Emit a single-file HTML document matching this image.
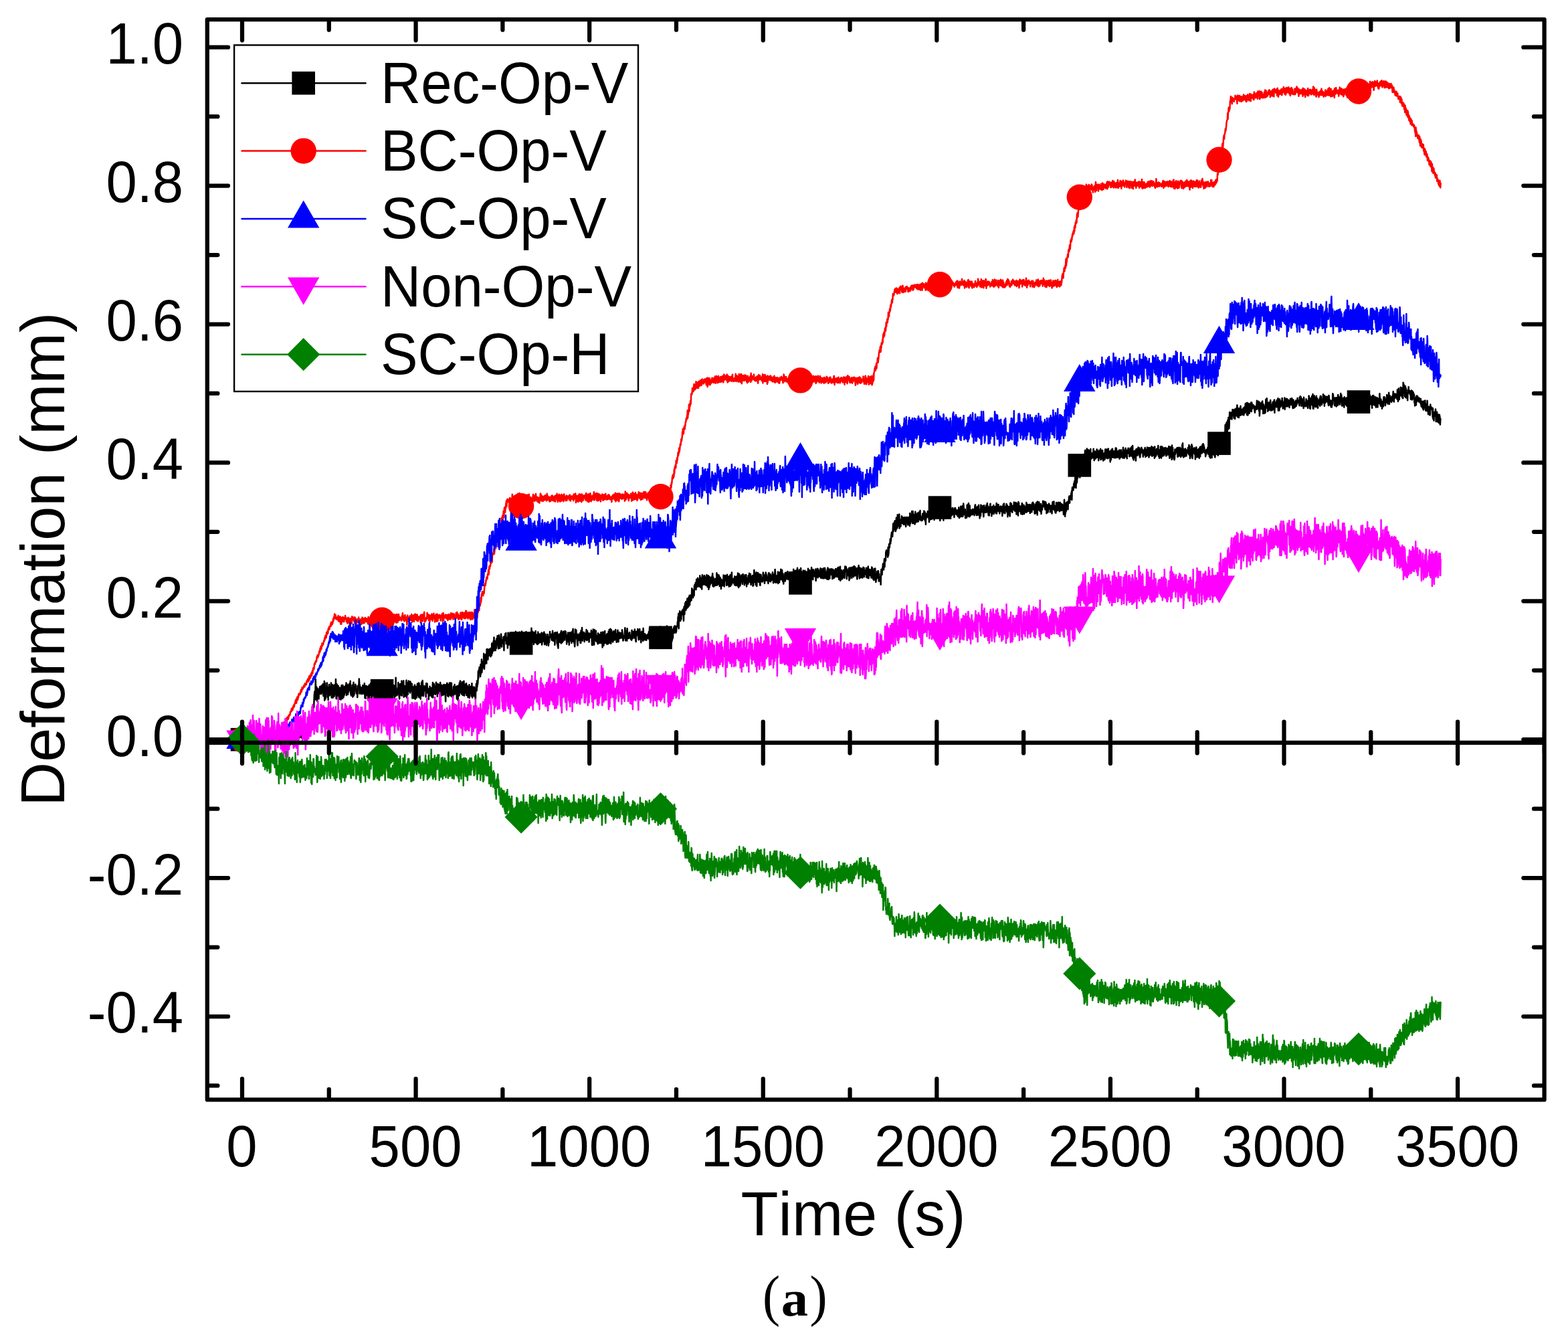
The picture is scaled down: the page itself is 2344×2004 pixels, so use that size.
<!DOCTYPE html>
<html lang="en"><head><meta charset="utf-8"><title>Deformation vs Time (a)</title>
<style>html,body{margin:0;padding:0;background:#fff}body{width:2344px;height:2004px;overflow:hidden}svg{display:block}text{font-family:"Liberation Sans",Arial,Helvetica,sans-serif;fill:#000;font-kerning:none}.tk{font-size:86.7px}.ax{font-size:93px}.cap{font-family:"Liberation Serif","Times New Roman",serif}.ln{fill:none;stroke-width:2.5;stroke-linejoin:round;stroke-linecap:round}.a{stroke:#000;stroke-width:6.25;stroke-linecap:round;fill:none}</style></head><body>
<svg xmlns="http://www.w3.org/2000/svg" width="2344" height="2004" viewBox="0 0 2344 2004">
<rect width="2344" height="2004" fill="#fff"/>
<g>
<path class="ln" stroke="#000000" d="M362.00,1101.6l.36 2.4l.37 6.5l.36-5.3l.36-4.2l.37 6.6l.36-6.4l.36 1.2l.37 5.3l.36-1.3l.36-6.4l.37 6.1l.36 .8l.36-3.9l.37 .3l.36 4.5l.36-.9l.37-2.3l.36 2.8l.36-5l.37 4.3l.36-2.4l.37 .7l.36-.9l.36 0l.37-.1l.36-1.6l.36 7.3l.37-3.3l.36-5.1l.36-.8l.37 3l.36 1.2l.36 2.1l.37-3.1l.36-1.8l.36 6.4l.37-4.8l.36 3.4l.36-6.8l.37 2.4l.36-.4l.36-1.3l.37 2.2l.36 3.8l.36 1l.37-6.5l.36-1.5l.36 1.3l.37 4.4l.36-2l.36 4.5l.37-6.7l.36 5.2l.36 1.8l.37-3.8l.36-4.2l.36 .6l.37 .2l.36 1.8l.37-.1l.36 5.6l.36-3.4l.37-4.3l.36 7.6l.36-7.2l.37 .5l.36 5.6l.36-2.3l.37-5.1l.36 7.3l.36-8l.37 1.5l.36 4.5l.36-2.8l.37 4.6l.36-.3l.36-.4l.37-6.4l.36-.2l.36-.2l.37 2.5l.36 3.2l.36-6.6l.37 2.7l.36-1.8l.36 7.6l.37-6l.36 2l.36-2.8l.37-2.1l.36 8.9l.36 1l.37-2.7l.36 .8l.36-.3l.37-.7l.36-3.4l.36-3.9l.37 7.3l.36-4.2l.37 2.7l.36 1.5l.36-.8l.37 2.5l.36-4.4l.36-2.1l.37 3.5l.36-.9l.36-3.4l.37 0l.36 2.1l.36-.2l.37 3.1l.36-1.9l.36-4.5l.37 3.6l.36-.7l.36 5.9l.37-7.1l.36 4l.36-3.4l.37 1.7l.36 1.5l.36-5.7l.37 7.3l.36-7.2l.36 2.2l.37 2l.36-2.2l.36 4.1l.37-1.4l.36-1.4l.36 6.2l.37-3.7l.36-1.5l.36 4.3l.37-7.9l.36 6.5l.37 1.4l.36-4.5l.36-2l.37-.2l.36 7.9l.36-1.6l.37-2.5l.36 3.1l.36-9.1l.37 10.9l.36-8.8l.36-1.8l.37 3.5l.36 2.6l.36-3.6l.37 4.2l.36 1.8l.36-8.2l.37 5.1l.36-7l.36 9.6l.37-10.4l.36 8.7l.36-4.1l.37 1.8l.36 .4l.36-2.8l.37-2.9l.36 5.5l.36-4.1l.37-.2l.36 4.4l.36-1.9l.37-5l.36 11.5l.36-1.7l.37 .8l.36-3.9l.37 1.2l.36-7.7l.36 9.2l.37-6.7l.36 5.6l.36-5.2l.37-.8l.36 5.8l.36 .7l.37 .9l.36-3.3l.36 5.4l.37-6.6l.36 4.2l.36-5l.37 3.7l.36 .1l.36-1.1l.37 4.1l.36-4.5l.36 .8l.37-6.8l.36 6.2l.36-4.9l.37 1.5l.36 5.3l.36-5.1l.37-.8l.36 5.2l.36-4.7l.37 7.2l.36-5.8l.36 1.8l.37 .6l.36-5.4l.36 6.1l.37 .7l.36-7.4l.36 2.3l.37-.4l.36-1l.37 4.6l.36-1.4l.36-1.9l.37 4l.36-4.8l.36 3.4l.37-6.7l.36 8.2l.36-.3l.37-3.1l.36-3.5l.36 6.7l.37-.6l.36-6.5l.36 2l.37 6.9l.36-3.2l.36-2.5l.37 .4l.36-.5l.36 1.7l.37 .8l.36-.2l.36-6.9l.37 4.5l.36 3.9l.36-2.2l.37-1.6l.36-2.1l.36 1.4l.37 4.9l.36-2.4l.36-5.6l.37 5.2l.36-1.1l.36-3.4l.37 3.4l.36-5l.37-.2l.36 2.4l.36-.8l.37 3.5l.36-2.5l.36 .4l.37-5.9l.36 1.2l.36 5.2l.37-.3l.36-1.7l.36 .8l.37 1.2l.36-8.9l.36-.4l.37 .6l.36 8.6l.36-15.4l.37 14l.36-7.5l.36 3.3l.37 1.4l.36-9.9l.36 8.8l.37-4.3l.36 1.4l.36-3.6l.37-8.5l.36-4l.36 3.8l.37-8.1l.36-4l.36-2.4l.37-6.1l.36 10l.36-.8l.37-2l.36-9.6l.36 1.2l.37 2.3l.36-11.9l.37-7.5l.36-3.6l.36-1.2l.37 1l.36 11.5l.36-30.4l.37 17.1l.36-.9l.36 11.6l.37-16.4l.36 4.5l.36 16.5l.37-19l.36 3.2l.36-1.8l.37 5.5l.36 7.4l.36-12.7l.37 14.3l.36-9l.36-3.7l.37 5.5l.36-9.6l.36-1.6l.37 1.7l.36-.6l.36 1.1l.37 7.1l.36 1.9l.36-12.5l.37 4l.36 6.2l.36 .3l.37-7.8l.36-4.4l.36-.6l.37 9.9l.36 7.7l.37-1.5l.36-1.4l.36-.5l.37-18.7l.36 28.9l.36-22l.37-4l.36 13.6l.36 10l.37-13.3l.36 5.2l.36-3.6l.37-4.8l.36 5.2l.36-12.6l.37 6.9l.36 14.5l.36-9l.37-.2l.36 13.4l.36-18.8l.37 12.5l.36-3.8l.36-13l.37 13.7l.36 2.8l.36-6.5l.37-5.9l.36 10l.36-7.7l.37 3.2l.36-12.2l.36 12.3l.37 9.9l.36-18.4l.36 4.1l.37-5l.36 6.5l.36 13l.37-16.9l.36 7.7l.37-5.6l.36-3.9l.36 16.9l.37-15.8l.36 10.7l.36-9.4l.37-3.4l.36 15.2l.36-3.9l.37-19.4l.36 10.7l.36 18.2l.37 .3l.36-1.8l.36-19.8l.37 1.2l.36 15.3l.36 .6l.37-7.9l.36 4.9l.36-11.8l.37 3.9l.36 10.1l.36 6l.37-6.3l.36 1l.36-8.2l.37-3.6l.36 1.1l.36 3.3l.37 13.5l.36-5.6l.36-.7l.37-15.4l.36 2.7l.36 6.1l.37-6.7l.36 18l.37-20.1l.36 7.4l.36-5.1l.37 15.7l.36-3.5l.36-11.1l.37 11.3l.36-2.2l.36-10.4l.37 8.9l.36-1.7l.36-4.9l.37-4.1l.36 4.4l.36-8.3l.37 18.6l.36-10.9l.36-.8l.37-4.5l.36 10.2l.36-6.6l.37 11.4l.36-8.8l.36 5.8l.37-11.2l.36 2.4l.36 2.4l.37-6.7l.36 10.3l.36-4l.37 3.3l.36-13.6l.36 15.8l.37 4.3l.36 .9l.36 .9l.37-4.7l.36-7.4l.37 11.9l.36-15.6l.36 9.6l.37 8.2l.36-5.9l.36-3.2l.37-12.7l.36 19.9l.36-2.3l.37 .2l.36-11.1l.36 3.2l.37-3.1l.36-1.2l.36-2.7l.37 8.3l.36-6.7l.36 9.5l.37 2.6l.36-6.5l.36 5.9l.37-4.5l.36 10.8l.36-6.5l.37-10.5l.36 .1l.36 .4l.37-2.1l.36-.2l.36-8.9l.37 5.6l.36 16.5l.36-13l.37 2.9l.36 10.1l.36-3.6l.37 .6l.36-6.2l.36 5.7l.37 1.8l.36 2.4l.37-3.5l.36-1.4l.36 4l.37-12l.36 6.5l.36 2.1l.37 3.9l.36-7l.36 .7l.37-.2l.36-9.1l.36 11.7l.37 10.2l.36-4.1l.36 1.8l.37 2.9l.36-18.6l.36 8.7l.37-8.5l.36 0l.36 10.2l.37 1.2l.36 2.6l.36-3.9l.37-2.3l.36 12.9l.36-20.2l.37 10.4l.36-3.3l.36-9.2l.37 19.7l.36-15.1l.36 10l.37-11.5l.36 12.3l.36-17.5l.37 17.1l.36-4.9l.37 4.2l.36 5.2l.36-9.9l.37-1.8l.36-4.1l.36 6.9l.37-8.3l.36 14.1l.36-10.2l.37-3.7l.36 7.1l.36-9.1l.37 3.4l.36 4l.36-6.5l.37 15.9l.36-18.2l.36 8.8l.37-3l.36 9l.36-12.2l.37 3.8l.36 13.5l.36-22.7l.37 20.4l.36-10.3l.36 4.7l.37-12.8l.36 4.7l.36 14.7l.37-15l.36 2.8l.36 7.9l.37-7.2l.36 9.1l.36-5.2l.37-7.6l.36 18.9l.36-19.6l.37-3.7l.36 8.9l.37 5.6l.36-4.9l.36-8.7l.37 14.3l.36 1.7l.36-6.8l.37 1.9l.36-.2l.36-5.4l.37 10.6l.36-4.1l.36-9.9l.37 3.9l.36 12.1l.36-21.4l.37 27.6l.36-11l.36-12.3l.37 8.2l.36-5.2l.36 .1l.37-4.4l.36 4.9l.36-1.5l.37 17.2l.36-22.6l.36 6l.37 9.3l.36-2.9l.36-6.2l.37 5.1l.36-13.9l.36 3.4l.37 4l.36 .4l.36-6.5l.37 .2l.36 8.8l.37 6.9l.36-8.8l.36-6.6l.37 3.9l.36-3.5l.36 9l.37-.8l.36 6.7l.36 1.6l.37-3.5l.36 3.4l.36-9.2l.37 4.5l.36-7.7l.36 15.2l.37-14.8l.36 1.1l.36 17.3l.37-9.8l.36 .4l.36 7l.37-7l.36-20.7l.36 23.4l.37-.4l.36 3.9l.36-3.2l.37 0l.36 2.1l.36-2.1l.37-8.1l.36 6.4l.36-14.8l.37 7.3l.36-2.1l.36 12.5l.37 3.3l.36 3.5l.36-7.1l.37-12.9l.36-2.5l.37 1.8l.36 9.9l.36 3l.37 2.2l.36-.1l.36-21.1l.37 22l.36-7.2l.36 3.1l.37-5.1l.36-1l.36 .5l.37-10.4l.36-2.3l.36 24.5l.37-4.3l.36-6.8l.36-5.7l.37 8.5l.36 6.9l.36-10.3l.37-1.1l.36 9l.36 2.7l.37-23.2l.36-.8l.36 26.2l.37-15.7l.36 6.2l.36-10.3l.37 15l.36-1.1l.36-16.8l.37 13l.36-15.6l.36 8.1l.37 4.9l.36-1.4l.37 .1l.36-9l.36 15.2l.37-17l.36 14.9l.36-12.3l.37 5.1l.36-2.4l.36 2.2l.37-4.2l.36 5.9l.36 15.9l.37-7.5l.36 2.6l.36-12.1l.37 8.2l.36-5.9l.36 14.6l.37-5.3l.36-2.4l.36-11.7l.37-.5l.36 11.2l.36 10l.37-4l.36-14.4l.36 1.2l.37 10.2l.36-11.2l.36 16.2l.37-10.1l.36-6.7l.36-4.2l.37 5.5l.36 12.3l.36-3.4l.37-1.8l.36-13.7l.37 21.4l.36-20.7l.36 14.5l.37 6.7l.36-.9l.36-15.8l.37 8.3l.36 10.5l.36-16.2l.37-3.7l.36 14.9l.36-20.1l.37 8.1l.36-6.8l.36 18.7l.37-22.6l.36 6l.36 14.7l.37-3.3l.36 5.8l.36-4.6l.37-9.9l.36-.3l.36 4.6l.37 2l.36-5.3l.36-1.1l.37 .8l.36 1l.36 14.2l.37-20.2l.36 13.1l.36-10.1l.37 2.6l.36-5.5l.36 12.2l.37-5.4l.36 7.8l.36-1.9l.37-4.7l.36 15.8l.37-6.1l.36-4.1l.36-5.8l.37 10.3l.36-13.7l.36 13.7l.37-.7l.36-.6l.36 .6l.37-6.2l.36-4.7l.36 5l.37 8.7l.36-12.4l.36 6.2l.37-6.9l.36-8.6l.36 22.6l.37-16.1l.36 1.4l.36-1.9l.37-3.9l.36 14.9l.36-3l.37-7.6l.36-.6l.36 2.2l.37 9.8l.36-7.7l.36-6.8l.37-3.5l.36 8.3l.36 1.6l.37 6.1l.36-13.3l.36 18.4l.37-18.8l.36 13.1l.37-10.2l.36-2.3l.36 8.3l.37 2.4l.36 .9l.36 2.7l.37-13.3l.36 .5l.36 .1l.37-4.3l.36 17l.36-14l.37 .4l.36 3.7l.36 12.6l.37-15.4l.36 6.9l.36 7.6l.37-3.1l.36-11.3l.36 4.2l.37 10l.36-13.5l.36 13l.37-15l.36 6.6l.36-5.9l.37 0l.36 8.8l.36-1.7l.37 8.9l.36 8.6l.36-25.1l.37 8.1l.36 1.4l.36-.7l.37-6.1l.36-5.2l.36 5.7l.37 13.6l.36-2.8l.37-12.2l.36-1.9l.36 17.9l.37-15.6l.36 3.9l.36 9.6l.37-18.3l.36 4.9l.36-1.4l.37 10.4l.36-14l.36 7.5l.37 12.2l.36-10.3l.36-9.2l.37 11.9l.36 2.3l.36 4.9l.37 2.1l.36-5.7l.36 7.2l.37-3.2l.36-8.6l.36-5.6l.37 10.6l.36 1l.36-8.5l.37-6l.36 14.4l.36-10.5l.37 6.8l.36 2.1l.36-9.3l.37 2.7l.36 7.2l.36-.4l.37 8.3l.36-19.1l.37 8.7l.36-8.7l.36 6.8l.37 14.7l.36-17.8l.36 9.2l.37-5.6l.36-9l.36 15.9l.37-19l.36 .9l.36 .3l.37-4.3l.36 17.4l.36-9.2l.37 7.5l.36-4.8l.36 8.7l.37-15.7l.36 10.9l.36-13.1l.37 19.3l.36-5.1l.36 5.3l.37 .3l.36-5l.36 1l.37-17.2l.36 10.2l.36 11.7l.37-8.4l.36 4.9l.36-7.5l.37-5.8l.36 .4l.36-.6l.37 13.1l.36-14.5l.36 17.9l.37-10.4l.36 1.2l.37-5.1l.36 9.2l.36-6.7l.37 14.8l.36-4.4l.36 .5l.37-7.1l.36 3.6l.36-11.4l.37 19.7l.36-14l.36 6.9l.37-9l.36 3.4l.36 .2l.37-4.6l.36 5.1l.36 9.2l.37-1.9l.36-17l.36 10.1l.37 11.1l.36-7.1l.36-8.1l.37 12.4l.36 .4l.36-13.3l.37 4.2l.36 0l.36-3.9l.37 10.8l.36-2.9l.36 7l.37-1.4l.36 5l.36-16.1l.37 1.3l.36-9l.37 9.6l.36 .9l.36-14.9l.37 9l.36-8.6l.36 4.7l.37-4.9l.36-14.3l.36 10.5l.37-12.3l.36 2.3l.36-2.8l.37-4l.36 7.4l.36-3.8l.37-2.5l.36 13l.36-18.2l.37 14.2l.36-13.5l.36 7.8l.37-16l.36 19.6l.36-3.9l.37-4.7l.36-7.1l.36 6.5l.37-7l.36 8.8l.36-5.4l.37-15.4l.36 6.1l.36 16.9l.37-7.1l.36 .1l.36-14l.37 9.6l.36-9.7l.37-.8l.36 10.4l.36-3.7l.37 6.9l.36-21.2l.36 12.6l.37-2.8l.36-9.1l.36-.9l.37 15.5l.36-9.1l.36-3.1l.37 6.8l.36-7l.36-1.3l.37-1.6l.36 4.4l.36 4.8l.37-9.1l.36-1.4l.36 12.3l.37-4.4l.36-5.9l.36-1.8l.37 10.3l.36-18.1l.36 11.6l.37 3.1l.36-14.7l.36-.2l.37 2.7l.36-.2l.36-5.8l.37 14.6l.36-19.9l.36 11.1l.37-5l.36 9.5l.36-8.1l.37-1.9l.36 13.9l.37-11.5l.36 4.3l.36 4.2l.37-14.3l.36 3.8l.36 4.9l.37-2.8l.36-10.5l.36 9.3l.37-5.1l.36 12.5l.36 2.5l.37-12.7l.36-7.4l.36 9.5l.37 2.8l.36-.2l.36 7.3l.37-14.9l.36 8.4l.36 .4l.37-12.7l.36-2.5l.36 4.9l.37 13.6l.36 .7l.36-5.1l.37-2.4l.36 2.4l.36-5.4l.37-.1l.36-1.7l.36-2.5l.37 .3l.36 20l.36-17.9l.37-3.1l.36 5.8l.37-.3l.36-9.5l.36 6.3l.37 2.2l.36-9.7l.36 16.2l.37-1.6l.36 .1l.36-.2l.37 1.2l.36-8.8l.36 15.6l.37-7.9l.36-15l.36 4.2l.37 1.5l.36 12.6l.36-17.3l.37 1.1l.36 13.4l.36 1.5l.37-1.7l.36-2.5l.36-4.2l.37 4.1l.36-4.2l.36 7.7l.37-6.6l.36-5.7l.36 16.6l.37-17.2l.36-1l.36 14.2l.37-14.2l.36 8l.36 3.4l.37 1.2l.36-2.5l.36 5l.37-8.7l.36 1.1l.37-7.9l.36 4l.36 2.3l.37-10l.36 22.2l.36-3.2l.37-14.1l.36 1.1l.36-1.9l.37 16.4l.36-2l.36-16.4l.37 6.3l.36 6.9l.36-1.5l.37-2.4l.36 6l.36-1.5l.37 0l.36-15l.36 .6l.37 5.9l.36 6.3l.36-5.7l.37 7.5l.36 2.9l.36 4.9l.37-4.6l.36-19l.36 5.9l.37-2.5l.36 12.9l.36-4.7l.37 15.8l.36-7.4l.36-8.1l.37-4.4l.36 9.9l.37 .3l.36 .3l.36 1.7l.37-1.5l.36-8l.36-5.7l.37 6.3l.36-6.7l.36-3.5l.37 4.6l.36 10.3l.36-4.6l.37-1.2l.36-1.3l.36 10.3l.37-7.4l.36 3l.36-1.8l.37 6.6l.36-2.2l.36 3.7l.37-15.3l.36 5.8l.36 5.2l.37-4.1l.36 1l.36-3.7l.37 5.8l.36-13.9l.36 15.2l.37-21.3l.36 15.2l.36-10.9l.37 6l.36 10.7l.36-4.2l.37-6.2l.36-3l.36-1.7l.37 18.4l.36-9.8l.37-7.7l.36 9l.36-8.9l.37 3.2l.36 11.5l.36-8.3l.37-8.9l.36 11.9l.36-6.5l.37 4.5l.36 8.3l.36-12.9l.37 10.3l.36 4.4l.36-13l.37 11.3l.36-16.8l.36 17.4l.37-10.4l.36 5.4l.36-.8l.37 .8l.36-9.5l.36 12.7l.37-9.5l.36 7.1l.36-9.9l.37 0l.36 12.2l.36-13.5l.37 12.7l.36-13.8l.36 18.1l.37-2.9l.36-2.4l.36-4.9l.37-7l.36 3.7l.37 7.6l.36-11l.36 11.7l.37-13.8l.36 6.5l.36 12l.37-8.8l.36-6.8l.36 11.1l.37 3.5l.36-4.6l.36-.2l.37-6.1l.36 13l.36-5.9l.37-10.3l.36 .1l.36 8.4l.37-8l.36 6.8l.36 2.1l.37 7.6l.36-4.9l.36-2.8l.37 2.8l.36-7.9l.36-2l.37-6.3l.36 7.7l.36 .8l.37-3.8l.36 3l.36-2.5l.37 1.4l.36 6.1l.36-9.2l.37 4.1l.36 3.9l.37-12.7l.36 8.1l.36 6.9l.37-6.8l.36 3.8l.36-1.8l.37-4.4l.36 9.7l.36-12.5l.37 18l.36-10.1l.36-6.9l.37-1.5l.36 8.7l.36-6.5l.37-.9l.36 4.8l.36-3.8l.37 14l.36-16.8l.36 5.5l.37 15.2l.36-10.1l.36 13.3l.37-14.2l.36-.9l.36-5.5l.37 11.6l.36-10.8l.36-.2l.37 10.7l.36-12.4l.36 12.8l.37-4.6l.36-10.4l.36 16.8l.37-18.7l.36 4l.36 1.8l.37-2.8l.36 14.1l.37-13.2l.36 7.1l.36 4.5l.37-14.5l.36 8.2l.36 .6l.37-2.2l.36 3.6l.36 1.5l.37 1l.36-13.5l.36 7.3l.37-4.2l.36-2.4l.36 8.4l.37-1.2l.36-1.8l.36 13.3l.37-11.5l.36 3.7l.36 .7l.37-2.5l.36-7.2l.36 13.2l.37-8.9l.36 6.8l.36-2.3l.37 9.3l.36-8.5l.36-9.9l.37 12.1l.36-11.7l.36 2l.37 6.8l.36 3.3l.36-2.6l.37-10.4l.36 16.2l.37-9.8l.36-4.5l.36-.5l.37-3.6l.36 8.8l.36-11.7l.37 19l.36-11.5l.36 2l.37 3.2l.36 9l.36-4l.37 8.9l.36-4.2l.36-21.6l.37 13.2l.36-2.6l.36 3l.37-12.7l.36 8.4l.36 1.8l.37-1.9l.36 6.1l.36 5.7l.37 3.1l.36-14.5l.36-2.4l.37 .8l.36 8.5l.36-1.4l.37-4.7l.36-2.7l.36 7.3l.37-1l.36-8.6l.36 14.8l.37-15.4l.36 15.6l.36-18.6l.37 2.1l.36 12.2l.37-6.6l.36-12l.36 16.1l.37 3.5l.36-5.5l.36-6.8l.37-.5l.36 3.3l.36 1.9l.37 3.3l.36-8l.36 13.6l.37-12l.36 9.7l.36-5.6l.37-2.9l.36 5.4l.36-4.5l.37 1.4l.36-9.3l.36 15.1l.37 .9l.36-.5l.36-13.7l.37 12.7l.36-9.6l.36 .9l.37 5.5l.36-5.9l.36 5.2l.37 7.7l.36-7.3l.36-5.5l.37 .3l.36 5.8l.36 .2l.37-4.9l.36 1l.37 1.5l.36-8.4l.36 2.2l.37 8l.36 11.7l.36-7.9l.37 1.4l.36 6.5l.36-9.2l.37-14.3l.36 13.9l.36-11.2l.37 2.5l.36 17.8l.36-22.6l.37 10.9l.36 5.3l.36-7.3l.37-5.9l.36-.6l.36-.7l.37 15.7l.36-5.6l.36 5.1l.37-7.8l.36 5.5l.36 4.7l.37-8.5l.36 10.5l.36-15.9l.37 3l.36 9l.36-10.8l.37 4.9l.36 8.6l.36-.2l.37-1.7l.36-9.5l.36 4.5l.37-6.2l.36 13.1l.37-15.9l.36 6.7l.36-2.7l.37 .8l.36 8.8l.36-3.7l.37 12.5l.36-22.9l.36 1.2l.37 9.3l.36 .8l.36 8.9l.37-9.1l.36 1.6l.36-13.4l.37 1.9l.36-2.9l.36 18l.37-10.9l.36 10.7l.36-5l.37 .2l.36 1.6l.36-8.8l.37 13.7l.36-15.1l.36 3.5l.37-3.3l.36 5.8l.36 9.2l.37-8.7l.36-10l.36 15.9l.37-4.2l.36-14.5l.36 7.8l.37 12.2l.36-4.2l.37 .1l.36-17.2l.36 10.3l.37 11.7l.36-13.8l.36-6.5l.37 13.6l.36 3l.36-12.8l.37 .2l.36 12.2l.36 1.8l.37-3.6l.36-12.2l.36 11.2l.37-11.5l.36 13.1l.36-2.6l.37 2.7l.36-2l.36-2.1l.37-3.7l.36-7.6l.36 14.5l.37-8.5l.36 5.9l.36 6.7l.37-11.9l.36 7.2l.36 3.6l.37-5.5l.36-11.3l.36 9.3l.37 5.6l.36 2.6l.36-6.3l.37-7.4l.36 4.9l.37-5.4l.36 8.8l.36-6.8l.37-1.1l.36 3l.36-2.8l.37 7.3l.36-2.3l.36-.4l.37 2.5l.36-1.6l.36-10.4l.37 4.9l.36 .2l.36 5.9l.37 5.3l.36-2.2l.36-4.7l.37 .4l.36 2.3l.36-2.4l.37-.2l.36-7.6l.36-4.9l.37 7.4l.36 11.5l.36-14.4l.37 5l.36 9.1l.36-9.3l.37-3.5l.36 13.5l.36-18.3l.37 7l.36 6.8l.36-5.2l.37 4l.36 2.1l.36 0l.37-7.6l.36 6.7l.37-7.2l.36-.9l.36 7.7l.37-3.6l.36 3.2l.36 2l.37 1.1l.36-5.7l.36 4.4l.37 2.6l.36-14.9l.36 9.1l.37-7.3l.36 4.8l.36-3l.37 8.5l.36-8.2l.36-1.5l.37-.5l.36 .6l.36 7.6l.37-2.6l.36-8.8l.36 13.5l.37-4.1l.36-6.3l.36 13.9l.37 1.5l.36-14.3l.36 3.6l.37 1.3l.36-5.9l.36 2.7l.37-.8l.36-5.5l.36 .8l.37 5.4l.36 7.3l.37 2.7l.36-9.7l.36-4.7l.37 4.2l.36-6.1l.36 3.5l.37 3.7l.36 8.3l.36-10.5l.37 9.8l.36 5.4l.36-12.8l.37 7.4l.36-11l.36 1.3l.37 7.7l.36-3.2l.36-5.4l.37 13.6l.36-18.9l.36 9.6l.37-.5l.36 5.4l.36-5.4l.37 7.8l.36 .4l.36-9l.37 6.9l.36 2.2l.36-7.6l.37 7.3l.36 .4l.36 .2l.37-1.2l.36-5.1l.36 2.8l.37-4.6l.36 5.2l.36-2.3l.37 1l.36-5.4l.37-.1l.36-3l.36 11.5l.37-9.8l.36-7.6l.36 13.9l.37-.7l.36-5.6l.36-2.8l.37 6.5l.36 13.2l.36-21.3l.37 8l.36-7.8l.36 3.9l.37 5.2l.36-3.6l.36-9.6l.37 22.3l.36-20.3l.36 7.1l.37-4.4l.36 13l.36-16.7l.37 6.7l.36 8.8l.36 2.5l.37-4.8l.36 6.4l.36-10.8l.37 8.1l.36-5.9l.36 6.7l.37-3.7l.36 5.2l.36-3.6l.37-3.3l.36-5.3l.37 12.2l.36-10l.36 .3l.37 6.4l.36-7.9l.36 13.2l.37-5.8l.36-12.7l.36 13.3l.37-14.3l.36-3.6l.36 15.8l.37 2.9l.36-2.7l.36-10.9l.37 6.9l.36 4.2l.36 .4l.37 .5l.36-7.8l.36 12.6l.37-2.4l.36 .2l.36-4.5l.37-4.2l.36 2.5l.36-8.5l.37-.2l.36-2.7l.36 .5l.37 11.2l.36-3.4l.36 3l.37-7.6l.36 10.8l.36-10.2l.37 5.3l.36-12.6l.36 17.8l.37-8.9l.36-.3l.37 9.3l.36-2.7l.36-4.6l.37-4.6l.36 11l.36-13.5l.37 10l.36 6.6l.36-1l.37 3.1l.36-14.4l.36 8.8l.37-12.1l.36 5.6l.36-6.4l.37 10.1l.36-2l.36 10.8l.37-11.8l.36 8.8l.36-10.6l.37 8.7l.36-13.2l.36 .4l.37 1.6l.36-5.2l.36-.1l.37 9l.36-3.6l.36-6.9l.37 3.2l.36 2.6l.36 3.7l.37 .9l.36-3.8l.36 2.2l.37-8.2l.36 .2l.37 .5l.36-.3l.36-7l.37 3.6l.36-10.7l.36 3.4l.37-8.5l.36 22.3l.36-18.3l.37-.7l.36 2.7l.36-9.8l.37 11.2l.36-6.9l.36 10.5l.37-4.3l.36-4.3l.36 6l.37-11.1l.36 3.2l.36 1.1l.37-6.4l.36 6.2l.36-5.5l.37 5.6l.36-7.9l.36 2.5l.37 14.6l.36-16.3l.36-4.7l.37-.5l.36 11.7l.36-8.3l.37-8.3l.36 4l.36 5.2l.37-11.4l.36 12.4l.37-10.4l.36 6l.36-2.3l.37 1.5l.36-11.9l.36 14l.37-5.5l.36 1.8l.36-2l.37 3.9l.36-14.3l.36 8.9l.37 2.4l.36-13.9l.36 14.5l.37-11.2l.36 1.9l.36 3.8l.37-3.1l.36-5.9l.36-1l.37 8.4l.36-6.2l.36-11.6l.37 6.8l.36 4.9l.36-9.7l.37 5.7l.36 6.2l.36-6.1l.37-1.8l.36-2.5l.36 7.2l.37-13.9l.36-1.7l.36-.7l.37 3.8l.36-1.8l.36-4.8l.37 5.1l.36 5.2l.37-7.1l.36-8.4l.36 11.8l.37-2.6l.36-8.2l.36 5.1l.37-8l.36 11l.36-.9l.37 2.7l.36-10.8l.36 1.6l.37 6.9l.36 1.9l.36-1.9l.37-14l.36 5l.36 12.2l.37-14l.36 3.9l.36-3.5l.37 14.5l.36-11.4l.36 13.4l.37-15.7l.36-5.5l.36 8.4l.37 4.9l.36-8.9l.36 10l.37-11.6l.36 9.1l.36 2.3l.37-13.4l.36 4.8l.36-3.7l.37 2.1l.36 9.7l.37 1.2l.36 .4l.36-4.8l.37 5l.36-1l.36-14.6l.37 6.8l.36 2.1l.36 8.9l.37-14l.36 13l.36-13.5l.37-2.2l.36 20.6l.36-7l.37 0l.36 4.1l.36-15.9l.37 6.5l.36 5.5l.36-1.9l.37-2.3l.36-6.6l.36 6.5l.37-1.2l.36 2.9l.36-7.9l.37-2.4l.36 4l.36-8l.37 18.8l.36-10.5l.36-2.9l.37 3.9l.36 10.3l.36-.7l.37-1.5l.36-8.4l.36 1.9l.37-2.8l.36 5.2l.37 4.7l.36-10.4l.36 1.2l.37-1.5l.36 10.2l.36-18.3l.37 17.5l.36 .6l.36-10l.37-5.7l.36 14.8l.36-5l.37-8.9l.36 1.8l.36-1.9l.37 7l.36-4.8l.36 14.4l.37-11.1l.36 3.7l.36-5.3l.37 .9l.36 1.1l.36 14.5l.37-8.8l.36 2.4l.36-3.3l.37-3.4l.36 8.6l.36-4.3l.37 3.4l.36-4.5l.36 4.7l.37-15.1l.36 11.7l.36-1.9l.37 7l.36-12.7l.37 2.6l.36 .1l.36-6.4l.37 5.3l.36 2.5l.36-7.1l.37-.5l.36 14.5l.36-11.9l.37 .5l.36-4.5l.36 11.3l.37 .9l.36 3.3l.36-10.2l.37-2.3l.36 10.1l.36-.5l.37 5.3l.36-15.5l.36 5.4l.37-6l.36 12.2l.36-13.8l.37 16.8l.36-15.6l.36 7.4l.37 1.4l.36 4.7l.36-18.3l.37 11.4l.36-.4l.36-1.9l.37 6.6l.36-.4l.36-.3l.37-.7l.36-4.8l.36 .7l.37 4.9l.36 3.3l.37-12.5l.36 4.5l.36-1.4l.37 10.6l.36-12.5l.36 12.1l.37-10.6l.36-2.1l.36 12.7l.37-12.1l.36-1.8l.36 6.6l.37 8.3l.36-19.1l.36 12.4l.37-8.2l.36 17.4l.36-15.4l.37-5.3l.36 9l.36-7.3l.37 16.9l.36-9.7l.36 8.4l.37-7.2l.36-6.2l.36 8l.37-.3l.36-9.5l.36 4.2l.37 .8l.36 6.3l.36 2.1l.37-7.3l.36-7.5l.36 6.3l.37-2.2l.36 6l.37-5.6l.36-.5l.36 12.2l.37-12.2l.36-2.9l.36 12.4l.37-9.1l.36 4l.36-2.1l.37-5.4l.36 7.1l.36 10.4l.37-11l.36 .3l.36 2.8l.37-4.7l.36 3.8l.36 5l.37-12.1l.36 1.9l.36-1.3l.37 8.8l.36-13.2l.36 10.8l.37-7.2l.36 5l.36 2.1l.37-9.8l.36 12.5l.36 3.7l.37-10.2l.36-2.3l.36 1l.37 7.8l.36-1.4l.36-6.8l.37-2.1l.36 15.8l.37-7.8l.36 6.8l.36-14.9l.37 4.6l.36-12.4l.36 6.7l.37-2.4l.36 12.6l.36 1.4l.37-3l.36-8.6l.36 15.5l.37-11.6l.36-7.3l.36 7l.37 13.6l.36-12.2l.36 5.1l.37-5.5l.36 1l.36-8.4l.37 4.4l.36-.6l.36 10.3l.37-8l.36 2.5l.36-4.7l.37-1.7l.36 16.2l.36 .4l.37-13.1l.36-1.9l.36-.9l.37 4.5l.36 4.5l.36-4.5l.37 5.6l.36 .6l.36-.3l.37-2.4l.36-.8l.37-10.4l.36 1.4l.36 3.1l.37 1.4l.36 1.2l.36 6.2l.37 2.9l.36-4.9l.36-7.7l.37 6.3l.36 2.2l.36-12.3l.37 2.7l.36 1.7l.36-.4l.37 5.7l.36-2.9l.36 5.6l.37-.4l.36-2.8l.36 2.8l.37 4.6l.36-14.6l.36-.4l.37-1l.36 6.1l.36 3.6l.37-4.4l.36 7.3l.36-6.6l.37-3.7l.36 11l.36-2l.37-6.7l.36 2.4l.36-1.3l.37 5.1l.36-3.1l.37-5l.36-3.5l.36 5.9l.37-3.2l.36 13.3l.36-9.5l.37 .8l.36 7.6l.36-1.2l.37-2l.36-7.7l.36-8.3l.37 5.2l.36 6.7l.36 7.9l.37-8.4l.36 1.6l.36 6.7l.37-3.9l.36-6.5l.36 4.7l.37-3.9l.36 8.1l.36-14.5l.37 17.4l.36-6.8l.36-9.7l.37 12.6l.36-3.9l.36 6.1l.37-14.5l.36 10.8l.36-11.5l.37 5.6l.36-5.4l.36-4.5l.37 14.8l.36-8.7l.36 .5l.37 8.8l.36-14.2l.37 8.1l.36 2.4l.36 6.1l.37-11.2l.36 10.1l.36 5.1l.37-9.4l.36-1l.36-.9l.37 1.4l.36 .4l.36-6.5l.37 11.8l.36-8.5l.36 1.5l.37-5.8l.36 1.5l.36-.9l.37 9.1l.36-8.2l.36 5.4l.37 1.1l.36-9.5l.36 4.7l.37 7.2l.36-2.6l.36 .9l.37 .6l.36-3.7l.36-4.5l.37 6.7l.36 .9l.36-7.5l.37 11.3l.36-2l.36 .9l.37-8l.36 1l.37-4.5l.36 16.8l.36-9.3l.37 7.4l.36-4.3l.36 .7l.37 .3l.36 .8l.36-17.1l.37 7.7l.36 1.4l.36-2.4l.37 7.5l.36-6.2l.36 6.5l.37-12.5l.36 2.8l.36 2.3l.37 6.6l.36-4.7l.36 .9l.37-8.5l.36 16.8l.36-13.4l.37-6.8l.36 17.3l.36-3.5l.37 .6l.36-1.2l.36-8.2l.37 11.3l.36-8.4l.36-5.3l.37 1.3l.36 4.4l.36 3.8l.37-.8l.36-2.8l.36-8.3l.37 13.5l.36-8.8l.37 7.4l.36 1.3l.36 6.8l.37 2l.36-8.5l.36 5.7l.37-5.9l.36-9.9l.36 5.8l.37-2.5l.36 5.1l.36 1.9l.37 1.4l.36-5.4l.36-6.2l.37 1.4l.36 4.4l.36 8.7l.37 1.9l.36-.2l.36-14.3l.37 11.8l.36-4.9l.36 2.2l.37-4.6l.36 2.1l.36 .2l.37-11.6l.36 4.4l.36 12l.37-8.7l.36 7.4l.36-4.7l.37-8.3l.36 8.5l.36 2.4l.37-9.8l.36 3.8l.37 5.9l.36 2.8l.36-5l.37-12.4l.36 7l.36-4.2l.37 13.7l.36-6.7l.36-.8l.37 9.1l.36-7.4l.36-7.6l.37 2.3l.36 7.1l.36-5.9l.37-1.1l.36 2.9l.36 5.1l.37-1.6l.36-.7l.36-8.9l.37 17.5l.36-6.8l.36-2.9l.37-5.3l.36 4.3l.36 .4l.37-7.9l.36 4.6l.36 9l.37-3.3l.36-9.2l.36 7l.37 3.1l.36-2.8l.36 3.3l.37 0l.36-8.1l.37 8.4l.36-7.4l.36-5.1l.37 10.4l.36 4.4l.36-9l.37 8.7l.36-13.4l.36 5.7l.37 2.1l.36 2.2l.36-.2l.37 4.3l.36-2.5l.36-12.6l.37 13.7l.36-5.9l.36 7.2l.37-3.7l.36 1.7l.36-13.5l.37 2.7l.36 10.4l.36 .1l.37 2.2l.36-6.8l.36 1.9l.37-4.8l.36 6.3l.36 4.8l.37-14.3l.36 8.7l.36-11.5l.37 13.4l.36 4.1l.36-1.7l.37-13.6l.36 1.7l.36 9.3l.37-4.9l.36 7.8l.37-14.1l.36 0l.36 3.7l.37 4l.36-7l.36 3.5l.37-4.4l.36 8.9l.36-1.8l.37-4.8l.36 12.5l.36-4.7l.37-9.7l.36 7.3l.36-6.1l.37 1.6l.36 10.4l.36-11.6l.37 10.7l.36-2.3l.36-6.6l.37 6l.36 1.7l.36-11.9l.37 10.9l.36 .2l.36 .6l.37-11.2l.36 3.2l.36 7.5l.37-.3l.36-4.6l.36-7.6l.37 13.9l.36-2.7l.36 0l.37-12.1l.36 18.3l.37-14l.36 6.1l.36-9.9l.37 5.1l.36-6.5l.36 21l.37-7l.36 5.4l.36-13.5l.37 10.2l.36-10.8l.36 2.4l.37-.4l.36 11l.36-10.5l.37 6.9l.36-1.4l.36 3l.37-11l.36 2.6l.36 6.8l.37-8.3l.36 10.5l.36-10.2l.37-7.1l.36 4l.36 1.7l.37-5.3l.36 .1l.36 5l.37 2.9l.36 10.3l.36-14.5l.37 9l.36-.2l.36-2.7l.37-.4l.36 3.9l.36-6.7l.37-.5l.36-3.8l.37 18.1l.36-18.9l.36 6.7l.37 9.9l.36-5.4l.36-4.5l.37 2l.36-5.4l.36-3.7l.37 3.6l.36 4.7l.36 7.5l.37-15.5l.36 5.1l.36 6.4l.37-3.8l.36-8.8l.36 2.8l.37 11.9l.36-7.8l.36-8.2l.37 10.7l.36 1.2l.36-5.9l.37-4.9l.36 13.4l.36-4.1l.37-5.1l.36 5.6l.36 1.7l.37-9.3l.36 7.7l.36 5.3l.37 3.3l.36-3.9l.36-12.2l.37 2.8l.36-4.4l.37 10l.36-12.8l.36 6.6l.37-3.9l.36 13.9l.36 2.9l.37-9.2l.36-6.3l.36 2.1l.37 1.1l.36 10.9l.36-11.4l.37-2.2l.36 .8l.36 5.4l.37-1.8l.36 6.9l.36 2.8l.37-12.1l.36 0l.36-3.7l.37 8.5l.36-5.6l.36-2.1l.37 13.3l.36-8.7l.36 5.7l.37-1.1l.36-5.3l.36 2.2l.37 .7l.36 .1l.36-6.7l.37 13.9l.36-7.1l.36-4.6l.37 11.7l.36 .7l.36-14.5l.37 4.6l.36-6.9l.37 6.3l.36 11.4l.36-11.9l.37 4.8l.36-6.3l.36 1.2l.37 6.4l.36-6.9l.36 8.5l.37-5.9l.36-2.2l.36 2.2l.37 9.2l.36-7.1l.36-8.8l.37 8l.36-6.7l.36 13l.37-4.4l.36 7.9l.36-3.4l.37-9.3l.36 5.6l.36 8.9l.37-17.2l.36 6.4l.36 4.4l.37-.4l.36-10.8l.36 12.6l.37 2.2l.36 5.6l.36-5.7l.37 1.4l.36-7.6l.36 2.9l.37-6.8l.36 8.9l.37-5l.36-4.4l.36 10.3l.37-10.7l.36 5.1l.36 10.3l.37-10.8l.36 10.4l.36-5.9l.37 4l.36-1.6l.36-.1l.37-1.6l.36 10.6l.36-16.3l.37-6.3l.36 8.4l.36-6.2l.37 5.8l.36-6.8l.36-3.8l.37-.2l.36-5.7l.36 9.1l.37-8.8l.36 8.7l.36-5.6l.37-7.3l.36-3.7l.36 12.2l.37-12l.36 3.7l.36-3.2l.37 2.7l.36-13.5l.36-.4l.37-2.1l.36 .2l.37 5.6l.36-.5l.36-4l.37 7.6l.36 1.4l.36-14.6l.37 12.3l.36-2.2l.36-5.4l.37-9.6l.36 4.1l.36 1.2l.37-6.1l.36-1l.36-6l.37 7.1l.36-7l.36 3.4l.37-7.8l.36-2.8l.36-2.8l.37 .1l.36 3.9l.36 2.5l.37-6l.36-5.9l.36-7.4l.37 11.4l.36-1.1l.36-3.1l.37 1.5l.36-11.1l.36 5.4l.37-7.3l.36 5.2l.36 3.4l.37 7l.36-12.9l.36 10.7l.37-18l.36 9.3l.37-8.3l.36 3.7l.36 10.9l.37-20l.36 10.8l.36-.5l.37-2.8l.36 9.2l.36-11.1l.37 2.8l.36-9.1l.36 21l.37-4l.36-9l.36 2.6l.37 1.3l.36 6.3l.36-9.7l.37 5.1l.36-5.5l.36-5.4l.37 6.7l.36-5l.36 3.2l.37 6.1l.36-9.1l.36 7.6l.37-.6l.36 3.8l.36-7.4l.37 .4l.36-3.8l.36 10l.37-10.1l.36 .5l.36 9.8l.37 1l.36 2.6l.37-2.7l.36-5.3l.36-6.1l.37 .8l.36 7.1l.36-7.7l.37 1.3l.36 5l.36 5.1l.37-5.4l.36 3.1l.36-1.8l.37-7.7l.36 .8l.36-1.2l.37 13.6l.36-19l.36 8.2l.37 7.4l.36-7.4l.36 4.9l.37-7.7l.36 5.5l.36-5.5l.37-8.3l.36 4.2l.36 2.4l.37 11.5l.36-18.2l.36 18.1l.37-3.6l.36-2.3l.36-7l.37 2l.36 7.1l.36-5.5l.37 10.8l.36-11.1l.36-7.7l.37 4.9l.36-1l.37 12l.36-12.2l.36 .4l.37 7.4l.36-7.3l.36 1.8l.37-3.9l.36 12.8l.36 0l.37-11.8l.36 11.4l.36-5.1l.37-8.6l.36 10.5l.36-7.9l.37 4.4l.36 1.8l.36-11.4l.37 14.2l.36-6.2l.36 2.8l.37 3.7l.36 .7l.36-2.5l.37-3.2l.36 2.2l.36 3.1l.37-9.9l.36 2.8l.36 5.1l.37-8.6l.36 5.2l.36 .1l.37-9l.36 6l.36 5.5l.37 2l.36-11.6l.37 13.8l.36-9.6l.36 14.3l.37-12.7l.36 3.7l.36-6.8l.37 4l.36 .9l.36-2.4l.37-4l.36-2.4l.36 6.7l.37 2.3l.36-1.4l.36-1.5l.37 3.8l.36 6.2l.36-6.7l.37-.6l.36-11.8l.36-5.3l.37 4.9l.36 15.6l.36-4.1l.37-10.1l.36 7.1l.36 6.1l.37 .3l.36-8l.36 6.2l.37-3.4l.36 .5l.36-6.2l.37 2.6l.36 5.5l.36-6.3l.37-1.4l.36 11.8l.36-9.4l.37-1.1l.36-.5l.37-2.9l.36-.2l.36-2.3l.37 5.5l.36 4.3l.36 1.7l.37-5.4l.36-4.3l.36 11.8l.37-4.9l.36-2.1l.36 1.4l.37 5.6l.36-7.1l.36 3.4l.37-2.8l.36-4.5l.36-1.4l.37 9.3l.36-7.7l.36 14.7l.37-9.5l.36 5.8l.36-14.2l.37 7.9l.36 1.6l.36 1.4l.37-7.7l.36-1.5l.36 1.8l.37 1.9l.36 3.3l.36-10.3l.37 12.7l.36 6.4l.36-13.2l.37-7.4l.36 4.9l.37 5.8l.36 1.5l.36-4.8l.37 7l.36 2.5l.36-1.8l.37-.1l.36-3.2l.36 2.6l.37-12.7l.36 10.1l.36-12.5l.37-1.1l.36 5.8l.36 10.3l.37-.6l.36-11l.36 8.7l.37-4.5l.36-2l.36 7.7l.37-1.5l.36-8.6l.36 10.2l.37-4.6l.36-.3l.36-5.8l.37 6.1l.36 4.8l.36 .5l.37-9.9l.36 9.3l.36-2.4l.37 1l.36-9.3l.36 4.4l.37 5l.36-6.4l.37-.8l.36 5.3l.36 6.4l.37-2.5l.36-8.2l.36-3.4l.37 .1l.36 8.8l.36-7.1l.37 1.7l.36-.1l.36 6.4l.37-3.4l.36-2.6l.36 3l.37 4.3l.36 1l.36-7.5l.37-1.8l.36 10.4l.36-2.1l.37-11.7l.36 8.3l.36 7.5l.37-4.7l.36-3.6l.36-4.7l.37 2.8l.36 1.9l.36-9l.37 15.4l.36-2.9l.36-8.9l.37 7.8l.36-7.7l.36-1.6l.37-2.9l.36 16l.36-1.7l.37-8.3l.36-9.4l.37 4.3l.36 5.7l.36 6.5l.37-2.5l.36-3.1l.36-2.2l.37-.1l.36 13l.36-7.9l.37 .2l.36-1.4l.36-.4l.37 9l.36-2.3l.36-16.6l.37-.3l.36 10.2l.36 .9l.37-2.8l.36 8.7l.36-19.5l.37 4l.36 6.4l.36-6.3l.37 16.2l.36-16.8l.36 11.7l.37 3.6l.36-1l.36-3.5l.37-3.9l.36 4.7l.36-2.9l.37-2.1l.36 3l.36 4.2l.37-4.9l.36-3.5l.37 0l.36 6.8l.36 .5l.37-6.8l.36 2.2l.36-.2l.37 6.8l.36-3l.36-9.5l.37-2.8l.36-.6l.36 12.7l.37-9l.36 .9l.36 5l.37 6.2l.36-4.8l.36-3.4l.37-4.3l.36-.6l.36 6.4l.37 6.2l.36-10.7l.36 .9l.37-5.1l.36 7.7l.36 4.7l.37-5.3l.36 12.6l.36-10.3l.37 4.5l.36-4.9l.36 7.3l.37-16.5l.36 10.9l.36-6.7l.37 .1l.36-1.8l.36 8.1l.37-1.4l.36-7.6l.37 .6l.36 .8l.36 10.1l.37 4.7l.36-9.6l.36-7.5l.37 2.5l.36 .3l.36 2l.37 5.6l.36-.9l.36-6.3l.37 7.5l.36-2.3l.36-8.5l.37 7.9l.36 2.2l.36-1.8l.37-11.5l.36 5.3l.36 6.2l.37-6.7l.36 7.3l.36 5.8l.37-5.2l.36 3.1l.36 2.8l.37-9.1l.36-4.1l.36 8.4l.37-12l.36-1l.36 10.4l.37-3.1l.36 1l.36-.9l.37 11.1l.36-5.2l.37-8.6l.36 10.5l.36-10.8l.37 7.7l.36 .9l.36-1.4l.37-9.4l.36 13l.36-7.6l.37 1.6l.36 2l.36-2.5l.37-3l.36-1.3l.36 8.3l.37 .2l.36 1.7l.36-8l.37-7.2l.36 15.4l.36-12.9l.37 9.1l.36-9.6l.36 .6l.37 7l.36-.9l.36-6.7l.37 10.2l.36-1.5l.36-5.4l.37 2.9l.36 7.1l.36-6.7l.37-2.8l.36 5.8l.36-7.3l.37 3.4l.36-.2l.36 4.1l.37 .8l.36-1.5l.37-5.9l.36 13.8l.36-12.5l.37 5.6l.36-5.2l.36-5l.37 12.6l.36-4.5l.36-9.5l.37 12.1l.36-8.1l.36 8.6l.37 2.2l.36-5.5l.36-1.7l.37 .1l.36 .3l.36-2.6l.37-4.9l.36 5l.36 6.5l.37 1.3l.36-10.2l.36 16.8l.37-13l.36 10.3l.36-2.2l.37-1.5l.36-8.7l.36 1.6l.37 6.2l.36-1.9l.36 8.3l.37-11.3l.36-8.6l.36 2.8l.37 5.8l.36 1.4l.37-8.8l.36 11.5l.36-5.8l.37 2.3l.36 5.1l.36-8.7l.37 3.3l.36-4.7l.36 5.7l.37-4.1l.36-.4l.36-6.3l.37 1.6l.36 10.4l.36-8.6l.37 9.8l.36-12.1l.36 5l.37-5.6l.36 7.4l.36-1.6l.37 11.6l.36-16.5l.36 1.2l.37-.7l.36 15.5l.36-12.4l.37-3.1l.36 18.1l.36-20.5l.37 14.4l.36-12.9l.36 9.3l.37-3.6l.36 4.1l.36-1.3l.37-3.5l.36 8.1l.37-.3l.36-7.1l.36 10.8l.37-2.1l.36-9.8l.36-.2l.37-3.9l.36 1.1l.36 15.6l.37-12.9l.36-.9l.36 9.4l.37-9.7l.36 6.2l.36-6l.37 13.2l.36-6.1l.36 3.8l.37-8.7l.36 2.4l.36-2.3l.37 6.8l.36 1.6l.36-4.1l.37-10.4l.36 14.5l.36-2.7l.37-8.6l.36 0l.36-.6l.37 10.4l.36-5.8l.36-3.6l.37 5.6l.36-5.8l.36 7.5l.37 2.1l.36-10l.36 7.7l.37 5.1l.36-1.7l.37-9.8l.36-.9l.36 3.6l.37-.2l.36 6.8l.36 .6l.37-5.8l.36-7.9l.36 10.2l.37-.1l.36-10.9l.36 4.9l.37-1.6l.36-1.5l.36 3.2l.37 3.2l.36 3.2l.36 5l.37 .5l.36-10.2l.36 8.1l.37-12.1l.36 13.2l.36-6l.37-9.6l.36 1.9l.36 9.9l.37-1.1l.36 7.7l.36-20l.37 4.2l.36 8.5l.36-9.9l.37 9.8l.36-11l.36-.8l.37 3.8l.36 2.5l.37-.6l.36 7.9l.36-5l.37 4l.36-9.9l.36 5.9l.37 9l.36-4.2l.36-7.7l.37 .2l.36 5.8l.36-6.3l.37-.3l.36-6.6l.36 8.2l.37-5.8l.36 5.9l.36 0l.37-2.1l.36-5.6l.36 8.6l.37 .2l.36 3.2l.36-7.2l.37-3.9l.36 1.4l.36 1.3l.37 5.2l.36 9l.36-6.5l.37 1l.36-7.2l.36 .5l.37 5.2l.36 5.2l.36-6.4l.37-5l.36-.4l.36-1l.37 7.6l.36-3.7l.37-.1l.36-1.1l.36 9.9l.37-6.5l.36 4.2l.36-6.2l.37-.9l.36 .1l.36 0l.37 11.5l.36-11.9l.36-2.7l.37-2.7l.36 2l.36-.2l.37 8.9l.36-8l.36-3.3l.37 12.6l.36-2.9l.36-3.4l.37 7.3l.36-4.3l.36 7.1l.37-1.8l.36 2.6l.36-6.8l.37-8.8l.36 12.7l.36-1.8l.37-1.4l.36 2.3l.36-2.1l.37-.8l.36-8.9l.36 3.3l.37-2.1l.36-1.5l.37 11.9l.36-7.4l.36 8.9l.37-9.6l.36 4.5l.36-8.2l.37 9.3l.36 1.5l.36 1.4l.37-2l.36-8.1l.36 9.7l.37-5.6l.36 1.1l.36-4.3l.37 3.7l.36 4.9l.36-5.5l.37 4.9l.36 7.1l.36-9.6l.37-5.4l.36-7.3l.36 9l.37-3.6l.36 19.7l.36-6.5l.37 1.7l.36-6.6l.36 .8l.37 2.5l.36-12.9l.36 9.6l.37-6.8l.36-1.9l.36 6.7l.37-8.6l.36 11.4l.36-11.9l.37 .3l.36-.5l.37-4.6l.36-3.1l.36 8.7l.37 1.6l.36-7.8l.36 2.4l.37-5.4l.36 3.2l.36 2l.37-8.7l.36 5.5l.36-9l.37 13l.36-14.9l.36-3.7l.37 3.8l.36-1.2l.36 1.9l.37-.7l.36-2.2l.36-7.1l.37 5.2l.36-4.7l.36-4.4l.37 9.3l.36-4.4l.36-12.3l.37 1.2l.36-.1l.36 16.5l.37-14l.36-3.7l.36 5.6l.37 4.5l.36-8.7l.36-2.4l.37 3.9l.36-3.5l.37-2.5l.36 1.2l.36-11.4l.37 11l.36-11.9l.36 12.6l.37-4.6l.36 8.3l.36-16.7l.37 4.7l.36-7l.36 4.3l.37-4.9l.36-2.3l.36 3.4l.37-12.6l.36 8.3l.36-5.1l.37-2.8l.36 10.6l.36-2.4l.37-7.9l.36 6.2l.36-8.4l.37 9.8l.36-5.2l.36-2.3l.37-1l.36-7.9l.36-1.4l.37 13l.36-1.7l.36 .9l.37 3.1l.36-1.8l.36-6.5l.37-9.5l.36 7.5l.37-4.4l.36 .2l.36 16.3l.37-14.9l.36-2.8l.36 11.6l.37-1.9l.36-4.2l.36 5.5l.37-3.2l.36-6.9l.36 5.6l.37 9.2l.36-17l.36 11l.37-2.3l.36-1.2l.36 6.8l.37-1.5l.36-1.7l.36-4.8l.37 4.1l.36 2.6l.36-1.8l.37-5.9l.36-5.6l.36 7.8l.37 2.5l.36 7.1l.36-1.6l.37-3.2l.36 .9l.36-9.7l.37 4.8l.36 6.1l.36-10l.37-.2l.36 5.4l.36-1.6l.37-7.4l.36 11.9l.37-5.6l.36 2.4l.36-5.6l.37 7.3l.36 2.3l.36 3.9l.37-14.9l.36 1.4l.36 9.5l.37-1.6l.36-1.5l.36-.3l.37-2.8l.36-7.2l.36 16.2l.37-1.5l.36-12.6l.36 11.4l.37 1.3l.36-3.5l.36 .4l.37-9.5l.36 12.4l.36-7.3l.37 10.4l.36-4.9l.36-3.5l.37 5.4l.36-3.6l.36-5l.37 10.1l.36-4.2l.36-9.4l.37-2.2l.36 11l.36-8.3l.37 8l.36 1.1l.37 1.6l.36-13l.36 9.4l.37 4l.36-3.3l.36 1.7l.37 1.6l.36-14.5l.36 5.3l.37 7.8l.36-2.7l.36-4.9l.37-1l.36 .5l.36 6.7l.37 8.1l.36-15.5l.36-1.3l.37 13.7l.36-14.4l.36 1.5l.37-.9l.36 6.5l.36-9.2l.37 .1l.36 12.8l.36-9.2l.37 .6l.36 .6l.36-1.6l.37 4l.36 4.8l.36 1.5l.37-9.6l.36 6.4l.36 .5l.37-1.1l.36-11.1l.36 14.7l.37-1.6l.36-12.6l.37 3.8l.36 9.7l.36-3.5l.37-4.8l.36-.4l.36 8.7l.37-9.2l.36 6l.36-3.9l.37 4.7l.36-4.4l.36-4.1l.37 13.3l.36-12.8l.36-.1l.37 11.1l.36-8.4l.36 4.7l.37-2.3l.36-5.4l.36 10.5l.37-.4l.36-1.6l.36 1.8l.37-4.1l.36-2.2l.36 7.9l.37-15.7l.36 6.9l.36 1.1l.37-3.7l.36 3l.36 8.5l.37-2.1l.36-10l.36 9.2l.37-8.2l.36-3.8l.37 6.9l.36 5.2l.36 .9l.37-8.9l.36 6.9l.36 4.6l.37-11.9l.36 1l.36-2.8l.37 4.7l.36-6.5l.36 2.2l.37 5.5l.36-2.4l.36 1l.37 6.1l.36-3.7l.36 2.7l.37-11.4l.36 4.1l.36 2.2l.37 .7l.36-4.6l.36 9.4l.37-13.9l.36 6l.36 6.5l.37-6.5l.36-7.8l.36 18.8l.37-10.1l.36 9.8l.36 3l.37-5.9l.36-6.1l.36-1.3l.37 7.5l.36-1.5l.36 3.7l.37-10.5l.36 8.4l.37 6.7l.36-12.1l.36-5.3l.37-.2l.36 8l.36-6.9l.37 3.5l.36 5.3l.36-9l.37 2.9l.36-6.1l.36 9.3l.37-.4l.36-3.8l.36-4.4l.37 10.9l.36-.1l.36 3.5l.37-1.1l.36-11l.36 1.5l.37 4.6l.36-5.7l.36-3.1l.37 .5l.36 5.1l.36-3.2l.37 4l.36 1l.36 1.6l.37 5l.36-9.5l.36 .1l.37-.8l.36 7.2l.36-.8l.37-1.8l.36-5.8l.37-2.2l.36 5.8l.36 8l.37-2.5l.36-7.6l.36-.4l.37-.5l.36 9.5l.36-3.6l.37-9.2l.36 10.1l.36-1.1l.37-8.3l.36 11.5l.36-7.3l.37-4.3l.36 14.3l.36-14.3l.37 9.1l.36-9.4l.36 2.4l.37 7.9l.36 1.1l.36-6.1l.37 4.4l.36 .3l.36-10.4l.37-1.4l.36 6l.36 8.6l.37-.2l.36-10.3l.36 5.3l.37-8l.36 10.7l.36-1.4l.37 2.6l.36-9.3l.37 2.5l.36 11.1l.36-17.2l.37 14.2l.36-9.2l.36 10.1l.37-1.1l.36-6.7l.36 5.8l.37-3.7l.36-6.2l.36 2.2l.37 1.6l.36 4.1l.36-7.5l.37 6.9l.36-11.9l.36 13.6l.37 2.4l.36-9.6l.36 1.6l.37 10.7l.36-7.5l.36-5.1l.37 11.1l.36-5.1l.36-10.8l.37 10.3l.36-10.5l.36 17.4l.37-15.4l.36-1.9l.36 6.5l.37-6l.36 11.5l.36 2.2l.37-3.2l.36-4.1l.36-4.6l.37 3.9l.36 7.3l.37-4.6l.36 2.5l.36-9.3l.37 3.1l.36-3.5l.36 9l.37-.6l.36 0l.36 4.1l.37-10.4l.36-1.4l.36 10.5l.37-.9l.36-.1l.36-6.3l.37 1.6l.36-4.4l.36 .2l.37-.7l.36-2.5l.36 13.9l.37-2.1l.36 5.9l.36-1.8l.37-8.2l.36-7.1l.36 4.9l.37 6.9l.36-7.9l.36 11.3l.37-5.2l.36 9l.36-21.2l.37 15.5l.36-.6l.36-11.4l.37 12.2l.36 1.3l.37 .1l.36 3.3l.36-7.4l.37-2.1l.36 10.8l.36-2.7l.37-12.9l.36 .1l.36 7.3l.37-4.1l.36-3.3l.36 4.2l.37-3.9l.36 1.2l.36-3.7l.37 5.2l.36-2.6l.36 10.8l.37-9.2l.36-4.9l.36 1.4l.37 8l.36-5.5l.36 8.8l.37-12l.36 6.3l.36 .8l.37-7.7l.36 4.7l.36-2.9l.37 12.3l.36-11.4l.36 8.2l.37-5.1l.36 6.7l.36-.7l.37-16.1l.36 10.4l.36-12.6l.37 13.7l.36 2.8l.37 4.6l.36-12.5l.36 2.8l.37 .7l.36 3.3l.36 4.6l.37-4.7l.36 3.4l.36-10.4l.37 9.2l.36 .1l.36-6.8l.37 8.5l.36-9l.36 2.9l.37 .5l.36-2.1l.36 .1l.37 2.8l.36-7.9l.36 1.6l.37 7.6l.36 .8l.36-13.9l.37 14.7l.36-5.9l.36-7.1l.37 18.3l.36-12.3l.36-1l.37 9.2l.36-5.1l.36 4.8l.37-5.1l.36-11.3l.36 19.4l.37-17.1l.36 18.5l.37-6.2l.36-6.3l.36 4.4l.37-3.3l.36-3.3l.36 1.9l.37 3.1l.36-6l.36 9.1l.37 0l.36-2.1l.36 9.9l.37-8.6l.36 2.2l.36-9.5l.37-2.1l.36 14.9l.36-10.9l.37-.5l.36 4l.36 7.4l.37-6.7l.36-4.1l.36 9.7l.37-5.4l.36-5.9l.36 5l.37 9.1l.36-14.1l.36 2.6l.37-5.3l.36 14.3l.36-10.6l.37-4.2l.36 1.2l.36 8.5l.37-9.6l.36 5.1l.36 4.7l.37-3.9l.36-9.1l.37 2.4l.36 5.5l.36-9.1l.37 12.4l.36-11l.36 6.2l.37-3.3l.36 2.3l.36 6.6l.37-.5l.36-1.4l.36-1.6l.37 9.3l.36-8.2l.36 5.7l.37-2l.36-5.9l.36 4.2l.37-3.9l.36 .1l.36 4.3l.37-7.7l.36 8.1l.36 0l.37-6.8l.36 1.4l.36 3.5l.37-6.9l.36 14.4l.36-13.1l.37 1l.36-2.4l.36 16.5l.37-19.7l.36 7l.36 6.7l.37-5.9l.36 5.1l.37 6.3l.36-14.9l.36 1.4l.37 4l.36 2.6l.36-7.2l.37 .8l.36-2.4l.36 5l.37 7.2l.36-11.3l.36 5.9l.37-4.6l.36 13l.36-4.4l.37-1.3l.36-4.6l.36-1l.37 .4l.36 2.4l.36-5.7l.37 8.2l.36-3.1l.36 2.6l.37-12l.36 15.8l.36-1l.37-1.7l.36-8.4l.36 8.7l.37-7.6l.36-2.5l.36-3.1l.37 6.8l.36-10.7l.36 1.4l.37-5.2l.36 2.5l.37-4.9l.36 6.4l.36-.4l.37-6.9l.36-6l.36 8.9l.37 5.9l.36-10.3l.36 4.7l.37 .6l.36 .4l.36-6.9l.37 2.2l.36-1.5l.36-2l.37-3.5l.36 5.7l.36-17.4l.37 6.9l.36-6.7l.36 12.4l.37-14.6l.36 12.5l.36-14.5l.37 10.4l.36 4.7l.36-3.9l.37-14.1l.36 13.9l.36-4.3l.37-13.7l.36 3.9l.36 3.3l.37 9l.36-11.1l.36-13.1l.37 4.6l.36 .8l.36 3.9l.37 .3l.36-1.2l.37-7.9l.36 5.4l.36 .6l.37 4.1l.36-9.2l.36 2l.37-7.3l.36 .4l.36 7.3l.37-.7l.36 2.6l.36-2.6l.37 5.7l.36-10.7l.36-2.3l.37 8.8l.36 5.4l.36-5.9l.37-3.2l.36-4.3l.36-2.1l.37 7.4l.36 3.3l.36-2l.37-4.4l.36-9.4l.36 8.9l.37 9l.36-13.8l.36 12.5l.37-6.8l.36 3.7l.36 5.2l.37-11.3l.36-2l.36 5.4l.37 .5l.36-7.5l.37 11.6l.36-14l.36 9.6l.37-1.1l.36-.2l.36-3.4l.37 8.1l.36-3.8l.36-.7l.37 1.8l.36 2.4l.36-5l.37-4.7l.36 1.9l.36 8.7l.37-1.6l.36-5.6l.36-4.3l.37-.8l.36 9l.36-5.5l.37-8.4l.36 6.9l.36-.5l.37 5.9l.36-.2l.36-13.2l.37 17.8l.36-13.2l.36-4.8l.37 9.1l.36 9.5l.36-13.5l.37 4.4l.36-.3l.36-7.1l.37-.9l.36 14.7l.36-3.8l.37-.7l.36 1.5l.37-6.1l.36-5l.36 2.6l.37-4.9l.36 2.8l.36 10.8l.37-13.5l.36 9.8l.36-3.2l.37-1.5l.36 .7l.36-2.6l.37 3.1l.36 .8l.36-1.7l.37 3.8l.36-4.1l.36 6l.37 1.4l.36 2.7l.36-7l.37-1.8l.36 4.5l.36-5.1l.37 3.7l.36-4.8l.36 3.2l.37-10.6l.36 12.6l.36-7.6l.37 1.6l.36-3.3l.36 7.6l.37-9.9l.36 10.4l.36-9.2l.37 13.2l.36-13.4l.37 20.6l.36-6.9l.36-4.4l.37-7.6l.36 6.9l.36 .3l.37-6.9l.36 2.1l.36 6.1l.37-.5l.36-9.6l.36 5.2l.37-6.6l.36 12.5l.36-.7l.37 6.7l.36-2.3l.36-11.1l.37 3.8l.36-1.4l.36 3.8l.37-.2l.36 7l.36-5.5l.37 4.3l.36-8.4l.36-10.9l.37 .2l.36 10.4l.36 1.9l.37-14.3l.36 8.8l.36 2.6l.37 .1l.36 7.9l.36-3.8l.37-9.5l.36 7.3l.36 4.4l.37-8.3l.36 7.9l.37-11.1l.36 .4l.36 7.2l.37-6.1l.36-5.1l.36 8.4l.37 7.2l.36-3.9l.36 3.5l.37-4.2l.36-1.5l.36-2.8l.37 8.3l.36-10.5l.36-1.8l.37 7.2l.36 3.6l.36-.1l.37-11.9l.36 7l.36-8.9l.37 19.1l.36-12.1l.36-3.7l.37 .6l.36 .7l.36 1.4l.37-1.9l.36 4.7l.36 2.1l.37-10.4l.36 .6l.36 5.4l.37-6l.36 1.9l.36-4.7l.37 18.2l.36-15.7l.37 3.1l.36-1.1l.36 13.7l.37-3.3l.36-13.8l.36 12.3l.37-.6l.36-5l.36 4.9l.37-8.6l.36 2.1l.36 4.7l.37-1l.36-2l.36-8.3l.37 5l.36 3.7l.36 6.9l.37-1.7l.36-.2l.36-.6l.37-2l.36-5.8l.36 9l.37-14.6l.36 17.2l.36-8.3l.37 4.4l.36-8.1l.36 .8l.37-1l.36-3.8l.36 2.1l.37 7.4l.36 2.2l.36-11.3l.37 11.1l.36-10.2l.37 8.2l.36-.6l.36 2.1l.37-8.6l.36 2.1l.36 7.1l.37 1.7l.36-8.8l.36 4.3l.37-3.1l.36-5.8l.36 .3l.37 1.5l.36 7.5l.36-4.8l.37 3.8l.36-8.8l.36 2.8l.37 1.8l.36 7.8l.36 2.6l.37-5.4l.36-7.4l.36 3.6l.37 7.2l.36 1.4l.36-8.8l.37-.2l.36 .8l.36 7l.37-3.7l.36-1.7l.36-4.5l.37 5l.36 3.4l.36-5.7l.37 3.3l.36-.3l.36-4.9l.37-4.4l.36 6l.37 .2l.36-1.1l.36 1.4l.37-.1l.36-2.9l.36 4.6l.37 3.2l.36-12.8l.36 8.2l.37-3.1l.36-6.2l.36 6l.37-5.3l.36 6.5l.36 7.3l.37-11.1l.36 10.8l.36-5.6l.37 3.1l.36-7.2l.36 7.3l.37-7.7l.36 10.6l.36 3.1l.37-16.3l.36 3.2l.36 7.1l.37-.5l.36-.3l.36 2l.37 2.1l.36-3.4l.36-2.7l.37 5.5l.36-10.6l.36 2.1l.37 7.8l.36-3.4l.37 .2l.36 5.3l.36-8.6l.37 10.3l.36-11.3l.36 5.9l.37 .7l.36-13.8l.36 2.7l.37 1.5l.36 5.1l.36 9.2l.37-8.4l.36 9.4l.36-15.6l.37 9.3l.36-6.3l.36 0l.37 5.3l.36-11.3l.36 8.3l.37 5.1l.36-5.5l.36-11.2l.37 21.6l.36 0l.36 .2l.37-13.5l.36 7.6l.36-13.6l.37 5.8l.36 9.5l.36-12.6l.37 11.4l.36 2.9l.36-4.5l.37-10.3l.36 11.4l.36-13.2l.37 11.7l.36-6.5l.37 11l.36-12.3l.36 14.1l.37-.1l.36-11.8l.36 3.5l.37 2.7l.36 .1l.36-6.5l.37-.1l.36 .2l.36-2.8l.37 11.7l.36-14.4l.36 7.5l.37-7.9l.36 .6l.36 6.5l.37 1.6l.36 4.4l.36-4.1l.37-1.9l.36 1.2l.36 .6l.37-5.8l.36-5.7l.36 12.7l.37-8.8l.36 3.9l.36-1l.37 10.8l.36-15.5l.36 7.8l.37-1.7l.36 4.6l.36-5.6l.37 .8l.36 3.2l.37-7.3l.36 .8l.36 2.9l.37-4l.36 7.1l.36-4.2l.37 5.8l.36-7l.36 9.8l.37 1.8l.36-15.1l.36 1.4l.37 9.8l.36-5.1l.36 .6l.37 7.1l.36-3.6l.36 1.2l.37 3.1l.36 2.7l.36-9.5l.37 4.1l.36 5.8l.36-3.6l.37 .1l.36-1.4l.36-15.4l.37 7.7l.36-6.5l.36 9.2l.37-2.4l.36-1.1l.36 2.7l.37 4.7l.36 3.6l.36-11.7l.37 3.9l.36 7.5l.36-7.7l.37-2.5l.36-1.3l.37 13l.36-10.3l.36-.3l.37-1.7l.36-1.4l.36 3.8l.37 8.3l.36-15.7l.36 13.1l.37-5.6l.36-4.7l.36 9.7l.37-7.9l.36 2.5l.36 7.4l.37-5.6l.36 0l.36-4.8l.37-6.2l.36 12.1l.36 .9l.37-10.7l.36 14.4l.36 1.4l.37 .6l.36-1.2l.36-8.1l.37-2.5l.36 2.6l.36 6.6l.37-5.9l.36 .8l.36 9.6l.37-15.3l.36 10.5l.36-6.5l.37 2.8l.36 .9l.37 .4l.36 3.1l.36-9.8l.37 6l.36 5.5l.36-1.3l.37 2l.36-12.8l.36 5.6l.37 1.8l.36-3.1l.36 5.4l.37 2.7l.36-9.9l.36 5.7l.37-1.1l.36-11.1l.36 3.7l.37 2.2l.36 8.3l.36 3.2l.37-8.2l.36-2l.36 14.3l.37-.4l.36-10.8l.36 6l.37 .7l.36-2.5l.36-8.6l.37 12.5l.36-13.6l.36 11.8l.37-2l.36 2.7l.36-1l.37-5.5l.36-3.7l.37 .8l.36-1.2l.36 6.1l.37-.9l.36-6.8l.36 12.3l.37-16.4l.36 16.9l.36-13.2l.37 9l.36 8.1l.36-7.7l.37-3l.36 6.9l.36-11l.37 9.9l.36-10l.36 1.5l.37-4.4l.36 9.9l.36-11.1l.37 12.3l.36-10l.36 6.2l.37 .1l.36-8.5l.36 14.8l.37-3.9l.36-5.5l.36 7.4l.37-4.1l.36 4.8l.36-6l.37-3.1l.36 8.6l.36-9.9l.37 10.2l.36-6.4l.36 1.3l.37-7.1l.36-4.1l.37 8.7l.36 6.4l.36-7.9l.37-5l.36 8.9l.36-2.6l.37 7.5l.36-2.2l.36-9.9l.37 2.6l.36 6.6l.36 3.5l.37-7.8l.36 2.6l.36 1.2l.37 1.3l.36-4.1l.36-2.7l.37 7.1l.36-.7l.36-9l.37-4l.36 11.9l.36-6.9l.37 8.8l.36-11.4l.36 11l.37-7.5l.36 3.2l.36 1.7l.37 8.4l.36-17.2l.36-1.3l.37 8.5l.36 4.7l.36-1.7l.37-11.7l.36 5.6l.37 4.5l.36-7.9l.36 12.3l.37-11.1l.36 10.8l.36 .8l.37-12.7l.36 10.9l.36 4.5l.37-3.4l.36 1.3l.36-1.8l.37-9.1l.36-1.3l.36 1.3l.37 12.8l.36-10.5l.36-.4l.37 5.5l.36-6.5l.36 3l.37-4.6l.36 3.1l.36-9.9l.37 7.8l.36 8.5l.36-.4l.37 2.6l.36-10.1l.36 .5l.37 5.2l.36-1.6l.36 4.6l.37 5.4l.36-10.8l.36 .6l.37 1.5l.36 .2l.36 5.2l.37-9.3l.36-4.8l.37 5.8l.36 1.1l.36-1.8l.37-4.9l.36 2.5l.36 10.1l.37-1.5l.36-8.1l.36 5.2l.37-2.9l.36 2.8l.36-3.9l.37-7.6l.36 1.3l.36 3.8l.37-1.7l.36 10.1l.36-.1l.37-1.2l.36-5.3l.36-10.3l.37 12.7l.36 4.6l.36-12.9l.37 .8l.36-.4l.36 8l.37-5.5l.36 2.6l.36 3.1l.37-1.1l.36 2.4l.36-6.2l.37-2.4l.36 6.5l.36-3l.37-.7l.36-5.2l.37-4.9l.36 8.1l.36-1.5l.37 8.7l.36-10.4l.36 1.5l.37-2.9l.36 6.4l.36-2.1l.37-1.2l.36-2.7l.36 3.6l.37-2.8l.36 3.6l.36 1.2l.37-5.9l.36 7.9l.36-14l.37 5.6l.36 0l.36 11.8l.37-6.5l.36-13.1l.36 13.8l.37-3.5l.36 6.4l.36-7.8l.37-3.3l.36 5.1l.36-1.4l.37-10.9l.36 4l.36 .7l.37 7.9l.36-11.8l.36 1.5l.37-.5l.36 13.7l.36-8.1l.37-1.9l.36 10.9l.37-23.4l.36 .9l.36 8.8l.37-6.6l.36 8.8l.36-1.7l.37 4.5l.36 5.9l.36-13l.37-2.3l.36 16.8l.36-14l.37 8.4l.36 6.2l.36-6.6l.37 2.8l.36 .6l.36-2.1l.37 9l.36-15.6l.36 .2l.37 4.8l.36-9.4l.36 5.3l.37 3.8l.36-1.7l.36-.5l.37-1.2l.36 5.4l.36-1l.37-2.4l.36 10.8l.36-11.6l.37 9.6l.36-11.3l.36 4.5l.37 5.2l.36 4.5l.37-13.2l.36 3.7l.36 1.4l.37 6.2l.36-9l.36 6.3l.37 1.6l.36-5l.36 12.1l.37-7.5l.36 12.3l.36-4.4l.37-5l.36-1l.36 8.9l.37 .4l.36-13.4l.36 8.9l.37-6.9l.36-2.6l.36 2.9l.37-1.9l.36 6.4l.36-5l.37 .7l.36 3.5l.36 2.6l.37-3.3l.36-1.1l.36-1.3l.37 4.2l.36-3.1l.36 5.2l.37 1.6l.36-6.7l.36 7.9l.37 1.9l.36 1.8l.37-.3l.36-2.4l.36-.8l.37-4.4l.36 10.3l.36-6.8l.37-.1l.36 9.3l.36-.4l.37-12.7l.36 1.9l.36-1.9l.37 2.1l.36 4.1l.36-7.2l.37 10.3l.36 3.1l.36 2.1l.37-10l.36 2l.36 2.3l.37 .3l.36 5.5l.36-15.3l.37 7.8l.36 .4l.36 6.4l.37 5.8l.36-11.4l.36 10.9l.37 .5l.36-7.7l.36-3.5l.37 12.3l.36 .2l.36-1.9l.37-14l.36 7.3l.36-3.4l.37 .9l.36 1l.37-1.6l.36 .7l.36 2.9l.37 1.9l.36 9l.36-12.9l.37 15.6l.36-2.9l.36-4.5l.37 10l.36-11.1l.36-1.4l.37 1.7l.36 3.8l.36-4.3l.37 .8l.36-6.6l.36 6.2l.37 12.3l.36-6.6l.36-3.7l.37 7.6l.36-11.5l.36 14.5l.37-3.2l.36 .8l.36-5.4l.37-2.9l.36 11.3l.36-7.6l.37 8.9l.36-10.3l.36-2l.37 2.2l.36 2l.36 10.6l.37-8.1l.36-.1"/>
<rect x="344.7" y="1087.9" width="34.6" height="34.6" fill="#000000"/>
<rect x="553.8" y="1015.0" width="34.6" height="34.6" fill="#000000"/>
<rect x="761.8" y="944.0" width="34.6" height="34.6" fill="#000000"/>
<rect x="970.2" y="935.5" width="34.6" height="34.6" fill="#000000"/>
<rect x="1179.2" y="854.0" width="34.6" height="34.6" fill="#000000"/>
<rect x="1387.7" y="741.3" width="34.6" height="34.6" fill="#000000"/>
<rect x="1596.5" y="678.1" width="34.6" height="34.6" fill="#000000"/>
<rect x="1805.2" y="645.3" width="34.6" height="34.6" fill="#000000"/>
<rect x="2013.7" y="583.3" width="34.6" height="34.6" fill="#000000"/>
</g>
<g>
<path class="ln" stroke="#ff0000" d="M362.00,1104.8l.36 .2l.37 .1l.36 1.5l.36-.5l.37 .1l.36 .3l.36 1.2l.37-4.2l.36 2.1l.36-.3l.37-.8l.36 1l.36-2.6l.37-.1l.36 3.9l.36-2.4l.37-1.5l.36 1.3l.36 3.6l.37-3.7l.36 .2l.37 0l.36 .8l.36 .3l.37-1l.36 2.2l.36-1.1l.37 1.5l.36-1.5l.36-.6l.37-1.8l.36 1.2l.36 4.6l.37-1.3l.36-.8l.36-2.4l.37-.8l.36-1l.36 2.2l.37 2.3l.36-3.3l.36 4.1l.37-.4l.36-.8l.36-.8l.37 1.1l.36-3.3l.36 1.1l.37 .5l.36 2.5l.36-1.9l.37 1.1l.36-2.4l.36 2.4l.37-.3l.36-1.9l.36 3.9l.37-1.8l.36-1.2l.37-2.4l.36 .7l.36-.3l.37 .2l.36 2.2l.36 0l.37 1.7l.36-4.5l.36 2l.37-1.5l.36-.3l.36 1.3l.37-1.2l.36 3.2l.36 .6l.37 .5l.36-1.4l.36 0l.37-1.9l.36 1.5l.36-1.3l.37-3.6l.36 6.1l.36 .7l.37-.2l.36-3.5l.36 1.7l.37 0l.36-2.1l.36 .6l.37-1.3l.36 .3l.36 0l.37 .4l.36 .6l.36-.3l.37 3.8l.36-3.1l.36-1.5l.37 3.5l.36-.5l.37-3.5l.36 1.9l.36-.4l.37-.3l.36 1.5l.36 .2l.37 1.3l.36-3l.36-.8l.37 1.1l.36 3l.36-.1l.37-1.6l.36-2.4l.36 .8l.37-.3l.36 4l.36-3.3l.37 2.8l.36-1.6l.36-1.3l.37 3l.36-3.4l.36 .1l.37-2l.36 5.9l.36-1.9l.37-2.2l.36-.6l.36 5.8l.37-2.9l.36-1.9l.36 3.8l.37-5.7l.36 2.3l.36-1.8l.37-.4l.36 2l.37-2.6l.36 2.5l.36-4.4l.37 .2l.36-1.9l.36 5.6l.37-5l.36-2l.36 3.8l.37-4.9l.36 1.7l.36-1.6l.37 .6l.36-2.7l.36 2.5l.37-1.6l.36-3.3l.36-1.2l.37 3.2l.36-3.1l.36 1.5l.37-1l.36-2.5l.36 2l.37-.7l.36-3.5l.36 2.5l.37 .1l.36-4.6l.36-1.2l.37 4.1l.36-3.5l.36-1.3l.37 .1l.36-1l.36-1l.37 4.4l.36-4.7l.37-.6l.36-.5l.36-2.9l.37 1l.36-.7l.36-.6l.37-2.5l.36 5.2l.36-2.2l.37-4.7l.36 2.1l.36 1.5l.37-2.1l.36 1.4l.36-2.1l.37-3.4l.36 1.2l.36-.3l.37-2l.36 1.3l.36-1.1l.37-4l.36-.5l.36-.5l.37-.2l.36 .8l.36-4.5l.37 3.7l.36-3.4l.36 .9l.37-2.4l.36 3l.36-2.1l.37-3.1l.36 .9l.36-2.6l.37 3l.36-3.9l.36 1.8l.37-3.5l.36 .1l.37-1.1l.36-3l.36 1l.37 1l.36-4.5l.36 6.2l.37-4.6l.36 .9l.36-4.8l.37-.9l.36-.4l.36 4.2l.37-5.2l.36 2.4l.36-4.3l.37-1.6l.36 2.2l.36-1.2l.37 .7l.36-2.4l.36-.3l.37 1.8l.36-3.9l.36-1l.37-1.9l.36 3.7l.36-3.6l.37 2.3l.36-4.6l.36-1.5l.37 3l.36-1.8l.36 1.2l.37-1.5l.36-1.1l.36-.7l.37-1.9l.36 1.5l.37 .8l.36-.2l.36-4.7l.37 1.4l.36-.2l.36-1.3l.37 .1l.36 1.9l.36-.7l.37-4.8l.36 2.3l.36-1.6l.37-1.9l.36 .6l.36-2.8l.37 3.1l.36-1.1l.36 1.8l.37-.5l.36-7.2l.36 4.6l.37 .4l.36-4.6l.36-.2l.37-1.9l.36 4.1l.36-3.4l.37 0l.36-3.5l.36 .2l.37 3.6l.36-5.7l.36 2.2l.37-4l.36 3.8l.36-4.7l.37-3.2l.36 2.8l.36-.2l.37-1.2l.36-1.4l.37-6.7l.36 1l.36 .1l.37-.2l.36-3.6l.36 1l.37-1l.36-1.9l.36 1.7l.37-2l.36-5l.36 .9l.37-.2l.36-3.6l.36 4l.37-2.2l.36 .7l.36-3.1l.37 .7l.36-2.5l.36-3.2l.37-.1l.36-1.5l.36 3l.37-6.2l.36 3.4l.36-.2l.37-6.1l.36 1.2l.36 3l.37-2.8l.36-1.3l.36-4.5l.37 3.7l.36-1.1l.36-.5l.37 0l.36-1.7l.37-1.1l.36-3l.36 .2l.37 .1l.36-4.6l.36 3.1l.37-2.5l.36-3.8l.36 3.8l.37-.9l.36-3.6l.36 3.7l.37-8l.36 4.1l.36-3.3l.37-1.5l.36 2.9l.36-4.5l.37 3.8l.36-5.7l.36-1.9l.37-.5l.36 .8l.36-2.6l.37 4l.36-4l.36 .4l.37-.1l.36-2.4l.36-2.3l.37 3.7l.36-6.2l.36 1.5l.37-.7l.36 1.6l.36 1.5l.37-4.3l.36-.4l.36 2.3l.37-6.3l.36 3l.37-.7l.36-4.5l.36-.9l.37 .6l.36-5l.36 1.3l.37 3.2l.36 2.5l.36-5.3l.37 4l.36-.7l.36 2.9l.37-2.3l.36-.5l.36 .8l.37 2.6l.36 0l.36-2l.37-.9l.36-3l.36 8.3l.37-6.2l.36 2.7l.36 .7l.37 3.4l.36-5.3l.36 1l.37-3.4l.36 3.2l.36 8l.37-9.3l.36 7.1l.36 2.5l.37-5.4l.36-4.3l.36 1.1l.37 4.9l.36-3.2l.37-3.7l.36 6.6l.36-5l.37-.2l.36 2.9l.36 2.9l.37-6.1l.36 2.6l.36-.5l.37-.6l.36-4.6l.36 5.1l.37-2.7l.36 2.4l.36-.6l.37 4.8l.36-5l.36 2.5l.37-.1l.36 5.1l.36-.9l.37-.3l.36-7.6l.36 3.4l.37-2.5l.36 3.9l.36-3l.37 .5l.36 11l.36-11l.37 4.5l.36-1.2l.36-4.3l.37 .8l.36 .4l.36 2.5l.37 4.3l.36-2.5l.37-8.4l.36 5.2l.36-1.6l.37-2.3l.36 .3l.36 3.4l.37-2l.36 1.8l.36 2.7l.37-4.4l.36 5.5l.36-7.6l.37 10.2l.36-3.6l.36-5.3l.37 6.8l.36-4.6l.36 6.2l.37-5.6l.36 1.4l.36 .7l.37-2.2l.36-.9l.36 5l.37-2.6l.36-2.7l.36 3.2l.37-5.8l.36 7.4l.36-2l.37-2.9l.36 .9l.36 .7l.37 1.4l.36-1.2l.36 3.8l.37-5.1l.36 7.5l.36-3.3l.37-1l.36 3.8l.37-3.4l.36-6.4l.36 .3l.37 5.2l.36-1.3l.36 2.8l.37 1.9l.36-7.3l.36 .6l.37 6.2l.36-.1l.36-2.8l.37 1.7l.36-6.8l.36 2.1l.37-.8l.36-.4l.36 2l.37 .9l.36 2.2l.36-3.8l.37 4.3l.36-4.7l.36-.1l.37 7.6l.36-7.5l.36-2.7l.37 3.7l.36-2.7l.36 10.2l.37-10.1l.36 6.7l.36-1.8l.37-5.2l.36 4.6l.36-5l.37 4.1l.36 .3l.37 2.1l.36-2.6l.36 2.8l.37-.8l.36 4.3l.36-10.9l.37 6.5l.36-4.8l.36 6.5l.37-.1l.36-2.3l.36-1.1l.37-5.2l.36 1.9l.36-2.8l.37 11.9l.36-9.8l.36-1.8l.37 7.2l.36-4.3l.36 3.3l.37-3.6l.36-.5l.36 2.2l.37 .9l.36 2.9l.36-6.4l.37 10.2l.36-10l.36 1.1l.37 .2l.36-.3l.36-1.8l.37 8.1l.36-9.3l.36 2.7l.37 6.9l.36-2.1l.36 1.6l.37-6.4l.36 4.6l.37-5.9l.36 3.3l.36 .3l.37 2.4l.36-4.5l.36-1.3l.37-.1l.36 8.6l.36-3.1l.37-6.4l.36 8.5l.36-8.8l.37 8.4l.36-.6l.36-1.8l.37-7.9l.36 5.2l.36 5.9l.37-7l.36-3.6l.36 4.6l.37-1.9l.36 6.9l.36-2.9l.37 1.8l.36 2.1l.36-1.2l.37-2l.36-2.7l.36-.7l.37 2.5l.36-2.7l.36-1l.37-2.9l.36 4.3l.36 2.1l.37-4.4l.36 4.3l.37-2.1l.36 2.2l.36 .5l.37-.6l.36-1.5l.36 4.1l.37-7.5l.36 4.9l.36 4l.37-3.2l.36-2.2l.36-.3l.37 3.5l.36 .1l.36-.7l.37-8.7l.36 10.7l.36 .6l.37-6.2l.36 .6l.36-4l.37 2.6l.36-4l.36 2.3l.37 10l.36-9.3l.36-3.6l.37 4.1l.36 2.2l.36 5.8l.37-.3l.36-4.8l.36-6.5l.37 8.3l.36-8.6l.36 3.3l.37 5.7l.36-4.5l.36 2.1l.37-2.1l.36 3.4l.37-2.5l.36 1.7l.36-.9l.37 .4l.36 2.9l.36 0l.37-7.2l.36 1.3l.36-.3l.37-5.1l.36 4.5l.36 1.9l.37 2.9l.36 .8l.36-5.7l.37-.2l.36 8l.36-1.3l.37-5l.36-3.2l.36 6.6l.37-2.7l.36 2l.36 1.7l.37 1.1l.36-2.1l.36-3.5l.37 11.6l.36-6.9l.36-7.3l.37 8.2l.36-2.2l.36 .9l.37-2.4l.36 1.6l.36 3.2l.37-4.2l.36-3.5l.37 3.9l.36 .9l.36-5.1l.37-.6l.36 6.7l.36-5.2l.37-.9l.36 1.2l.36-4l.37 6.9l.36 4.8l.36-3l.37-6.4l.36 7.4l.36-1.8l.37 1.9l.36-8.2l.36 3.3l.37 6.1l.36-10l.36-.6l.37 3.1l.36 2.5l.36-5.8l.37-.7l.36 8.6l.36-5.5l.37-.9l.36 6l.36-.3l.37 2l.36-9l.36 3l.37 5.6l.36-1.2l.36 2.5l.37-2.4l.36-4.4l.37 1.8l.36-1.2l.36 2.9l.37-2.8l.36 .5l.36 2.1l.37-5l.36 10.7l.36-4.9l.37-7.2l.36 10l.36-8.3l.37 5.2l.36-3.2l.36 2.3l.37 4l.36-10.1l.36 1.2l.37-.1l.36 .7l.36 4.2l.37-4.9l.36-4.6l.36 11.9l.37 2.9l.36-4.4l.36 2.2l.37-1.3l.36 2l.36-1.8l.37-3.3l.36 .2l.36 1.6l.37 .2l.36-9.2l.36 2.1l.37 3.3l.36 1.6l.36-4.5l.37 .6l.36 4.2l.37 4.4l.36-8.5l.36 .3l.37 3l.36 7l.36-9.5l.37 5.9l.36-.2l.36-1.9l.37-3.9l.36 4l.36 1.9l.37-8.2l.36 3.1l.36 2.2l.37 5.3l.36-7.8l.36-.6l.37 .4l.36-1.9l.36-1.3l.37 7.7l.36-3.1l.36-1.5l.37 4.2l.36 5.4l.36-6.4l.37 3.8l.36 1.2l.36-9.8l.37 3.8l.36-3.1l.36 3l.37 6.7l.36-11.3l.36 4.5l.37 2.4l.36 3.5l.37-8l.36-.3l.36 2.1l.37 .2l.36 1.4l.36-4.4l.37 3.8l.36 1l.36-4.2l.37 2.6l.36 5.5l.36-7.3l.37 2.6l.36-3.1l.36-.1l.37 2.2l.36-3.6l.36-1.1l.37 11.3l.36-4.4l.36-3.2l.37-4.9l.36 2.1l.36 9.7l.37-5.2l.36-.6l.36 .2l.37-2.4l.36 0l.36 1.4l.37-1.4l.36 3.7l.36-5l.37 .5l.36 5.4l.36-2l.37-3l.36 2.8l.36 3.4l.37-5.2l.36 6.8l.37-4.7l.36-4.5l.36 4.1l.37-2.9l.36 3.9l.36-2.5l.37 5l.36-7.1l.36 5.6l.37-4.9l.36 .4l.36 6.1l.37-9.3l.36 6.1l.36-2.1l.37-3.6l.36 1.4l.36 1.2l.37 4l.36-1.9l.36-4.3l.37 8.4l.36-6.3l.36 4l.37-1.7l.36-3.8l.36 5.5l.37 1.5l.36-1.9l.36-1.7l.37 3.9l.36-1.4l.36 .3l.37-8.1l.36 1l.36 5.3l.37 1.3l.36-8.4l.37 4.2l.36-.7l.36 4.2l.37-5.3l.36 5.5l.36 2.9l.37-2.6l.36-2.7l.36-.4l.37 .8l.36 2l.36 1.9l.37-5.9l.36-3.1l.36-.1l.37 7.8l.36-6l.36 5.1l.37 3.5l.36-4.4l.36-6.7l.37 2.7l.36 .7l.36 4.7l.37-1.6l.36 .6l.36-6.4l.37 2.2l.36 3.9l.36 2.5l.37-8.6l.36 4.5l.36 1.1l.37 .8l.36 2l.36-11.4l.37 2.5l.36-2.2l.36 9.4l.37-.2l.36-7.2l.37 5.4l.36-1.6l.36 4.9l.37 .7l.36-8.1l.36 .8l.37 .7l.36-2.7l.36 .7l.37 7l.36-2.5l.36-4l.37 9.2l.36-10.4l.36 8.8l.37 2l.36-8.2l.36-.3l.37 6.4l.36-8.7l.36 8.4l.37-8.3l.36 10.3l.36-1.2l.37-2.3l.36-1l.36-.2l.37-3.9l.36 6.2l.36-6.9l.37-5.3l.36 8.2l.36 3.6l.37-3.8l.36 4.3l.36-.4l.37-.7l.36-6l.37 5.2l.36 0l.36 1.5l.37 0l.36-5.5l.36-3.8l.37 2.3l.36-3.1l.36-3.7l.37 3.4l.36-8.5l.36 8.4l.37-10l.36 .6l.36 .6l.37 1.6l.36-3.3l.36-.3l.37-8.5l.36 6.2l.36-5.3l.37-5.3l.36-1.3l.36 .7l.37-4.1l.36 2.8l.36 .8l.37 2.8l.36-5.9l.36 2.6l.37-.6l.36 .3l.36-4.5l.37-8.6l.36 .5l.36-1.8l.37 2.9l.36-1.2l.37-2.1l.36-4.8l.36 .3l.37-4.2l.36 .3l.36-1.5l.37 3.2l.36-2.3l.36-4.9l.37-.1l.36 .2l.36-6.7l.37 7.3l.36-2.5l.36-8.5l.37-1.7l.36 4.1l.36-3.3l.37-.6l.36-.4l.36-5.5l.37 1l.36-1.9l.36 2l.37-2.6l.36-.9l.36 2.3l.37-9.4l.36-2.4l.36-.8l.37 1.3l.36-1.4l.36-2.3l.37 .1l.36-4.9l.36 7.3l.37-2.1l.36-7.6l.36-7l.37 1.4l.36 4.7l.37 2.6l.36-4.5l.36 .2l.37-4.9l.36-7.3l.36 6.3l.37-1.8l.36-.1l.36 2.1l.37-6.1l.36-8.2l.36 4.6l.37-3.1l.36 .2l.36-1.4l.37-2.4l.36-.9l.36 2.5l.37-10l.36 9.3l.36-9.2l.37 3.1l.36-1.2l.36 .6l.37-13.6l.36 5.3l.36 0l.37-.2l.36-8.6l.36 2l.37 2.1l.36-2l.36-8.6l.37 8.1l.36 1.3l.36-11.8l.37-3.1l.36 5.3l.37 1.3l.36 .5l.36-8.6l.37 3l.36-7.7l.36 .8l.37-4.8l.36 8.7l.36-7.8l.37 2.5l.36-5.8l.36 4.1l.37-.7l.36 0l.36-.3l.37-1.7l.36 2.7l.36-4l.37 2.8l.36 5.1l.36-9.9l.37 1.6l.36-.7l.36 1.5l.37 .2l.36 3.8l.36-1l.37 3.3l.36-1.1l.36-1l.37-11.8l.36 6.1l.36 5.9l.37-8.1l.36 3.6l.36 3.6l.37-7.2l.36 3l.36-1.5l.37-2.8l.36 4.5l.37 .6l.36-1l.36-.8l.37 2.1l.36 4l.36-10.7l.37 4.4l.36-4.2l.36 8.9l.37-4.1l.36 1.2l.36 3.5l.37-11.9l.36 4.3l.36 4.9l.37-6.3l.36 9.2l.36-7.1l.37-.7l.36-5l.36 10.3l.37 3.4l.36-12.2l.36 8.3l.37 2.7l.36-7.7l.36 6l.37-.4l.36-2.6l.36-1.1l.37-2l.36 2.1l.36 4.8l.37-1.6l.36 .2l.36-3.8l.37 4.2l.36-1.7l.37-3.2l.36 3.2l.36-3.8l.37-1.6l.36 6l.36 0l.37-2.1l.36-1.1l.36-3l.37 2.4l.36-.3l.36 .5l.37 2.7l.36-6.1l.36 7.3l.37 1.2l.36-2.2l.36 .7l.37-3l.36 3.9l.36-8.8l.37 8.3l.36 1.4l.36-1.3l.37 .3l.36 .3l.36 2.4l.37-7.2l.36 4.9l.36-1.7l.37 3.8l.36-4.7l.36 4.6l.37-4.1l.36 2.7l.36-5.1l.37-.6l.36-3.8l.36 4.5l.37 3.8l.36 1l.37 .8l.36-6.8l.36-1.6l.37 8l.36-7l.36 1.6l.37 3.2l.36-8.4l.36 4.5l.37 4.7l.36-3.1l.36-1.2l.37 6.1l.36-6.2l.36 6.2l.37-1.4l.36 2.7l.36-3.9l.37-1.1l.36-1.7l.36 6.8l.37 0l.36 1.2l.36-5.8l.37 1.7l.36-5l.36-5l.37 4.2l.36-2.9l.36 4.9l.37 3l.36 2.1l.36-1.9l.37-5.6l.36 .2l.36 4l.37-1.7l.36 5.1l.37-4.4l.36-1.3l.36 4.5l.37-6.3l.36 1.7l.36-.5l.37 2.5l.36 2l.36-7.1l.37 4.1l.36-1.9l.36 1.5l.37 .3l.36 4.4l.36-1.5l.37-9.2l.36 9.8l.36-2.9l.37 1l.36-4.2l.36 5.3l.37-1.4l.36 1.8l.36-3.5l.37 3.4l.36 2.6l.36-6.8l.37 1.6l.36 3l.36 1.6l.37-3.3l.36 2.6l.36-5.7l.37-.6l.36-1.3l.36 5.8l.37-4.7l.36-1.3l.37 7.2l.36-1.6l.36-4l.37 1.2l.36 4.7l.36 .6l.37-2.7l.36 2l.36 0l.37-6.7l.36-.5l.36 9.1l.37-7.9l.36 2.4l.36-2.5l.37-1.7l.36 2.5l.36 1l.37-5.8l.36 9.5l.36-3.3l.37 5.9l.36-1.8l.36-3l.37-5.1l.36 3l.36-2.7l.37-1.6l.36 9.6l.36-.5l.37 1.6l.36-2.5l.36 2.6l.37-9.2l.36 7.4l.36-1.1l.37 2l.36-9.8l.36 8.9l.37-2.1l.36-5.8l.37 2.7l.36-1.4l.36 3.8l.37 2.7l.36 1.6l.36-2.8l.37-7.8l.36 1.8l.36 5.3l.37-3.7l.36 1.6l.36 2.2l.37-1l.36 3.5l.36-5l.37 2.9l.36-5.8l.36 1.3l.37 6.2l.36-4.3l.36 0l.37-2l.36 1.1l.36 2.1l.37 0l.36-.4l.36 0l.37-4l.36 6.8l.36-2.1l.37-5.5l.36 7.8l.36-1.3l.37 2.5l.36-3l.36 .2l.37-4.3l.36 3.1l.37-3.1l.36 3l.36-1.3l.37 2.5l.36-4.3l.36 .9l.37 2.5l.36 3.5l.36-9.8l.37 7.8l.36-2.5l.36-.5l.37-3.2l.36 4.4l.36-1.1l.37-5.8l.36 3.8l.36 9.7l.37-3l.36 1.3l.36-3.3l.37-5l.36 1.3l.36-1.6l.37 5.7l.36 .4l.36 3l.37-8.5l.36 2.8l.36-2.5l.37-3.3l.36 10.1l.36-9.9l.37 6.9l.36-1.8l.36 2.8l.37 2.3l.36-7.9l.36-1.8l.37 3.5l.36 7.6l.37-11.8l.36 .3l.36 1.5l.37 4.8l.36 .5l.36 2.6l.37-5l.36 3.2l.36-5.8l.37 .7l.36 2.9l.36-2.2l.37-1.3l.36 .7l.36-1.6l.37 3l.36 4.9l.36-6.7l.37-3.9l.36 3.8l.36-1l.37 3.8l.36 1.8l.36 4l.37-6.4l.36 1.4l.36-5.8l.37 4.1l.36-2.4l.36 10l.37-3.8l.36-7.9l.36 10.3l.37-1.3l.36-7.7l.36-2.7l.37 4l.36 6.3l.37-6.7l.36 8.4l.36-4.7l.37-.7l.36-1.7l.36 5.1l.37-3l.36-3.7l.36 0l.37 5l.36-4.7l.36-.2l.37-5.4l.36 12.4l.36-4.1l.37 3.4l.36-9l.36 4.7l.37-2.2l.36 3.1l.36-3.9l.37-1.1l.36-1.6l.36 10.4l.37 .8l.36-4.6l.36 3l.37-6.6l.36-2.5l.36 11l.37-.9l.36-2.8l.36 2.7l.37-7.3l.36 7.2l.36-8.9l.37 1.6l.36 4.2l.36 3.3l.37-7l.36 8.9l.37-9l.36 .8l.36-.2l.37 3.3l.36-2.8l.36-2.9l.37 .3l.36 7.9l.36-5.2l.37 6.1l.36-3.5l.36 .1l.37 .3l.36-5.4l.36 6.5l.37 .8l.36-6.7l.36 5.2l.37-3.2l.36-4.1l.36 7.8l.37-4.8l.36 4.7l.36-.7l.37 2.1l.36-.7l.36-4.9l.37 4.1l.36 .8l.36-1l.37-5.9l.36 2l.36 3.3l.37 1l.36-5.8l.36 1.9l.37 .9l.36 2.2l.37 1.7l.36-2.8l.36 3l.37-4.2l.36 .3l.36 1.2l.37 6.3l.36-4.8l.36 .7l.37-5.3l.36 4.9l.36-1.1l.37-3.8l.36-1.7l.36 3.5l.37 2.3l.36-1l.36-4.9l.37 8.1l.36-8.1l.36 .8l.37-3.1l.36 2.2l.36 10.5l.37-2.6l.36-6.3l.36 2.8l.37-5.5l.36 0l.36 7.2l.37-.9l.36 4l.36-4.7l.37-6l.36 10.3l.36-2.9l.37 4.6l.36-7.3l.37-3.5l.36-1.1l.36 7.4l.37-5l.36 4.4l.36-1.2l.37-4.1l.36 4.7l.36-4.1l.37 .4l.36 6l.36-1l.37-1.2l.36-5.4l.36 4.7l.37-.5l.36 2.2l.36-5.5l.37 5.5l.36-5.5l.36 .7l.37-.4l.36 9.1l.36-1.9l.37-12.3l.36 9.5l.36-3.1l.37 5.7l.36-3.6l.36 .6l.37-6.8l.36 .1l.36 1.1l.37 5.1l.36-1.4l.36 1l.37 3.2l.36-6.9l.36 9.2l.37-8.4l.36 1.2l.37 2.7l.36 .6l.36-1.8l.37 1.6l.36-3.8l.36 .1l.37-2.7l.36 5l.36-3l.37 9l.36-5.4l.36-2.8l.37 7.2l.36-11.7l.36-.4l.37 7.3l.36-2.4l.36 6.2l.37-8.6l.36-.3l.36 5.2l.37 3.5l.36-7.7l.36 6.2l.37 .7l.36-9.7l.36 2.6l.37 3.8l.36 3.5l.36-6.8l.37 2.2l.36 .1l.36 6.5l.37-3.3l.36 1.2l.36-4.4l.37-3l.36 1.6l.37-4.8l.36 6.7l.36-3.5l.37 .6l.36 5.6l.36-1.1l.37-6.7l.36-.3l.36 5.8l.37 4.9l.36-4l.36-1.2l.37 4.2l.36-6.1l.36-3.1l.37 2.9l.36 1.3l.36 4.5l.37-5.8l.36 3.4l.36-.1l.37-8.2l.36 3.8l.36-1.4l.37 5.3l.36 1.5l.36-8.6l.37-.8l.36 2.4l.36 .9l.37-2.1l.36 8.5l.36-6.3l.37 5.7l.36 3.5l.36-7.1l.37-1.9l.36 5l.36-5.7l.37 2.2l.36-3.9l.37 3.8l.36 5.1l.36-5l.37 2.9l.36-5.6l.36 5.2l.37-3.6l.36 6.2l.36-.1l.37-5.5l.36 1.6l.36 4.7l.37-.6l.36-1.2l.36 .9l.37-.7l.36 0l.36-5l.37 3.1l.36 2.8l.36-8.5l.37 6.5l.36 .2l.36-5.8l.37 2.4l.36-1.4l.36 5.5l.37-4.2l.36 2.7l.36-.2l.37-3.1l.36 7.2l.36-2.4l.37-7.9l.36 4.1l.36 4.1l.37 .4l.36-5.1l.37 2.3l.36-4.1l.36 7.6l.37-1.2l.36-2.4l.36-4l.37 6.2l.36-1.9l.36 3l.37-.8l.36 3.1l.36-5.3l.37-3.6l.36-.9l.36 4.7l.37 0l.36 0l.36-2.5l.37-1.9l.36 4.9l.36-3.4l.37 4l.36-1.4l.36-5l.37 6.6l.36-6.2l.36 1.8l.37 2.2l.36 3.4l.36 .3l.37-.9l.36-6.9l.36 3.1l.37 2l.36 1.8l.36-4.5l.37 2.5l.36-.6l.36-7.9l.37 11.1l.36-4.8l.37 3.4l.36-8l.36-.6l.37 8l.36-3.1l.36 0l.37-.1l.36-4.3l.36 1.8l.37-1.9l.36-4.1l.36 2.7l.37-8.9l.36 .9l.36 3.1l.37-7.3l.36 1.6l.36-3l.37-5.8l.36-2.3l.36 2.9l.37-5.4l.36 5.5l.36-4.9l.37 3.1l.36-1.4l.36-10l.37 5.9l.36-7.2l.36-3.1l.37 3l.36-5.1l.36 2.6l.37 1.1l.36-10.8l.36 3.9l.37-4l.36 4l.37-8.2l.36 3.9l.36-3.4l.37-2.8l.36-5.4l.36 4.4l.37-1.5l.36-1.9l.36-7.4l.37 6l.36-2l.36-1.5l.37-4.6l.36-3.2l.36-1.8l.37 2.6l.36-4.7l.36-4.3l.37 3.3l.36-1.2l.36-2.9l.37-3l.36-7.3l.36 4.4l.37-8.7l.36 7.5l.36-5.8l.37 5.7l.36-8.7l.36 .2l.37-2.8l.36 1.5l.36 2.8l.37-6.1l.36 .9l.36-5.6l.37 .4l.36-3.2l.37-2.9l.36 2.6l.36-.7l.37-5.7l.36 4.2l.36-12l.37 11.5l.36-5.4l.36 .4l.37-6.8l.36 2.5l.36-10.9l.37 10.6l.36-2.8l.36-8.9l.37 4.1l.36-2.3l.36-6.4l.37 5.1l.36-1.7l.36-13.6l.37 .3l.36 .2l.36 .4l.37-2.8l.36-6.8l.36 4.4l.37-2.2l.36 3.2l.36-1l.37 .4l.36-8.3l.36-2.5l.37 3.7l.36 .9l.36 2.5l.37 1.2l.36-4.8l.36-2.5l.37 5.9l.36-10.6l.37 6.4l.36 1.1l.36-1.5l.37-4.8l.36 5.7l.36 3l.37-7.8l.36 2l.36-2.3l.37 7.8l.36-9.9l.36 2.1l.37 2.4l.36-3.6l.36 5.9l.37-3.4l.36-4.9l.36 .6l.37 3.1l.36-2.5l.36-1.5l.37 8l.36-3.9l.36-1.6l.37-4l.36 6.6l.36-2.2l.37-1l.36 1.5l.36 0l.37 1.9l.36-3.5l.36-2.9l.37 4.1l.36-2.2l.36-2.3l.37 1.8l.36 3.6l.37-.1l.36-2.9l.36-2.7l.37 8.8l.36-1.4l.36-8.6l.37 2.8l.36 4.2l.36 6l.37-4.4l.36-9.1l.36 1l.37 5l.36-3.4l.36 1.8l.37-2.4l.36 8.5l.36-9.8l.37 4.9l.36 5l.36-4.7l.37-2.6l.36 5.2l.36-1.2l.37 .3l.36-1.1l.36-3.1l.37-3.2l.36 3.7l.36-1.1l.37-.2l.36 4.3l.36-2.6l.37 1.7l.36-5.7l.36 7.1l.37-2.9l.36 .8l.36-.5l.37-6.8l.36 7l.37 1.6l.36 1.5l.36-9.8l.37 5.2l.36-6.1l.36 .4l.37 6.9l.36-4.3l.36 2.8l.37 4.5l.36-1.9l.36-1.2l.37-7.2l.36 3.5l.36 3.1l.37 2.7l.36-6l.36 4.2l.37-5.2l.36 5.7l.36-.5l.37-6.4l.36 8l.36-7.5l.37-.4l.36 6.1l.36 .6l.37-6.7l.36 2.8l.36-4.1l.37 .5l.36 3.4l.36 5.6l.37-2.3l.36-.8l.36-8.9l.37 8.6l.36-4l.37-2.8l.36 2.9l.36 .4l.37 2.5l.36-3.1l.36-2.1l.37 5.6l.36-3.8l.36 .6l.37-4.6l.36 9.9l.36-5.8l.37 7.8l.36-10.1l.36 5.9l.37 2.8l.36-3.8l.36-3.6l.37 2.6l.36 4.2l.36-4.7l.37-1.5l.36 2.9l.36-.1l.37-1.9l.36 1.3l.36 3.5l.37-6.2l.36 6.9l.36-3.8l.37 0l.36-1.9l.36-4.3l.37 9.3l.36-.5l.36 1.4l.37-2.6l.36 2l.36-1.4l.37 1.8l.36-4.8l.37 .9l.36 .8l.36 1l.37-.6l.36-8.3l.36 10.9l.37-3.9l.36 4.1l.36-4.4l.37-1.4l.36-2.5l.36 5.8l.37 .6l.36-2.6l.36 4.4l.37 .9l.36-6.4l.36-1.4l.37-3.8l.36 8.5l.36-.8l.37-5.8l.36 9.1l.36 1l.37-.4l.36-11.3l.36 9l.37-9.2l.36 4.7l.36 9.5l.37-3.6l.36-2.5l.36 1.5l.37-7.8l.36 6.4l.36-3.5l.37 4.3l.36-.3l.37-6.5l.36 7.8l.36-5.1l.37-.9l.36-2.7l.36 2.8l.37 4.7l.36-1.4l.36-5.6l.37 2.5l.36-1l.36 7.9l.37-1l.36-.1l.36 3.1l.37-9.4l.36-1.2l.36 7.3l.37 1.8l.36-1.1l.36-4.6l.37 2.2l.36-.6l.36-1.1l.37-1.1l.36-1.9l.36 7.2l.37-7l.36 8.1l.36-13.2l.37 5.4l.36 1.7l.36 4.2l.37-7.1l.36 3.2l.36-.3l.37-2.2l.36 3.8l.37-1.3l.36-2.6l.36 4l.37-7l.36 6.1l.36 2.8l.37-1.5l.36 1l.36-1.6l.37-1.5l.36 4.6l.36-2.6l.37-3.4l.36 1.2l.36 .9l.37-.4l.36 4.2l.36-7.4l.37 1.5l.36 3.2l.36 6.1l.37-9.2l.36 3.1l.36-6.5l.37 2.1l.36 5.3l.36-6.4l.37 .2l.36-.1l.36 3.1l.37 2.4l.36-1.6l.36 .6l.37 .6l.36-2.5l.36 5.2l.37-5l.36 5.1l.36-6.8l.37-3.1l.36 13.2l.37-3.4l.36-5.5l.36 .6l.37-2.5l.36-1.2l.36-.4l.37 10l.36-6.9l.36-3.1l.37 4.4l.36 5.3l.36-5.9l.37 6.2l.36-4.4l.36 4.4l.37-7.5l.36 5.8l.36 5.7l.37-12.5l.36 10.4l.36-7.3l.37-.3l.36 1l.36 2.5l.37-5.2l.36 2.5l.36-.8l.37 3.4l.36 0l.36-5.9l.37 1l.36-1.3l.36 6.9l.37-1.9l.36 1l.36-2.4l.37-1.5l.36 4.2l.37 2.4l.36-1.3l.36 1.4l.37-3.4l.36-3.2l.36 6.6l.37-4.1l.36-2.3l.36-2.2l.37 6.3l.36 3.4l.36-2.6l.37 3l.36-7.4l.36 6.8l.37-6.7l.36 4.6l.36-2.1l.37 2.7l.36-4.5l.36-.9l.37 .3l.36 6.1l.36-6l.37 1.6l.36 5.7l.36-5.9l.37 1.3l.36 .9l.36 4.5l.37-3.3l.36-5.2l.36 4.1l.37-3.1l.36 2.5l.36 .1l.37-.2l.36-4.9l.36 2.1l.37 2.5l.36-3.3l.37 1.2l.36 2l.36 2.9l.37 2l.36-7.3l.36 3.2l.37-8.6l.36 2.2l.36 .9l.37 3.5l.36 2.7l.36 1.4l.37-7.2l.36 2l.36 2.3l.37-.8l.36-3.3l.36 3.6l.37 2l.36 1.9l.36-.7l.37-2l.36-1.7l.36 .5l.37 .4l.36 5.5l.36-6.3l.37 1.1l.36 .3l.36 5.3l.37-4.8l.36-2.2l.36 1.8l.37 .3l.36 .4l.36-3.2l.37-1.9l.36 0l.37 7.8l.36-3.3l.36-1.1l.37-.6l.36-3.6l.36 6.6l.37-3.2l.36 1.3l.36 .2l.37 3.3l.36-2.5l.36-5.2l.37 .7l.36 2.6l.36 7.8l.37-6.6l.36-6.3l.36 9l.37-2.7l.36 1.4l.36-1.4l.37 1l.36 1.8l.36-4.6l.37 .8l.36 4l.36 0l.37-3l.36-4.8l.36 .9l.37 .4l.36 3.9l.36 3l.37-7.9l.36 3.3l.36-2.3l.37-1.7l.36 8.6l.36-8.3l.37 9.4l.36-2.6l.37-4.9l.36-1l.36 7.3l.37-4.7l.36 1.7l.36-4.3l.37 4.2l.36-1.6l.36 5.2l.37-3.7l.36 2.4l.36-3.2l.37 2.1l.36-7l.36 6.9l.37-2.3l.36 3.3l.36-2.7l.37 5.1l.36-5.4l.36 2.8l.37-6.3l.36 6.2l.36-6.7l.37 1.1l.36-.3l.36 6.8l.37-.1l.36-2.3l.36-1.9l.37 2.2l.36 1.5l.36 3.6l.37-9.3l.36 6l.36-7.7l.37 4.9l.36 1.2l.37-2.4l.36-.6l.36 4.9l.37-2l.36-3.2l.36 3.5l.37-2.5l.36-3.4l.36 7.7l.37-2.1l.36-6.9l.36 1l.37 3.9l.36 3.9l.36-5.9l.37 5.4l.36-3.2l.36 .6l.37-5.1l.36 7.7l.36-4.9l.37 7.8l.36-4.2l.36 3.1l.37-9.2l.36 8.1l.36-.6l.37-3.1l.36 2l.36-1.9l.37-5.4l.36 3.7l.36 1.1l.37 3.7l.36-3.5l.36 5l.37-6.4l.36 2.4l.37-5.8l.36 7.6l.36 .2l.37 .8l.36-6.3l.36 8.2l.37-1.6l.36-1.1l.36-.2l.37-4.2l.36 5.8l.36-3.1l.37 1.5l.36-4.4l.36 1.7l.37-.9l.36 6.9l.36-1.8l.37-7.1l.36 8.2l.36-7l.37 3l.36-2.1l.36 4.1l.37 1.4l.36-4.5l.36 2.5l.37-6.7l.36 5.3l.36-2.6l.37-1.5l.36 .3l.36 1.4l.37 6.7l.36-4.6l.36 5l.37-2.4l.36-2.8l.36 2.8l.37-3.5l.36-2.9l.37 1l.36 5.7l.36-7l.37 7.7l.36-2.7l.36 1.7l.37-3.2l.36 5.4l.36-5.5l.37-.6l.36 .3l.36 .2l.37 4.3l.36-.1l.36 .3l.37-6.1l.36-3.1l.36-.5l.37 5.5l.36 7.7l.36-5.7l.37-3.3l.36-.4l.36 5.5l.37-3.2l.36 1.1l.36 1l.37-4.1l.36-.9l.36 3l.37 4.2l.36-6.4l.36-.7l.37 1.1l.36 5.2l.36-7.6l.37 8.3l.36-5.8l.37 4.9l.36 0l.36-2.6l.37 3.4l.36 .2l.36-2.3l.37-5.2l.36 3.4l.36 1.4l.37-5.3l.36 5.1l.36-4.2l.37 4.5l.36-.2l.36-4l.37 6.2l.36-4l.36-.7l.37-3.3l.36 3.4l.36-3.2l.37 2.3l.36 8.7l.36-9.4l.37 3.9l.36-5.6l.36 2l.37 5.1l.36-4.7l.36 3.5l.37 1.6l.36-5.6l.36-2.8l.37 10.5l.36-3.7l.36-8.4l.37 5.4l.36 .5l.36 1l.37-5.3l.36 2.1l.37 1l.36-2.3l.36 7.8l.37-2.7l.36-3l.36 6.3l.37-2.4l.36-.9l.36-.3l.37 2.3l.36-6.5l.36 7.2l.37-2l.36 3.3l.36-2.8l.37-4.3l.36 4.7l.36-6.3l.37 3.2l.36 .1l.36-1l.37-2.6l.36 4.3l.36 1.6l.37-2.7l.36 4.8l.36 4.1l.37-4.3l.36-6.8l.36 4.6l.37-1.7l.36-2l.36 5.9l.37-6.6l.36 1.9l.36 7.3l.37-5.7l.36-.6l.37-3.6l.36 4.1l.36-3.3l.37 4.3l.36 2.4l.36-8.3l.37 8.8l.36-7.2l.36 7.7l.37-7.7l.36 .6l.36 5.6l.37-1.7l.36 2.6l.36-1.7l.37-3.2l.36-.3l.36 1.7l.37-.2l.36-.6l.36-5.4l.37 6.3l.36 2.4l.36-4.1l.37 6.8l.36-3.4l.36-2.8l.37 6l.36-11.2l.36-.8l.37 1.8l.36 2.9l.36 7l.37 1l.36-8.5l.36 4l.37-1.9l.36 3.3l.36-5.4l.37 .1l.36-.8l.37-3l.36 7.6l.36 5.1l.37-11.8l.36 3.6l.36 6.8l.37-.1l.36-9.8l.36 1.2l.37 3.8l.36 4.5l.36-6.1l.37-4.9l.36 10.9l.36-3.3l.37 5.7l.36-3.9l.36 1.9l.37-11.3l.36 4.3l.36 3.6l.37-10.4l.36 8.8l.36-11.3l.37-.8l.36-2.2l.36-3.3l.37 .4l.36-3.2l.36 5.9l.37-1.2l.36-5.8l.36-1l.37-2.8l.36 7.5l.36-7.8l.37-.6l.36-1.5l.37-5.6l.36 6.3l.36 .4l.37-4.2l.36-2l.36-5.3l.37-4.7l.36 .4l.36-2.8l.37 3.6l.36-5l.36-3.8l.37 5.9l.36 1.9l.36-9.7l.37 4l.36-7.4l.36 .7l.37 1l.36-.2l.36-6.5l.37 4.7l.36-9l.36-3.9l.37 4.6l.36 .2l.36-7.8l.37 2.1l.36 3.4l.36-4.9l.37-6l.36 1.6l.36-3.1l.37 5.3l.36-3.8l.36-8.9l.37 6.1l.36-3.9l.37-1.3l.36-3.9l.36-2.6l.37 5.1l.36-5.2l.36 1.1l.37-10.7l.36 1.5l.36 1.6l.37 3.2l.36-6.8l.36 .8l.37-5.5l.36 3.4l.36-1.3l.37-7.6l.36 3.4l.36-1.8l.37-2.6l.36-2.4l.36-3.2l.37-2.1l.36 5.2l.36-4.5l.37-.2l.36-8.8l.36 3.2l.37-1.7l.36-1.4l.36 2.1l.37-3.5l.36-2l.36-3.1l.37 .5l.36 3.6l.36-5.6l.37 2.4l.36 2.6l.36 .2l.37-5.9l.36 5.6l.37 1.5l.36-6.1l.36 7.6l.37-7.5l.36 2.7l.36 .2l.37-.6l.36 2.6l.36 1.1l.37 .3l.36-6.1l.36-2l.37 8.5l.36-4.5l.36-2.9l.37-3.1l.36 3.9l.36 1.4l.37-3.3l.36-1.3l.36 2l.37 5.9l.36-7.4l.36 5l.37-7.3l.36 1.2l.36 9.2l.37-2.9l.36-1.6l.36-.9l.37 2.3l.36-3.1l.36 5.2l.37-2.4l.36-3.8l.36 1.2l.37 4.9l.36-7.3l.37 1.1l.36 1.6l.36-3.2l.37 .5l.36-.5l.36 1.4l.37 2.3l.36 1.7l.36 1.8l.37 .8l.36-6l.36 2.5l.37 .4l.36 2l.36-4l.37 .2l.36 3.8l.36-4.8l.37 4.3l.36-5.8l.36 4l.37-4l.36-2.1l.36 .9l.37 1.2l.36 1.4l.36-3.4l.37 4.9l.36 2l.36-7.3l.37 6.4l.36-.5l.36-5.9l.37 2.8l.36-2.3l.36 .6l.37-1.9l.36 1.7l.36 2.1l.37-2.2l.36 2.4l.37-.2l.36-3l.36-.9l.37 5.8l.36-4.9l.36 3.3l.37-4.8l.36 7.5l.36-3.8l.37 3.4l.36-.7l.36 .9l.37-1.9l.36-4.9l.36 7l.37-4.8l.36-1.2l.36 3.7l.37 3.6l.36-9l.36 .4l.37 3.1l.36-3.9l.36 3.4l.37-2.1l.36 8.2l.36-11l.37 8.3l.36-3.2l.36-.3l.37-2.3l.36-.1l.36-1.1l.37 4.4l.36-2.8l.36 4.2l.37-2.6l.36-2.2l.37 1l.36 7.5l.36-9.9l.37-1.1l.36 5.7l.36 4.5l.37-3.4l.36-1.2l.36-4l.37 3.9l.36-3.7l.36-2l.37 11.7l.36-1.5l.36-7.1l.37 4.6l.36-6.2l.36 4.8l.37 3.6l.36-10l.36 6.8l.37-3.7l.36 2.7l.36-1.7l.37 3l.36 .5l.36-5.5l.37 7.1l.36-1.9l.36-8.2l.37 2.5l.36 1.3l.36-5.6l.37 10.7l.36-6.3l.36-2.1l.37 8.7l.36-.8l.36-5.2l.37-3.7l.36 9.4l.37-4.4l.36 3.2l.36-1.8l.37-3.8l.36 7.5l.36-2.1l.37-6.4l.36 6.8l.36-7.2l.37 1.9l.36 4.2l.36 2.3l.37-6.1l.36-1l.36-2.1l.37 7.5l.36-2.5l.36 3.5l.37-7.8l.36 6.3l.36-4.2l.37 2.3l.36 .9l.36 1.6l.37 1.7l.36-.2l.36-7.9l.37 8.1l.36-8.3l.36 6.1l.37-3.8l.36 3.9l.36 .3l.37-.8l.36-4.1l.36 6.5l.37-7.7l.36 .4l.37 1.7l.36 5.4l.36-8.5l.37 3.9l.36-3.7l.36 5.6l.37 .7l.36 .6l.36-5.3l.37 5.9l.36-.6l.36-.3l.37-7.7l.36 1.8l.36 5.6l.37-3.7l.36-2.6l.36 1.5l.37-.9l.36 1.4l.36 1.2l.37-4.2l.36 8.3l.36-6.2l.37 1.9l.36-.7l.36 4.4l.37 1.8l.36-6.6l.36 4.7l.37-9l.36 7.4l.36-3.6l.37 2.5l.36-4.1l.36 .2l.37 3l.36-1.4l.37 .5l.36 1.8l.36 2.4l.37 .4l.36-1.2l.36-3.4l.37-.6l.36 .1l.36 2.6l.37-3.8l.36-1l.36 4.7l.37 .4l.36-6.1l.36-.7l.37 3.3l.36 7l.36-3.9l.37-5.6l.36 7.2l.36-4.3l.37 4.5l.36-5l.36 7.8l.37-7.7l.36 4.5l.36-6.8l.37 5.2l.36-1.6l.36 1.6l.37-1.6l.36 1.1l.36 .3l.37-2.6l.36-5.9l.36 5.6l.37-.3l.36 0l.36-1.2l.37 4.9l.36-4.5l.37-1.1l.36 6.2l.36-5.9l.37-1.7l.36 11.4l.36-2.5l.37-1.1l.36-.1l.36-5.6l.37 .6l.36 5.9l.36-3.5l.37 5l.36-4.8l.36-1.3l.37 2.4l.36 .7l.36-6.9l.37 2.1l.36-3.4l.36 10.7l.37-5.9l.36 7.5l.36-9.8l.37 2.1l.36 2.2l.36-4.4l.37 2.9l.36-1.7l.36 1.8l.37 4.3l.36-.7l.36-1.3l.37-5.3l.36 7.7l.36 2.3l.37-.4l.36-6.5l.37 3.1l.36 1.7l.36-3.4l.37 .2l.36 1.5l.36 2.7l.37-5l.36 2.2l.36-.6l.37-2.8l.36-3.2l.36 6.8l.37 .6l.36-3.6l.36-.5l.37 2.9l.36 3l.36-4l.37-2.6l.36 2.3l.36 2.1l.37-10.2l.36 5.1l.36 2.7l.37 .2l.36-4l.36 0l.37 2l.36 3.3l.36 2.3l.37-4.9l.36 2.2l.36-4.6l.37 7.6l.36-11.3l.36 12.1l.37-3.9l.36 1.6l.36-7.9l.37 9.7l.36-.8l.37-2.6l.36-3.6l.36 1.5l.37 6.9l.36-11.1l.36 5.9l.37 .2l.36-1.9l.36-2l.37 5.5l.36-.5l.36-2.6l.37-6.9l.36 4.7l.36 9.1l.37-9.4l.36 5.8l.36-5.1l.37 3.8l.36-.5l.36 1.2l.37-5.9l.36 .6l.36 .6l.37 .9l.36 .7l.36-2.4l.37 4.8l.36-.3l.36-.4l.37 3.5l.36-4.5l.36 2.3l.37-3.2l.36 3.3l.36 .4l.37-5.7l.36 .6l.37 1.6l.36 3.4l.36-8.5l.37 4.2l.36 5.2l.36-6.5l.37 1.8l.36 5.9l.36-2.7l.37-7l.36-1.6l.36 5.2l.37 4.7l.36-2.2l.36-3.4l.37-1.1l.36-2.4l.36 7.3l.37-1.7l.36 .9l.36 1.7l.37-1.1l.36-1.1l.36 1.4l.37-6.9l.36 9.6l.36-1.9l.37 3.3l.36-10.1l.36 3.4l.37 3.3l.36-6.7l.36 6.3l.37-2.7l.36 1.4l.36-7l.37 6.1l.36 3.4l.36-5.1l.37 1.4l.36 .8l.37-2.2l.36-3.4l.36 10l.37-10.1l.36 10.9l.36-8.1l.37 .1l.36 6.4l.36-3.1l.37 3.3l.36-2.2l.36 3.5l.37-2.1l.36 1l.36-3.6l.37 3l.36-5.5l.36-.3l.37-1.3l.36 .1l.36-1.7l.37 6.9l.36-5.9l.36-3.2l.37 3.2l.36 1.9l.36-3.8l.37 5.7l.36-3.3l.36-.3l.37 7.3l.36-2.7l.36-.8l.37 4.8l.36-3.6l.36-1.4l.37 2.9l.36-2.2l.37-1.8l.36-2.9l.36 6.3l.37-6.5l.36 1.9l.36-1.1l.37-2.8l.36 4l.36-3l.37 5.3l.36-3.9l.36-.6l.37 3.3l.36 1.8l.36 1.8l.37-5.9l.36 3.7l.36 2l.37-4.8l.36 1.9l.36 3.3l.37-7.7l.36 9.2l.36-4l.37-3.7l.36 6.3l.36-4.6l.37-1.9l.36 6.3l.36-4l.37-1.6l.36-.9l.36 10.1l.37-6.9l.36-1.9l.36-3.8l.37 2.2l.36 4.8l.37-5.7l.36 4.9l.36-1.2l.37-2.8l.36 1.3l.36-.3l.37-1.4l.36 9.2l.36-9.9l.37 5.1l.36-2.7l.36-2.5l.37 1.9l.36-2.5l.36 7.5l.37-5.4l.36 5.6l.36-4.9l.37 1.7l.36 4.5l.36-6.4l.37 .8l.36 1.5l.36-7.1l.37 9l.36-5.3l.36 10.3l.37-9.2l.36 .2l.36 5.9l.37-.5l.36-4.6l.36-2.5l.37 0l.36-.2l.36 3.2l.37 .4l.36 .8l.36 1.1l.37-3.3l.36 7.3l.37-5.3l.36 .3l.36-.1l.37 .6l.36-.9l.36-3.1l.37 4.7l.36-1.9l.36 6l.37-1l.36-7.8l.36 4.7l.37 2.4l.36-1.9l.36 4.1l.37 .1l.36-6.4l.36 5.5l.37-6.2l.36 3.4l.36-1.3l.37 1.4l.36-2.6l.36-.5l.37-3.9l.36 3.5l.36 4.3l.37-3l.36-3.7l.36 5.5l.37 1.9l.36-9.5l.36 7.2l.37 3.5l.36-5.7l.36-2.5l.37 4.9l.36 1l.37 1.1l.36-2.6l.36 .1l.37-3.5l.36-1.9l.36 4.6l.37-4l.36 3.6l.36-2.9l.37-1.4l.36 1.8l.36-1.4l.37 8.1l.36-2.7l.36 .4l.37-9.5l.36 4.4l.36-2.4l.37 1.3l.36-.1l.36 3.9l.37 5l.36-6.6l.36 2.2l.37 4.3l.36 1l.36-6.4l.37-3l.36 9.8l.36-4.1l.37-3.3l.36 1.6l.36-.4l.37-3.3l.36 6.6l.36-1.9l.37-5.4l.36 7.5l.36-2.8l.37-.7l.36 4.9l.37-4.4l.36-4.5l.36-.5l.37 6.3l.36 2.2l.36-8.3l.37 8.3l.36-.4l.36-4.7l.37 8.5l.36-7.6l.36 2.4l.37 .3l.36 2.8l.36-8.7l.37 3.5l.36-1.1l.36 3.5l.37-.2l.36 1.9l.36-7.5l.37 3.9l.36-.5l.36-4.1l.37 3.6l.36-.2l.36 4.5l.37-7.2l.36 2.7l.36 6.7l.37-.8l.36-2.9l.36-.2l.37-7.2l.36 9.4l.36-6.5l.37 6l.36-1.3l.37-4.4l.36 5.5l.36-4.8l.37 6.5l.36-1l.36-7.2l.37 1.8l.36 4.5l.36-4.5l.37 4.3l.36-5.9l.36 2.4l.37-6.2l.36-4.9l.36 2.5l.37-4.9l.36 2.4l.36 .2l.37 3.5l.36-8.7l.36-1.4l.37-4.9l.36 1.7l.36 3.5l.37-6.6l.36 1.4l.36-3.7l.37 4.1l.36-9.4l.36-4.7l.37 10.4l.36-6.5l.36 1l.37-4.6l.36-2.3l.36-1.7l.37-3l.36 4.5l.36-1.5l.37-7.8l.36-2.6l.37 0l.36 3.6l.36-4.3l.37-5.6l.36 2.9l.36 3l.37-7.1l.36-5.9l.36 1.3l.37-2.7l.36 3.5l.36-5.6l.37 2.8l.36-4.7l.36-3.5l.37 2.5l.36-3.6l.36-1.9l.37-1.1l.36-1.2l.36 4.6l.37-3.7l.36-6.4l.36 6l.37-8.6l.36 3.5l.36-.2l.37-7.8l.36 2.3l.36-.5l.37-5.4l.36 4.3l.36-1.7l.37-11l.36 3.7l.36-6l.37 4.6l.36 1.5l.37-5.6l.36-4.4l.36-4.6l.37-.6l.36 1l.36 1.7l.37-3.3l.36 4.5l.36-1.1l.37-6.4l.36-1.1l.36 5l.37-13.5l.36 2.7l.36 .6l.37-7.4l.36 .8l.36 3.8l.37-10.3l.36 7.2l.36-3.1l.37-5.2l.36-.9l.36 4.6l.37-6.9l.36 3.3l.36 .7l.37 .8l.36-2.4l.36-1.6l.37 .6l.36-.1l.36 6.1l.37-13.4l.36 .1l.36 6.7l.37-1.1l.36 1.8l.37 3.9l.36 .6l.36-8.7l.37-1.4l.36 .7l.36 .5l.37-2.9l.36 6.9l.36-3.3l.37 3.1l.36-2.9l.36-1.6l.37 .9l.36-1.5l.36 6.1l.37-4.3l.36 .2l.36-4l.37 6.8l.36-5.7l.36 7.2l.37 .7l.36-.4l.36 3.5l.37-4.7l.36-3l.36 3.6l.37-4.7l.36 2.1l.36-1.8l.37-1.7l.36 1.4l.36 8l.37-3.3l.36-11.4l.36 5.4l.37 5.4l.36 1.8l.36-8l.37 2.2l.36-3.1l.37 .7l.36 3l.36-2.4l.37 2.2l.36 6.3l.36-6.1l.37-4l.36 .8l.36 2.5l.37 3.5l.36-.7l.36-.4l.37-4l.36 5.8l.36-5l.37-3.2l.36 2.4l.36 .5l.37 4.2l.36 2.3l.36-4.3l.37-6.4l.36 6.2l.36 .6l.37-.9l.36 3.6l.36-2.2l.37-5.7l.36 4.5l.36 .9l.37-2.2l.36 1.2l.36-2.9l.37 1.7l.36-1.4l.36 4.7l.37-6.4l.36 1.8l.37-2.7l.36-1.9l.36-.4l.37 10.2l.36-11l.36 5.8l.37 .3l.36 2.4l.36-4.4l.37-.2l.36-3.1l.36-.4l.37 .2l.36 2.3l.36 .1l.37 2.8l.36-3.1l.36 6.2l.37-6.6l.36 6.5l.36-7.6l.37 2.3l.36-.7l.36 4.3l.37-5.5l.36-2.8l.36 9.3l.37-.2l.36-3l.36 4.5l.37-9.5l.36 5.6l.36-1.4l.37 3.4l.36-5.2l.36 4.6l.37-3.2l.36 5.5l.36-1.7l.37-5.1l.36 2l.37-2.6l.36 3.9l.36-.5l.37 3.9l.36-7.1l.36-4.3l.37 10.5l.36 1.6l.36-6.5l.37-1l.36 5.6l.36-.5l.37-1.3l.36 1.4l.36-4.4l.37-4.4l.36 6.7l.36-1.5l.37-3.2l.36-.4l.36 10.3l.37-10.6l.36 2.3l.36-.1l.37 4l.36 .1l.36-4.3l.37-3.7l.36 1.3l.36 6.8l.37-.9l.36 .1l.36 1.1l.37 1.7l.36-1.7l.36-5.1l.37 1.4l.36-.2l.37-4.2l.36 2.7l.36-.8l.37-.1l.36 8.4l.36-9.6l.37 4.8l.36 .2l.36 1.9l.37-3.1l.36-1.3l.36-1.8l.37 9.1l.36-8.9l.36 .3l.37 7.5l.36 2.1l.36-6.6l.37-1.3l.36 2.6l.36-4.8l.37 5.5l.36-1.4l.36-1.5l.37 7l.36-2.1l.36 2.2l.37-8.8l.36 6.9l.36-3.7l.37 7l.36-9.7l.36-.9l.37 3.3l.36 .4l.36-2.1l.37 4.6l.36-6.2l.36-3.1l.37 8.8l.36 .6l.37-5.3l.36 8.4l.36-7.3l.37 4.4l.36-.1l.36-3.8l.37-1.7l.36 4.8l.36-.5l.37-2.4l.36 3.4l.36-.4l.37-5.4l.36-.8l.36 9.6l.37-6.5l.36 3.2l.36-3.5l.37 5.1l.36-7l.36 5.3l.37-1.6l.36 2.8l.36 .3l.37-1.8l.36-9l.36 13l.37-3.1l.36 3.8l.36-1.8l.37-.4l.36-7l.36-.6l.37 7.6l.36 1.4l.36-8.7l.37 5.8l.36 0l.37 .3l.36 2.5l.36-3.9l.37-2.1l.36 5.1l.36-5.5l.37 4l.36-.1l.36-1.8l.37-1.1l.36 3.8l.36-7.3l.37 3.4l.36-.3l.36 3.4l.37-7.2l.36 3.1l.36-.6l.37 4.7l.36-5.4l.36 6.4l.37-2.5l.36-6.7l.36 2.3l.37 2.9l.36 2.1l.36-6.2l.37 5.8l.36-7l.36 5.9l.37-3.7l.36 5.5l.36-4.2l.37-1.5l.36-1l.36 3.5l.37 1.2l.36-3.5l.37 3.8l.36 2.2l.36 .9l.37 .4l.36 1.3l.36-6.3l.37 3.8l.36-2.3l.36-9l.37 9.2l.36 .7l.36-2.2l.37 4.5l.36-5.9l.36 3l.37-3.4l.36 5.4l.36-4.7l.37-1.4l.36 2.7l.36-2.2l.37 5.7l.36-5.1l.36 2.5l.37-2.2l.36 2.1l.36 1.6l.37-1.1l.36 .3l.36 1.5l.37 .6l.36-3.4l.36-1.1l.37-.2l.36-1.5l.36 .3l.37-2.8l.36 8.5l.36 2.3l.37-1.5l.36-.5l.37-7.8l.36 1.7l.36 6.3l.37-2.3l.36 .4l.36-.1l.37-5.2l.36 1.1l.36 .4l.37 4.6l.36-1.2l.36-5.3l.37 5.1l.36-5.4l.36 1.8l.37-.3l.36 2.3l.36 4.1l.37-.6l.36-7l.36 6.6l.37-3.9l.36 1.8l.36-5.9l.37 2.5l.36-.7l.36 5.8l.37 1.4l.36-4.5l.36-3l.37 4.5l.36-1.2l.36 2.8l.37 1.7l.36-2.5l.36-.6l.37-4.7l.36-1.6l.37-1.1l.36-.4l.36 12.9l.37-7.3l.36 7.5l.36-9.2l.37 9.7l.36-3.1l.36-4.9l.37-1.4l.36-1.7l.36-.9l.37 9.9l.36-.8l.36-6.6l.37 4.4l.36 1.3l.36 3.4l.37-4.7l.36-6.2l.36 5.1l.37 2.8l.36-1.5l.36 3.6l.37-7.7l.36 2l.36-1.7l.37-2.6l.36 4.2l.36-3.4l.37 3.5l.36-5.3l.36 8.6l.37 1.4l.36 1.5l.36-10.5l.37 5l.36 .8l.36-2.1l.37-2.1l.36 6.6l.37 2.9l.36-1.3l.36-4.3l.37 .9l.36-4.1l.36 6.8l.37-6.6l.36 1.6l.36-3.9l.37 7.6l.36-3.9l.36-3.3l.37 6.5l.36-8.3l.36-.5l.37 7l.36-4.8l.36 6.8l.37-7.1l.36 .8l.36 5.9l.37-2.5l.36 3.5l.36-2.6l.37 .6l.36-4.9l.36 11.7l.37-12.8l.36 3.3l.36-4.2l.37 9l.36 .8l.36-8.3l.37-1.8l.36 5.9l.36 1.8l.37-4.2l.36-1.7l.37 9.6l.36-1.9l.36-6l.37-2.4l.36 1.3l.36-.8l.37 4.4l.36-.7l.36 4l.37-2l.36-.1l.36-5l.37 2.4l.36-2.4l.36 7.3l.37-4l.36-5.5l.36 7.1l.37-6.4l.36-.8l.36 9l.37 .5l.36-4.7l.36-1.3l.37 7.8l.36-2.8l.36 1.8l.37-9.3l.36 3.4l.36 1.6l.37 2l.36 1.3l.36 .9l.37 .3l.36-.4l.36-7.4l.37-2.5l.36 2.6l.36-.6l.37 2.7l.36-7.3l.37 9l.36-4.9l.36 1.9l.37 5.9l.36-4.5l.36 7.5l.37-2.8l.36-6.4l.36 .1l.37 2.3l.36 5.5l.36 .2l.37-8.6l.36 6.1l.36-6.3l.37-.1l.36 6.9l.36-4.7l.37 4.8l.36-5.4l.36-1.4l.37 1.7l.36-2.6l.36 4.9l.37-3.1l.36 1.2l.36 4.6l.37-4.2l.36 4.1l.36-4.2l.37-.5l.36 4.5l.36-4.4l.37 1.5l.36-6.7l.36 4.1l.37-.7l.36-3.1l.37 7.4l.36 1.7l.36-4.4l.37 5.2l.36-1.7l.36-4.4l.37 1.1l.36 5.1l.36-.3l.37-2.2l.36-5l.36 4l.37 .6l.36-4.7l.36 4.4l.37-2.3l.36-4.9l.36 2.2l.37 2.5l.36-1l.36-4.1l.37-1.1l.36 3.3l.36-10.8l.37 1.6l.36-.5l.36-8.1l.37-1.5l.36 .3l.36-4.6l.37-1.6l.36-3.3l.36 3.8l.37-9.2l.36 6l.36-7.3l.37 4l.36-4.5l.37-2.1l.36-6.5l.36 7l.37-10.4l.36-.5l.36-7.7l.37-.1l.36 6.2l.36-2.3l.37-6.2l.36-6.5l.36-1.8l.37-2l.36 5.7l.36-7.2l.37-.4l.36-.7l.36-4.9l.37-2.4l.36 3.5l.36-3l.37-3.2l.36-5.3l.36-2.3l.37-1.9l.36-.6l.36-.7l.37-9.3l.36 8.6l.36-9.6l.37-2.2l.36-5.3l.36 5.8l.37-.6l.36-5.7l.36 3.4l.37-3.1l.36-9.7l.36 1.9l.37-4.5l.36-4.4l.37 1.9l.36 6.9l.36-.4l.37-5.4l.36 8.4l.36-8l.37-1.4l.36 .4l.36 4.5l.37-1.5l.36 .2l.36 .3l.37 1.9l.36-2.4l.36-1.8l.37 .2l.36-.9l.36-4.1l.37 3.5l.36 1.9l.36-3.9l.37 1.6l.36 3.3l.36-4.7l.37 2.6l.36 7.8l.36-12.2l.37 4.6l.36-1.6l.36 3.7l.37-.5l.36-1.7l.36-4l.37 6.7l.36 1.2l.36-8l.37 7.5l.36 .7l.37-6.6l.36 6.7l.36-7.1l.37 1.2l.36-.8l.36 7.1l.37-.8l.36-6.4l.36 1.1l.37 3.5l.36-4l.36 5.4l.37-4.8l.36-3.6l.36-.7l.37 2.5l.36 5.1l.36-5.9l.37 3.7l.36-3.5l.36 1.8l.37 4.8l.36 0l.36-1l.37 3.2l.36-9.2l.36 8.7l.37-3.1l.36 1.9l.36-7.6l.37 3l.36-4.6l.36 6.5l.37-3.3l.36-.2l.36 1.2l.37 4.9l.36-5.2l.36-1.5l.37-3.5l.36 4.3l.37 0l.36-2.6l.36 9.3l.37-10.4l.36 2.3l.36 1.5l.37-2l.36 2.7l.36 0l.37 1.5l.36-.9l.36-4.4l.37 5.7l.36 2l.36 0l.37-.4l.36-11.3l.36 4.9l.37-1.9l.36 5l.36-3.3l.37 2.2l.36 2l.36-1.3l.37-4.2l.36-1.9l.36 2.3l.37 3.5l.36 .5l.36-3.7l.37 6.3l.36-11.2l.36 .6l.37 5.7l.36-5.2l.36 4l.37 .5l.36-6.1l.37 11.8l.36 .2l.36-5.3l.37 .6l.36 2.7l.36-5.5l.37-3.9l.36 8.1l.36 .8l.37-1l.36-6.8l.36 6.4l.37 1.3l.36-2.7l.36 3.6l.37-5.4l.36 .8l.36 3.8l.37-4.3l.36-1.6l.36-2.1l.37 8.2l.36-1.2l.36-10.2l.37 11.3l.36-6.1l.36-1l.37-3.1l.36 8.3l.36 .9l.37-4.7l.36 2.7l.36-3.9l.37 4.7l.36-4.6l.36 .8l.37-3.4l.36-.8l.36 3.9l.37 1.5l.36-6.7l.37 5.4l.36-4l.36 1.5l.37 8l.36-3.3l.36 .3l.37 .6l.36-1.7l.36-5l.37 1.6l.36 4.8l.36 1l.37-7l.36-2.4l.36 9.2l.37-.4l.36-9.1l.36 7.2l.37 3.5l.36-6.8l.36-5.2l.37 3.9l.36-1.2l.36-1.2l.37 3.7l.36 .5l.36-3.3l.37 4l.36-1.6l.36 2.4l.37-6.9l.36 9.9l.36-3.7l.37-7.1l.36 9.6l.36-4.9l.37 8.3l.36-2.4l.37-7.4l.36 2.9l.36-1.6l.37 4.2l.36-2.4l.36 2.1l.37 .7l.36-2.1l.36-4.3l.37 .1l.36 .1l.36-1.8l.37 3.1l.36 6.2l.36-2.4l.37-5.4l.36-.9l.36 3.6l.37-4.8l.36 5l.36-7.2l.37 2.9l.36 5.3l.36-3.2l.37 4l.36 1.8l.36-8.8l.37 5.8l.36-3.6l.36 7.4l.37-4l.36 .4l.36-7l.37 5.9l.36 .7l.36 .6l.37-3l.36 2l.37-4.3l.36-2.4l.36 7.7l.37-7.7l.36 7.4l.36 .6l.37 2l.36-1.3l.36-6.8l.37 9.7l.36 .7l.36-6.7l.37-4.5l.36 5.3l.36-5.2l.37-.8l.36 8.4l.36 .9l.37-6.4l.36-.3l.36 4l.37 3.3l.36-.4l.36 .5l.37-2.3l.36 .8l.36 1.5l.37-2.3l.36-6.2l.36 1.7l.37 6.9l.36-3.5l.36 1.2l.37-2.1l.36-4.8l.36 5l.37-7.4l.36 1l.36 2.9l.37 3.9l.36 1.1l.37-6.4l.36 7.3l.36-5l.37 9.5l.36-3.7l.36-5.3l.37-1.2l.36 7.2l.36-3.2l.37-3.2l.36 3.8l.36 1.1l.37-4l.36 4.4l.36-2.3l.37-2.6l.36-.9l.36 2.2l.37 4.6l.36 .9l.36 2.2l.37-12.1l.36 7.5l.36 2.4l.37-4.2l.36-2.1l.36 1.7l.37-4.1l.36 2.7l.36 5l.37 4.6l.36-10.4l.36 6.3l.37-5.9l.36 5.5l.36-1.7l.37 2.1l.36-5.9l.37 3.4l.36 4.3l.36-1.7l.37-9.1l.36 2.9l.36 7.9l.37-.1l.36-6.6l.36-.9l.37 .1l.36-1.1l.36 5.3l.37-2.6l.36-3.2l.36 1.6l.37 1.7l.36 4.3l.36-.2l.37-2.3l.36-4.3l.36 3.7l.37 2.1l.36-4.9l.36-1.7l.37 1.2l.36-5.6l.36 6.7l.37 1.9l.36 4l.36-10.9l.37 2.2l.36 .4l.36 .1l.37 2.5l.36 4.3l.36-1.8l.37 5.2l.36-4.8l.36 5.4l.37-10.8l.36 5.1l.37 2.4l.36-2.3l.36 1.4l.37-1.2l.36 2.6l.36-3.8l.37 .7l.36 6.4l.36-4.6l.37-3l.36 1.9l.36-.9l.37 3.6l.36-4.4l.36-2.2l.37 2l.36-2.5l.36 7.1l.37-9.5l.36 7.3l.36 2.1l.37-2.7l.36-3l.36 2.9l.37 3.5l.36-1.2l.36-4.1l.37 7.3l.36-5.5l.36 1.4l.37-.4l.36 .6l.36 1.5l.37-1.1l.36-6.8l.36 9.6l.37-5.5l.36 2.9l.37-5.9l.36 1l.36 5l.37 .8l.36-.9l.36-.4l.37 .9l.36-9.1l.36 9.2l.37-1.2l.36-3.9l.36 5.7l.37-11.3l.36 7.1l.36-1.6l.37 4.1l.36-4.5l.36 5.9l.37 2.1l.36-11.6l.36 5l.37 2.8l.36 1.2l.36 .6l.37 1.7l.36-7.5l.36 3.8l.37 2.2l.36-7.3l.36 1.6l.37 .8l.36-1l.36 5.7l.37 3.6l.36-13.7l.36 7.1l.37-5.4l.36 4.9l.36 1.7l.37-9.3l.36 0l.37 5.7l.36 .5l.36-2.1l.37 .3l.36 3.5l.36-4.1l.37 5.2l.36-4.9l.36 4.5l.37-2.1l.36 6l.36-9.6l.37 4.4l.36-3l.36-5.1l.37 8.2l.36-2.3l.36 4l.37-2.4l.36-1.4l.36 4.2l.37-8.5l.36 9.1l.36 .2l.37-6.8l.36 5.1l.36-6.2l.37 2.6l.36 4.9l.36 3.2l.37-7.9l.36 6.4l.36-9.3l.37 .1l.36 1.9l.36 3.8l.37 .6l.36-7l.37 7.5l.36-1.6l.36-4.6l.37 8.5l.36-10.7l.36 6.9l.37-2.9l.36 9.6l.36-6.7l.37 3.1l.36-1.3l.36-1.7l.37-2.3l.36 4.3l.36-6.3l.37 3.6l.36 1.3l.36-6.7l.37 6l.36-.5l.36-1.8l.37 6.5l.36-8.6l.36 1.9l.37-1.8l.36 2.1l.36 3.6l.37-4.8l.36 5.9l.36-8.4l.37 8.4l.36-5.1l.36 2.6l.37-7.4l.36 8.1l.36-1.8l.37 1.3l.36 0l.37-3.5l.36 8.7l.36-8.8l.37-2.4l.36 3.9l.36-2.2l.37-3.9l.36 6l.36-2.2l.37 4.9l.36-.6l.36 .9l.37-3.1l.36-2.2l.36-4l.37 3.1l.36 1.5l.36 4.9l.37-.6l.36-5.8l.36 5.5l.37-3.9l.36 4.1l.36-6l.37 1.8l.36 3l.36-1.8l.37-5.8l.36 2.7l.36 4.6l.37-.1l.36-8.3l.36 4.1l.37-.7l.36 4.5l.36-7.8l.37 6.5l.36 3.6l.36-4.8l.37-4.1l.36 3.1l.37-1.5l.36 .9l.36-1.3l.37 1.4l.36-6.6l.36 1l.37-.2l.36 7.1l.36-5.8l.37 .5l.36 3.1l.36-1.9l.37-2.5l.36 6.2l.36 1.2l.37 1.1l.36-7.2l.36 3.6l.37-6.2l.36 4.6l.36-6.7l.37-1.2l.36-1.9l.36 6.4l.37 4.4l.36-4.4l.36-1.6l.37 .5l.36 3.3l.36-7.3l.37 3.9l.36 3.2l.36-7.8l.37 7.8l.36-7.1l.36 7.3l.37-5.7l.36 10.2l.37-4.1l.36-6.8l.36 .8l.37-3.7l.36 3.1l.36-1.7l.37 6.3l.36-6.4l.36 .4l.37 3.3l.36-2.1l.36 3.9l.37-.6l.36-6.7l.36 8.1l.37 .2l.36 1.2l.36 2l.37-7.6l.36 4.3l.36 4.1l.37-8.4l.36 4l.36 .8l.37-6.5l.36-.5l.36 2.8l.37 2.4l.36-.4l.36-5.9l.37 4.4l.36 2.7l.36-7.9l.37 5l.36 5.2l.36-4.7l.37-.6l.36 3l.36-4.2l.37-2.3l.36-.6l.37 6.6l.36-5.8l.36 9.2l.37-5.6l.36-3.8l.36 5.2l.37 2.9l.36 1.1l.36-9.4l.37 .4l.36 1.4l.36 3.3l.37 3l.36-3.7l.36 4.6l.37-7.1l.36 7l.36-3l.37 .4l.36-1.5l.36 5.9l.37-2.6l.36-4.5l.36 6.7l.37-5.1l.36 4.8l.36-4.8l.37 2.5l.36 1.9l.36-6.1l.37 5.7l.36-.8l.36 0l.37-2.4l.36 6.2l.36 4.3l.37-.3l.36-1.8l.37-5.6l.36 3.9l.36-3.4l.37 3.6l.36 3.8l.36-3l.37 3.3l.36 .4l.36 3.5l.37-1.8l.36-3.9l.36 .6l.37 5.8l.36-6.3l.36 3.7l.37 1.9l.36 1.1l.36-.8l.37-3.2l.36 3.4l.36 2.8l.37 2.3l.36-3.5l.36 0l.37 3.5l.36-3.2l.36 .7l.37-1.7l.36 9l.36-3.6l.37-3.8l.36-.4l.36 2.8l.37 6.7l.36-7.1l.36 2.1l.37 4.2l.36 4.8l.36-.6l.37-4.6l.36 .6l.37 .8l.36-.8l.36 5.5l.37-4l.36 7.8l.36-1.5l.37-3.3l.36 9.4l.36-10.2l.37 5.1l.36 1.3l.36-2.5l.37 5.6l.36 4.3l.36-6.9l.37 8l.36-.1l.36-1.9l.37-5.2l.36 9.9l.36-8.1l.37 5l.36 2.6l.36 0l.37 5.2l.36-7l.36 4.2l.37 4.3l.36-5.3l.36 2l.37 7.2l.36-6.9l.36-.8l.37 5.5l.36-1.4l.36 5.4l.37-6.5l.36 6l.37-1.1l.36 1.8l.36-2l.37 2.1l.36 1.2l.36 .7l.37-2.8l.36 4l.36-2.4l.37 2.7l.36 5.4l.36 1.6l.37-4.3l.36 10.1l.36-13.1l.37 5.7l.36-1.1l.36 8l.37-5.2l.36 4.3l.36-.4l.37 4.1l.36-4.1l.36 5.3l.37-.9l.36-2.4l.36-1.8l.37 5.9l.36 2.5l.36 2.8l.37-8.7l.36 5.9l.36 7.6l.37-6.6l.36-3.1l.36 9.3l.37-7.2l.36 9.2l.37 .3l.36 .5l.36-5.4l.37 5.9l.36-2.3l.36-.7l.37 .5l.36-2.5l.36 9.5l.37-2.2l.36-1.4l.36 7.9l.37 1.5l.36-8.9l.36 6.4l.37-4.1l.36 6.7l.36-.3l.37-4.6l.36 7.8l.36-1.1l.37-1.6l.36-1.4l.36 2.8l.37 6.9l.36-3.7l.36-.1l.37-.6l.36 5.2l.36-2.9l.37 2l.36 6.4l.36-3.7l.37 1.8l.36-4l.36 6.2l.37 2.5l.36-4.5l.36-2.8l.37 1.6l.36 1.6l.37 5.8l.36 5.6l.36-11.2l.37 6l.36 2.7l.36-1.2l.37 6.3l.36-8l.36 5.8l.37-4.7l.36 6.9l.36 .8l.37-2.3l.36 3.4l.36 2.1l.37-4.4l.36 7.4l.36-1l.37-4.1l.36 1.3l.36 2.6l.37-3l.36 9.2l.36-4.6l.37 4.7l.36-1.3l.36-1.1l.37 4.8l.36 1.9l.36-5.8l.37 7.6l.36-1.7l.36 2.9l.37-7.2l.36-.9l.36 6.1l.37 4.3l.36-6.6"/>
<circle cx="362.0" cy="1105.2" r="19.2" fill="#ff0000"/>
<circle cx="571.1" cy="926.7" r="19.2" fill="#ff0000"/>
<circle cx="779.1" cy="756.2" r="19.2" fill="#ff0000"/>
<circle cx="987.5" cy="742.2" r="19.2" fill="#ff0000"/>
<circle cx="1196.5" cy="568.4" r="19.2" fill="#ff0000"/>
<circle cx="1405.0" cy="425.2" r="19.2" fill="#ff0000"/>
<circle cx="1613.8" cy="294.7" r="19.2" fill="#ff0000"/>
<circle cx="1822.5" cy="238.8" r="19.2" fill="#ff0000"/>
<circle cx="2031.0" cy="136.5" r="19.2" fill="#ff0000"/>
</g>
<g>
<path class="ln" stroke="#0000ff" d="M362.00,1103.0l.36 3l.37 0l.36-4l.36 3l.37-1l.36 4l.36-3l.37-3l.36 4l.36-5l.37 5l.36-2l.36 0l.37 0l.36 4l.36 0l.37-4l.36 2l.36-2l.37-1l.36 2l.37 2l.36-4l.36 4l.37-3l.36-1l.36 0l.37 1l.36 2l.36 2l.37-1l.36-3l.36-2l.37 5l.36 0l.36-1l.37 1l.36 1l.36-4l.37 3l.36-1l.36-2l.37 2l.36 0l.36-1l.37 1l.36 2l.36-5l.37 1l.36-1l.36 1l.37 3l.36-3l.36-1l.37 1l.36-3l.36 7l.37-6l.36 6l.37 1l.36-4l.36 2l.37-2l.36 2l.36-2l.37-1l.36 4l.36-1l.37-2l.36-3l.36 4l.37-2l.36 2l.36 0l.37 0l.36-1l.36 0l.37-1l.36 0l.36 2l.37-3l.36 5l.36-3l.37-4l.36 2l.36 7l.37-7l.36 6l.36-2l.37-2l.36 2l.36-2l.37 1l.36 2l.36-2l.37-1l.36 0l.36 3l.37-4l.36 0l.37 1l.36 0l.36 3l.37-6l.36-1l.36 6l.37-4l.36 1l.36-2l.37 4l.36 1l.36-5l.37 0l.36 2l.36 3l.37-2l.36 0l.36-1l.37 1l.36 2l.36-4l.37 5l.36-1l.36-2l.37-3l.36 2l.36 2l.37 1l.36-1l.36-3l.37 3l.36-3l.36 5l.37 0l.36-5l.36 1l.37 2l.36 0l.37 0l.36 1l.36-3l.37 3l.36-6l.36 6l.37 0l.36-4l.36-2l.37 3l.36-1l.36-4l.37 3l.36-4l.36 3l.37-3l.36 2l.36-2l.37 4l.36-5l.36 0l.37-3l.36 6l.36-5l.37 5l.36-4l.36-2l.37 3l.36 2l.36 0l.37-7l.36 4l.36-2l.37 0l.36 2l.36-6l.37 2l.36-1l.37-3l.36 4l.36-5l.37 4l.36-6l.36 3l.37 0l.36 0l.36-1l.37 1l.36 1l.36-5l.37 3l.36-4l.36 0l.37 3l.36 1l.36-3l.37-3l.36-1l.36 4l.37-5l.36 1l.36 1l.37-2l.36 2l.36 2l.37-2l.36-6l.36 4l.37 2l.36-5l.36-1l.37 1l.36-1l.36-3l.37 5l.36 0l.36 1l.37-2l.36 0l.37-2l.36 2l.36-3l.37-6l.36 8l.36-4l.37 1l.36-2l.36 2l.37-3l.36-2l.36-2l.37 6l.36-4l.36-1l.37-2l.36 0l.36 3l.37-3l.36-1l.36 1l.37 2l.36-4l.36-5l.37 1l.36-4l.36 0l.37 1l.36 1l.36 0l.37-6l.36 6l.36-5l.37 0l.36 0l.36-6l.37 3l.36-3l.37-2l.36 1l.36 0l.37-1l.36-2l.36 1l.37-1l.36-6l.36 2l.37-3l.36 1l.36 4l.37-8l.36 4l.36-6l.37 0l.36 0l.36 0l.37-2l.36 2l.36 2l.37-6l.36-1l.36-3l.37 0l.36 0l.36 1l.37 1l.36-5l.36 5l.37-1l.36-1l.36-1l.37-2l.36 2l.36-6l.37 5l.36-5l.36-2l.37-1l.36 4l.37 0l.36-1l.36 0l.37-5l.36 1l.36 2l.37-2l.36-4l.36 0l.37 0l.36 2l.36-2l.37-2l.36 0l.36 0l.37-4l.36 1l.36 1l.37-3l.36 1l.36-2l.37 1l.36-4l.36-1l.37 2l.36 1l.36-6l.37 5l.36-2l.36-4l.37 4l.36-2l.36-3l.37-1l.36 1l.36-7l.37 6l.36-1l.37-7l.36 0l.36-1l.37-3l.36 6l.36-5l.37-2l.36 4l.36 0l.37-2l.36-1l.36-5l.37-1l.36 3l.36-4l.37 0l.36-2l.36 0l.37 0l.36-4l.36 1l.37-4l.36 0l.36-2l.37 3l.36-5l.36-5l.37 2l.36 5l.36-10l.37-1l.36 6l.36-6l.37 2l.36 3l.36-2l.37-6l.36 9l.36-4l.37-4l.36 10l.37-2l.36-6l.36 8l.37-4l.36 2l.36-4l.37 0l.36 10l.36-7l.37 3l.36-5l.36 2l.37 2l.36 3l.36 2l.37-2l.36-6l.36 1l.37-1l.36 5l.36-4l.37-4l.36 2l.36 12l.37-13l.36 2l.36-2l.37 4l.36 6l.36-6l.37 4l.36-2l.36-1l.37-5l.36 5l.36 0l.37-5l.36 8l.37-4l.36-1l.36-9l.37 0l.36 4l.36 20l.37-3l.36 6l.36-30l.37 7l.36 13l.36-9l.37-13l.36 23l.36-14l.37 10l.36-5l.36-12l.37 6l.36 6l.36 15l.37 2l.36-29l.36 8l.37-12l.36 28l.36-2l.37 4l.36-19l.36 7l.37-9l.36-14l.36 17l.37-1l.36 24l.36-7l.37-15l.36-2l.37-9l.36 20l.36 3l.37 3l.36-23l.36-8l.37 19l.36 20l.36 3l.37-34l.36 26l.36-27l.37 10l.36-14l.36 7l.37-16l.36 20l.36-12l.37 8l.36 34l.36-31l.37 6l.36-18l.36 13l.37 15l.36-23l.36 19l.37-23l.36 33l.36-40l.37 6l.36 26l.36 13l.37-40l.36 14l.36 19l.37-17l.36 3l.36 10l.37-23l.36 29l.37-13l.36-9l.36 12l.37-1l.36-13l.36 9l.37 13l.36 6l.36-35l.37 13l.36 6l.36-10l.37 13l.36 12l.36-17l.37 9l.36-3l.36 4l.37-18l.36 3l.36 20l.37 8l.36-22l.36-2l.37 4l.36-15l.36 20l.37 5l.36-8l.36-5l.37 7l.36-28l.36 4l.37 24l.36 8l.36-26l.37 17l.36 10l.37-26l.36 26l.36-9l.37-8l.36-9l.36 12l.37 13l.36-28l.36-4l.37-3l.36 28l.36 5l.37-6l.36-4l.36-7l.37-9l.36-8l.36 29l.37-11l.36 21l.36-19l.37 19l.36-40l.36 13l.37 22l.36-23l.36 33l.37-31l.36-5l.36 10l.37-21l.36 34l.36-10l.37-11l.36 5l.36 16l.37 2l.36-17l.36 18l.37-21l.36-10l.37 15l.36-19l.36 4l.37 14l.36-5l.36 21l.37-32l.36 3l.36 26l.37-6l.36 5l.36-13l.37-13l.36 29l.36 8l.37-19l.36 4l.36 9l.37-31l.36 18l.36-18l.37 12l.36 2l.36-4l.37 29l.36-17l.36 4l.37 5l.36-13l.36-3l.37-12l.36 17l.36 18l.37-6l.36-1l.36-14l.37 27l.36-36l.37-1l.36 0l.36 24l.37-30l.36 25l.36 0l.37 8l.36-26l.36 18l.37-14l.36-12l.36 32l.37-17l.36 5l.36-12l.37 19l.36-20l.36 22l.37 6l.36-35l.36 3l.37 1l.36 12l.36 2l.37-18l.36 32l.36-20l.37 7l.36-8l.36-9l.37 26l.36-15l.36-3l.37 26l.36-19l.36-14l.37 13l.36 11l.36-24l.37 25l.36-27l.37 7l.36 14l.36-12l.37 30l.36-9l.36-5l.37-22l.36 25l.36-33l.37 18l.36-1l.36-5l.37-10l.36-1l.36 24l.37 12l.36-3l.36-9l.37 0l.36 5l.36-9l.37-5l.36 13l.36-21l.37 31l.36-16l.36-18l.37 5l.36 8l.36 4l.37-6l.36-9l.36 29l.37-9l.36-24l.36 13l.37-24l.36 19l.37 2l.36-5l.36 4l.37 7l.36-4l.36-16l.37 16l.36-6l.36 27l.37-20l.36 7l.36 20l.37-36l.36 3l.36 29l.37-22l.36-13l.36 37l.37-11l.36-3l.36 7l.37-2l.36-22l.36 11l.37-6l.36 31l.36-27l.37-3l.36-3l.36 6l.37 17l.36-22l.36 7l.37 4l.36-1l.36 0l.37-17l.36-4l.37 10l.36 13l.36 2l.37-23l.36 5l.36 7l.37-1l.36-9l.36 14l.37 12l.36-34l.36 40l.37-13l.36-23l.36 31l.37-4l.36-26l.36 5l.37 9l.36-4l.36-6l.37-8l.36 12l.36-6l.37 28l.36 8l.36-30l.37 39l.36-22l.36 9l.37-1l.36-20l.36 6l.37 2l.36 12l.36-20l.37-8l.36 18l.36-4l.37 11l.36-2l.37-21l.36-7l.36-5l.37 31l.36 6l.36-29l.37 29l.36-12l.36 4l.37 8l.36 1l.36-20l.37 24l.36-5l.36-9l.37-5l.36-2l.36 22l.37-11l.36 10l.36-14l.37-17l.36 5l.36 6l.37 25l.36-18l.36-7l.37 5l.36-11l.36 2l.37-1l.36 10l.36-3l.37 9l.36-7l.36-21l.37 33l.36-33l.37 6l.36 24l.36-23l.37-3l.36-9l.36 10l.37 2l.36-6l.36 27l.37-7l.36-3l.36-19l.37 35l.36-29l.36-1l.37 7l.36 11l.36-24l.37 38l.36-15l.36-26l.37 23l.36-6l.36-1l.37-7l.36 0l.36 25l.37-35l.36 14l.36-15l.37 24l.36 19l.36-14l.37-26l.36 26l.36 5l.37-18l.36 28l.36-22l.37 2l.36-3l.37 1l.36 17l.36-14l.37 19l.36-10l.36 4l.37-33l.36 31l.36 16l.37-45l.36 28l.36-21l.37 1l.36 4l.36 10l.37-18l.36 13l.36-14l.37 22l.36-23l.36 27l.37-2l.36-16l.36 24l.37-3l.36-35l.36 5l.37 17l.36-17l.36 29l.37-42l.36 17l.36 21l.37-2l.36-17l.36 27l.37-2l.36-13l.37 2l.36 2l.36-8l.37 2l.36-5l.36-1l.37 11l.36-8l.36-10l.37-12l.36 17l.36 21l.37-19l.36 15l.36-3l.37-4l.36 6l.36-24l.37-1l.36 10l.36 9l.37 6l.36 16l.36-48l.37 38l.36-10l.36 2l.37-1l.36 13l.36-6l.37-11l.36-7l.36-7l.37-1l.36 17l.36 8l.37-13l.36-5l.36 12l.37-19l.36 14l.37-24l.36 9l.36 25l.37-24l.36 0l.36 25l.37-21l.36 9l.36-19l.37 35l.36 7l.36-21l.37 17l.36-24l.36 1l.37 1l.36 12l.36-8l.37-20l.36 34l.36 2l.37-32l.36 4l.36 14l.37 3l.36-24l.36 16l.37-14l.36 11l.36-11l.37 2l.36 2l.36-16l.37-11l.36 33l.36-36l.37 45l.36-32l.37 20l.36-5l.36-47l.37 5l.36 7l.36 10l.37-15l.36-16l.36 28l.37-34l.36 30l.36-27l.37-8l.36 8l.36 4l.37-16l.36 8l.36-4l.37 9l.36-3l.36-28l.37 10l.36-9l.36 9l.37 14l.36-25l.36 26l.37-40l.36 36l.36-10l.37 2l.36-12l.36-26l.37 2l.36 16l.36 1l.37 10l.36-19l.37 5l.36-10l.36 20l.37-3l.36-12l.36-19l.37 7l.36-10l.36 25l.37-26l.36 1l.36 0l.37 9l.36-8l.36-1l.37-11l.36 25l.36-27l.37 39l.36-10l.36-1l.37-3l.36-19l.36 10l.37 22l.36-43l.36 10l.37-4l.36 13l.36-20l.37 0l.36 12l.36-1l.37 10l.36-8l.36 16l.37-22l.36 6l.36-10l.37-14l.36 16l.37-15l.36 33l.36-32l.37-2l.36 26l.36-2l.37-13l.36 1l.36 15l.37-20l.36 27l.36-8l.37-31l.36 15l.36 25l.37 3l.36-46l.36 43l.37-27l.36 7l.36 8l.37-23l.36 17l.36-5l.37-2l.36-7l.36-7l.37 26l.36 10l.36-38l.37 0l.36 27l.36-15l.37 23l.36-17l.36 9l.37-17l.36-8l.37 14l.36 12l.36-7l.37-28l.36 42l.36-33l.37 12l.36 4l.36-13l.37 22l.36-6l.36-19l.37 11l.36 17l.36-18l.37 6l.36 18l.36-32l.37 16l.36 13l.36-27l.37 11l.36-12l.36 2l.37-4l.36-13l.36 38l.37 8l.36-30l.36 26l.37-23l.36-17l.36 24l.37 6l.36 14l.36-29l.37 24l.36-31l.36 22l.37-26l.36 41l.37-38l.36 25l.36 11l.37-20l.36-10l.36 20l.37 1l.36-17l.36 4l.37 28l.36-25l.36 7l.37-5l.36 14l.36-15l.37-10l.36 12l.36 5l.37-26l.36 27l.36-29l.37 39l.36-29l.36-14l.37 14l.36 5l.36 25l.37-28l.36 23l.36-35l.37 18l.36-8l.36 12l.37-15l.36 30l.36-11l.37-19l.36 30l.37-24l.36 14l.36-8l.37 23l.36-13l.36-2l.37-16l.36 14l.36 1l.37 6l.36-7l.36-13l.37 10l.36-5l.36 9l.37-8l.36-4l.36 23l.37-38l.36 23l.36-5l.37 10l.36 6l.36-9l.37 2l.36-24l.36 30l.37-28l.36 36l.36-32l.37 24l.36-4l.36 9l.37-9l.36-5l.36 0l.37 0l.36-14l.36 25l.37-16l.36-9l.37 3l.36 12l.36-18l.37 21l.36 9l.36 1l.37-12l.36-12l.36 16l.37-3l.36 2l.36-2l.37-9l.36 14l.36-15l.37-1l.36-9l.36 23l.37-9l.36 17l.36-42l.37 23l.36 20l.36-40l.37 22l.36 5l.36 10l.37-4l.36 8l.36 2l.37-7l.36-25l.36 15l.37-10l.36-10l.36 28l.37-12l.36 11l.37-9l.36 12l.36-8l.37-10l.36-7l.36 16l.37-17l.36 22l.36-19l.37 21l.36-3l.36-1l.37 14l.36-24l.36-9l.37 16l.36-14l.36 0l.37 26l.36-30l.36 15l.37 13l.36-16l.36 12l.37-7l.36 12l.36-25l.37 3l.36 20l.36 5l.37-30l.36 14l.36 22l.37-6l.36-31l.36 21l.37-4l.36-21l.37 6l.36 9l.36 2l.37 15l.36-28l.36-2l.37 33l.36-3l.36-22l.37-13l.36 24l.36-22l.37 5l.36 21l.36-1l.37 10l.36 0l.36-1l.37-9l.36 2l.36-10l.37 19l.36-9l.36-4l.37-23l.36 14l.36-7l.37 24l.36 2l.36-34l.37 0l.36 5l.36 11l.37 14l.36-26l.36 25l.37-1l.36-26l.36 20l.37 6l.36-21l.37-13l.36 20l.36 18l.37-7l.36-1l.36-21l.37 10l.36-9l.36 21l.37 12l.36-3l.36-8l.37 1l.36-16l.36 16l.37-8l.36 18l.36-10l.37 4l.36 3l.36-35l.37 37l.36-11l.36 14l.37-14l.36 12l.36-24l.37-10l.36 13l.36-4l.37 20l.36 5l.36-1l.37-14l.36-3l.36-6l.37-11l.36 13l.37-13l.36 38l.36 0l.37-28l.36 20l.36-9l.37 2l.36 9l.36-30l.37 30l.36-13l.36-5l.37 19l.36-16l.36-7l.37 6l.36 17l.36-28l.37 30l.36-22l.36 5l.37 4l.36 6l.36-10l.37-1l.36-16l.36 32l.37-1l.36-18l.36-8l.37 34l.36-15l.36-15l.37 20l.36 1l.36-30l.37 6l.36 29l.36-30l.37 31l.36-22l.37-10l.36-9l.36 32l.37 6l.36-24l.36 14l.37-9l.36 22l.36-19l.37-10l.36-10l.36 11l.37 22l.36 1l.36 4l.37-46l.36 21l.36-2l.37-11l.36 21l.36 1l.37 3l.36-22l.36 3l.37-1l.36 11l.36 3l.37 3l.36 15l.36-34l.37 17l.36-1l.36-12l.37 37l.36-38l.36 3l.37 12l.36-8l.37 22l.36-16l.36 3l.37 9l.36-8l.36-29l.37 8l.36 7l.36-8l.37 23l.36-12l.36 5l.37 12l.36-23l.36 2l.37 19l.36 8l.36-17l.37-16l.36 10l.36 28l.37-38l.36 36l.36-24l.37-12l.36 13l.36 23l.37-19l.36-13l.36 47l.37-38l.36 15l.36 4l.37-20l.36-3l.36-6l.37 25l.36 3l.36 1l.37-33l.36 3l.37 26l.36-14l.36-8l.37 4l.36 4l.36 0l.37 5l.36-6l.36 14l.37-31l.36 13l.36 24l.37-33l.36 5l.36 36l.37-42l.36 3l.36 23l.37-13l.36 15l.36-1l.37-1l.36-10l.36 14l.37-15l.36 3l.36 18l.37-23l.36 19l.36-21l.37-10l.36 26l.36-18l.37 4l.36 18l.36-21l.37-24l.36 44l.37-23l.36 33l.36-25l.37 12l.36-8l.36 3l.37-10l.36-10l.36 23l.37 5l.36-4l.36-13l.37 17l.36-16l.36 7l.37-9l.36 13l.36 6l.37-8l.36 0l.36-6l.37-12l.36 8l.36-8l.37 1l.36 1l.36 25l.37-10l.36-12l.36 19l.37-3l.36 2l.36-24l.37 2l.36 15l.36 4l.37-7l.36 14l.37-15l.36-7l.36 17l.37-16l.36 8l.36 7l.37-24l.36 8l.36 14l.37-12l.36 15l.36-17l.37 8l.36 14l.36-32l.37 34l.36 9l.36-42l.37 21l.36-9l.36 11l.37-25l.36 1l.36 13l.37-5l.36 6l.36 18l.37 4l.36 0l.36-32l.37 3l.36-2l.36-2l.37-2l.36 28l.36-24l.37 33l.36-15l.36-17l.37 25l.36-16l.37-1l.36-19l.36 19l.37 8l.36-19l.36 18l.37 7l.36-3l.36-8l.37-8l.36 7l.36 15l.37-8l.36-27l.36 4l.37 16l.36 14l.36 1l.37-7l.36 3l.36-4l.37 13l.36-36l.36 30l.37-9l.36 21l.36-13l.37-14l.36 9l.36 5l.37-43l.36 33l.36-22l.37 21l.36 6l.36-14l.37 19l.36-8l.37-14l.36 11l.36 18l.37-2l.36-6l.36-3l.37-19l.36 19l.36-4l.37 21l.36-24l.36 5l.37 8l.36 7l.36-33l.37 22l.36 8l.36-7l.37-11l.36-18l.36 8l.37 18l.36-6l.36 11l.37 3l.36-19l.36 9l.37-21l.36 3l.36 2l.37 15l.36 1l.36 7l.37-19l.36 11l.36-22l.37 0l.36 20l.36-9l.37 15l.36 7l.37-8l.36-20l.36 13l.37 8l.36-16l.36 16l.37-3l.36-28l.36 12l.37 12l.36 18l.36-22l.37 9l.36-3l.36-6l.37 18l.36-13l.36 1l.37-17l.36 14l.36 9l.37-22l.36 22l.36-17l.37 17l.36-23l.36 8l.37 23l.36-12l.36-2l.37 13l.36-2l.36 0l.37-28l.36 27l.36 4l.37-1l.36-10l.37-14l.36-1l.36 13l.37-29l.36 11l.36 17l.37-5l.36 9l.36-20l.37 2l.36-9l.36 21l.37 3l.36-14l.36 17l.37-4l.36-7l.36-9l.37 6l.36 14l.36 0l.37-6l.36 6l.36-23l.37 17l.36-3l.36 16l.37-20l.36 17l.36-4l.37-20l.36-1l.36 7l.37 20l.36-11l.36 10l.37-18l.36 14l.36 3l.37 14l.36-17l.37-33l.36 1l.36 5l.37 12l.36 3l.36 1l.37 33l.36-12l.36-21l.37 7l.36-3l.36-17l.37 23l.36 9l.36-4l.37-16l.36-10l.36 12l.37-6l.36 1l.36-29l.37 41l.36-29l.36-8l.37 32l.36-21l.36 22l.37-19l.36 9l.36 0l.37-21l.36-3l.36 41l.37-13l.36-3l.36-6l.37-2l.36-21l.37 17l.36 2l.36-27l.37 14l.36-6l.36-8l.37 7l.36 8l.36-17l.37 13l.36 10l.36-14l.37-15l.36 36l.36-17l.37 1l.36-22l.36 24l.37-18l.36 12l.36 3l.37-19l.36 14l.36-13l.37-10l.36-1l.36 29l.37-16l.36-21l.36 15l.37-16l.36 9l.36-4l.37 9l.36 1l.36 11l.37-15l.36 20l.37-6l.36 4l.36-10l.37 9l.36-7l.36-17l.37 15l.36-18l.36 26l.37-17l.36 3l.36 5l.37-31l.36 0l.36 2l.37-8l.36 15l.36-7l.37-2l.36-7l.36 4l.37 32l.36-16l.36 14l.37 0l.36-2l.36-22l.37-4l.36 29l.36-19l.37-2l.36 19l.36-10l.37-30l.36 35l.36-15l.37 36l.36-9l.36-24l.37-9l.36-15l.37 21l.36 12l.36-21l.37 30l.36-12l.36-14l.37 27l.36-40l.36 30l.37 7l.36 2l.36 2l.37-8l.36 12l.36-18l.37-8l.36 10l.36 1l.37-13l.36 0l.36-3l.37 10l.36 23l.36-10l.37-21l.36 28l.36-42l.37 35l.36-25l.36-7l.37 24l.36 4l.36-3l.37 4l.36-22l.36 24l.37-29l.36-3l.37 10l.36 0l.36-4l.37 10l.36-11l.36 30l.37-31l.36 7l.36 14l.37-25l.36 52l.36-41l.37 19l.36 5l.36-3l.37-34l.36-6l.36 34l.37-5l.36-6l.36 19l.37 3l.36-10l.36-12l.37 11l.36-14l.36-2l.37-6l.36 11l.36-9l.37 8l.36-5l.36 21l.37-8l.36-8l.36-4l.37 5l.36 13l.36 3l.37-1l.36-24l.37 26l.36-7l.36 2l.37-17l.36-1l.36 14l.37-7l.36-5l.36-18l.37 6l.36 12l.36-2l.37-12l.36 5l.36 15l.37-14l.36 13l.36 2l.37-12l.36 21l.36 8l.37-34l.36 9l.36-1l.37 18l.36-14l.36 15l.37 3l.36-2l.36-12l.37-4l.36 10l.36-10l.37-8l.36 23l.36-3l.37 8l.36-22l.37-10l.36 23l.36-25l.37 22l.36 7l.36-3l.37-10l.36-17l.36 12l.37 19l.36-23l.36 1l.37 21l.36 0l.36-21l.37 14l.36 3l.36-14l.37 4l.36 11l.36-24l.37 1l.36 21l.36-15l.37 28l.36 8l.36-17l.37-9l.36-10l.36-15l.37 13l.36 14l.36 8l.37-20l.36 4l.36-12l.37 13l.36 10l.36 3l.37-5l.36 3l.37-17l.36-10l.36 22l.37-10l.36 2l.36-7l.37-2l.36 23l.36 8l.37-12l.36-20l.36 3l.37 23l.36-28l.36 25l.37-3l.36 5l.36 12l.37 4l.36-26l.36 5l.37 1l.36 10l.36-32l.37 23l.36 4l.36-16l.37 11l.36 2l.36-2l.37-16l.36 28l.36-18l.37-5l.36 21l.36-39l.37 14l.36 22l.37-9l.36 6l.36-32l.37 17l.36 5l.36 13l.37-19l.36 5l.36-10l.37-7l.36 12l.36 20l.37-7l.36-14l.36 8l.37-6l.36 7l.36-23l.37 34l.36-9l.36 6l.37 4l.36-22l.36 21l.37-20l.36 8l.36 7l.37 0l.36-6l.36 9l.37-9l.36 12l.36-31l.37 1l.36 18l.36-4l.37 5l.36-19l.37 28l.36-25l.36 14l.37 9l.36-4l.36-8l.37-25l.36 27l.36 8l.37-15l.36-3l.36 17l.37-18l.36 27l.36-14l.37-15l.36 28l.36-4l.37-6l.36-5l.36-7l.37 11l.36 6l.36-2l.37-6l.36-16l.36 33l.37-16l.36-2l.36-13l.37 0l.36-1l.36-4l.37 27l.36-20l.36 7l.37-11l.36 21l.36-14l.37 17l.36-10l.37 19l.36-21l.36-1l.37-2l.36-10l.36 24l.37-2l.36-10l.36-22l.37 45l.36-26l.36 17l.37-35l.36 27l.36 10l.37-8l.36-10l.36-22l.37 34l.36-10l.36-31l.37 13l.36-2l.36 5l.37 34l.36-11l.36-9l.37 13l.36-6l.36-4l.37-21l.36 2l.36-2l.37 14l.36-9l.36 32l.37-27l.36 13l.37-8l.36-17l.36 21l.37 2l.36-11l.36-1l.37 9l.36-5l.36 10l.37-25l.36 33l.36-6l.37-15l.36 21l.36 7l.37-10l.36-3l.36-18l.37 24l.36-7l.36 11l.37-17l.36 2l.36 7l.37-14l.36 4l.36 1l.37-8l.36 0l.36 14l.37-13l.36-7l.36-3l.37 28l.36 3l.36-11l.37 4l.36-12l.36-6l.37 4l.36 26l.37-20l.36 14l.36-28l.37 38l.36-12l.36-23l.37 10l.36 13l.36-13l.37 1l.36 22l.36-18l.37-34l.36 15l.36-1l.37 3l.36 10l.36-9l.37 14l.36 7l.36-14l.37-10l.36 8l.36 13l.37-8l.36 6l.36-7l.37-7l.36 17l.36-11l.37 12l.36 2l.36-32l.37 6l.36 29l.36-19l.37 26l.36 9l.37-44l.36 31l.36 7l.37-13l.36 7l.36-20l.37-18l.36 38l.36-25l.37 9l.36-4l.36 7l.37-12l.36 1l.36 13l.37-21l.36 3l.36 17l.37-15l.36 13l.36-15l.37 6l.36-5l.36 17l.37-6l.36-7l.36 7l.37-14l.36 18l.36-1l.37-16l.36 12l.36 24l.37-25l.36-17l.36 4l.37 13l.36-16l.36 7l.37 3l.36-3l.37 21l.36-18l.36 39l.37-35l.36-17l.36 4l.37 18l.36 1l.36-8l.37 19l.36-26l.36 5l.37 14l.36 6l.36-17l.37-6l.36 8l.36-15l.37 11l.36-6l.36 13l.37-14l.36 34l.36-4l.37-14l.36 12l.36-2l.37-16l.36-2l.36 6l.37-6l.36-8l.36 23l.37 8l.36-32l.36 1l.37 37l.36-14l.37 0l.36-14l.36-8l.37-4l.36 16l.36-8l.37 1l.36-4l.36 0l.37 16l.36-9l.36-13l.37 34l.36 6l.36-15l.37-23l.36 28l.36 3l.37-28l.36 13l.36-9l.37 14l.36-23l.36 5l.37 24l.36-1l.36-20l.37-8l.36 2l.36 15l.37-1l.36-2l.36-8l.37-6l.36 14l.36-1l.37 2l.36 10l.37-13l.36 23l.36-18l.37-6l.36-11l.36 29l.37 2l.36-28l.36 9l.37 30l.36-16l.36 6l.37-3l.36-14l.36 15l.37-14l.36 22l.36-30l.37 12l.36 3l.36 7l.37-34l.36 4l.36 11l.37-7l.36 33l.36-3l.37-34l.36 20l.36 3l.37 7l.36 6l.36-14l.37 4l.36-13l.36-2l.37 25l.36 4l.36-32l.37-3l.36 27l.37-1l.36-17l.36 20l.37-21l.36 4l.36-17l.37 1l.36 23l.36 26l.37-51l.36 27l.36-12l.37 4l.36 6l.36-19l.37 26l.36 10l.36-8l.37-17l.36-18l.36 6l.37 14l.36 1l.36 8l.37 10l.36-25l.36 25l.37-3l.36-18l.36-5l.37 18l.36 18l.36-38l.37 19l.36-10l.36 8l.37-3l.36-13l.37 2l.36 4l.36 2l.37 10l.36 19l.36-36l.37 7l.36 12l.36-11l.37 17l.36-21l.36 20l.37-26l.36 21l.36 12l.37-13l.36-16l.36-6l.37 42l.36-41l.36 0l.37 8l.36-10l.36 17l.37 8l.36 6l.36-20l.37-5l.36 3l.36-10l.37 37l.36-26l.36 9l.37 11l.36-16l.36-8l.37 18l.36-18l.36 23l.37-37l.36 26l.37-8l.36 21l.36-10l.37-21l.36-1l.36 27l.37-26l.36 18l.36 2l.37-7l.36-7l.36-13l.37 48l.36-40l.36 4l.37 25l.36-13l.36 18l.37-35l.36 14l.36-16l.37 31l.36 0l.36-29l.37 12l.36 29l.36-15l.37-18l.36 4l.36-11l.37 21l.36-4l.36-2l.37-3l.36-16l.36 4l.37 3l.36 9l.37 6l.36-9l.36 15l.37-17l.36 2l.36-10l.37 6l.36 40l.36-23l.37-4l.36-14l.36 27l.37 3l.36-22l.36-3l.37 0l.36 32l.36-14l.37-22l.36 9l.36 22l.37-14l.36 10l.36-14l.37 0l.36 14l.36 6l.37-7l.36-16l.36 11l.37-18l.36 22l.36 8l.37-12l.36 2l.36-27l.37 13l.36 11l.36-17l.37 18l.36-19l.37 7l.36 18l.36 4l.37-28l.36 13l.36 1l.37-21l.36 4l.36-7l.37 8l.36 12l.36-11l.37 1l.36 17l.36 3l.37-1l.36 0l.36-11l.37-6l.36 8l.36-15l.37-4l.36 1l.36 27l.37-27l.36-5l.36-13l.37 27l.36 17l.36-23l.37-5l.36 6l.36-3l.37-18l.36 12l.36-10l.37 40l.36-15l.37-11l.36-17l.36 9l.37-3l.36 3l.36-9l.37-3l.36 22l.36-8l.37-10l.36 9l.36-4l.37 18l.36-13l.36-13l.37 13l.36-33l.36 36l.37-12l.36-16l.36 10l.37-4l.36-15l.36 27l.37-10l.36-3l.36-9l.37 17l.36 7l.36-1l.37-26l.36 18l.36-19l.37 3l.36 1l.36-3l.37-11l.36 6l.37 1l.36-4l.36 36l.37-44l.36 15l.36-3l.37-10l.36 31l.36-35l.37-5l.36 1l.36 7l.37-6l.36 28l.36-22l.37 11l.36-3l.36 4l.37 1l.36 1l.36 6l.37-50l.36 50l.36-3l.37-29l.36-14l.36 35l.37 11l.36-21l.36 19l.37-26l.36 29l.36-28l.37 3l.36-2l.36 5l.37 4l.36 4l.36-14l.37-12l.36 7l.37-6l.36 2l.36 21l.37 4l.36 11l.36-39l.37 16l.36 11l.36-13l.37 7l.36-15l.36 15l.37 12l.36-25l.36 8l.37 3l.36-7l.36 9l.37 18l.36 0l.36-27l.37 28l.36-18l.36-12l.37 21l.36-4l.36 1l.37-17l.36 7l.36-13l.37 0l.36-8l.36 37l.37-34l.36 5l.36 13l.37 7l.36-3l.37 1l.36-28l.36 30l.37-17l.36 25l.36-1l.37-23l.36 14l.36 16l.37-10l.36-22l.36-7l.37 16l.36-20l.36 9l.37 8l.36 16l.36-29l.37 29l.36-15l.36-14l.37 0l.36 13l.36 15l.37-12l.36 25l.36-44l.37 41l.36-36l.36 10l.37 22l.36-12l.36-3l.37 15l.36-37l.36 13l.37 0l.36 16l.36-17l.37 8l.36-19l.37 20l.36-17l.36 27l.37-7l.36 5l.36-21l.37 9l.36 8l.36-25l.37 18l.36-21l.36 15l.37 3l.36-15l.36 25l.37-12l.36 28l.36 3l.37-33l.36 3l.36-12l.37 41l.36-43l.36 40l.37-9l.36-10l.36 1l.37 4l.36-23l.36 32l.37-24l.36 20l.36-2l.37-20l.36 18l.36-8l.37-1l.36-24l.37 36l.36-27l.36-5l.37 22l.36-17l.36 29l.37-5l.36-16l.36 27l.37-20l.36-6l.36 18l.37-26l.36 4l.36 22l.37 9l.36-15l.36-11l.37-11l.36 33l.36-8l.37-25l.36-3l.36 26l.37-8l.36 9l.36-29l.37 15l.36 5l.36 7l.37-14l.36 26l.36-32l.37 36l.36-7l.36 2l.37-29l.36 8l.36-13l.37 11l.36-10l.37 26l.36 0l.36 9l.37-11l.36-37l.36 36l.37-5l.36-4l.36 19l.37-31l.36 21l.36-16l.37-3l.36-16l.36 29l.37 10l.36-17l.36-15l.37 30l.36 5l.36-14l.37-17l.36 13l.36 6l.37-12l.36 19l.36-12l.37-15l.36 5l.36 27l.37-24l.36 16l.36 9l.37-16l.36-23l.36 2l.37 19l.36-8l.37-3l.36 19l.36-1l.37-4l.36 12l.36-20l.37 27l.36-38l.36 8l.37 28l.36-5l.36-20l.37 5l.36-13l.36 32l.37-14l.36 3l.36-15l.37-1l.36 13l.36-15l.37 18l.36 1l.36-19l.37-5l.36 14l.36-10l.37 15l.36 9l.36 13l.37-21l.36 11l.36-12l.37 8l.36-29l.36-5l.37 23l.36-25l.37 39l.36-33l.36 11l.37 4l.36 19l.36-13l.37-20l.36 23l.36 4l.37-30l.36 20l.36 16l.37-33l.36 16l.36-6l.37-8l.36 15l.36 4l.37-13l.36 19l.36-3l.37-19l.36-3l.36 18l.37-13l.36 16l.36 7l.37 4l.36-33l.36 10l.37 24l.36-29l.36 22l.37-5l.36-11l.36 16l.37-10l.36-14l.36 17l.37-14l.36 5l.37-14l.36 24l.36 12l.37-18l.36 1l.36 15l.37 0l.36-7l.36 4l.37-8l.36-7l.36 7l.37 12l.36-2l.36-21l.37 21l.36-17l.36 23l.37-36l.36 5l.36 28l.37-15l.36 13l.36-25l.37-7l.36 26l.36-12l.37 10l.36-27l.36 10l.37 13l.36-7l.36 1l.37-12l.36 13l.36 14l.37 1l.36-36l.37 31l.36-19l.36 10l.37 23l.36-18l.36 8l.37-15l.36-7l.36 2l.37 3l.36-16l.36 40l.37-33l.36-1l.36 3l.37 31l.36-17l.36-7l.37 14l.36-8l.36-18l.37 1l.36 29l.36-1l.37-5l.36-18l.36 16l.37-7l.36 17l.36-32l.37 5l.36 3l.36 8l.37 11l.36 14l.36-49l.37 48l.36-23l.36-3l.37-8l.36 22l.37-9l.36-1l.36-26l.37 12l.36 19l.36-16l.37 3l.36 29l.36-30l.37 27l.36-27l.36 1l.37 6l.36 4l.36-12l.37 0l.36 16l.36 3l.37-2l.36-17l.36 0l.37 10l.36 10l.36 12l.37-35l.36 28l.36-10l.37 7l.36-4l.36 13l.37-31l.36-6l.36 31l.37-12l.36-5l.36 11l.37-25l.36 14l.37-14l.36 8l.36 19l.37-6l.36-2l.36-13l.37 1l.36 20l.36-20l.37 33l.36-35l.36-15l.37 4l.36 25l.36-13l.37-1l.36-10l.36 20l.37 10l.36 1l.36-31l.37 36l.36-35l.36 34l.37 1l.36-15l.36-13l.37 14l.36-1l.36-8l.37 33l.36-38l.36 13l.37 17l.36-5l.36-18l.37-8l.36 36l.36-25l.37-5l.36 9l.37 4l.36 5l.36-5l.37-10l.36 5l.36 7l.37 18l.36-6l.36-8l.37-22l.36-2l.36-1l.37 28l.36-16l.36-14l.37 7l.36 13l.36 1l.37 3l.36-3l.36 3l.37 1l.36-2l.36 6l.37 5l.36-12l.36 1l.37 5l.36 0l.36 4l.37 1l.36-6l.36-18l.37 22l.36-13l.36 4l.37-1l.36-15l.37-6l.36 14l.36 16l.37 2l.36-26l.36-4l.37 6l.36 12l.36-20l.37 15l.36 1l.36-27l.37 39l.36 11l.36 0l.37-12l.36 11l.36-23l.37-6l.36 23l.36-14l.37 3l.36 20l.36-34l.37 21l.36-12l.36 18l.37-12l.36-7l.36-21l.37 26l.36-22l.36-5l.37 24l.36-22l.36 26l.37-4l.36 8l.37 5l.36-15l.36-6l.37-3l.36 1l.36 6l.37-5l.36 17l.36-7l.37-11l.36 25l.36-6l.37-25l.36 28l.36 1l.37-18l.36-19l.36 2l.37 11l.36 20l.36-20l.37-5l.36 19l.36 12l.37-21l.36 20l.36-24l.37-3l.36 13l.36 8l.37-30l.36 3l.36 21l.37-14l.36 2l.36 13l.37-16l.36 7l.36-7l.37-9l.36 7l.37 30l.36-32l.36 25l.37-6l.36-5l.36 3l.37-18l.36 27l.36-25l.37 16l.36 7l.36 1l.37-13l.36 16l.36-21l.37 15l.36 8l.36-5l.37-26l.36 27l.36 12l.37-32l.36 23l.36-33l.37 20l.36 0l.36 6l.37-3l.36-19l.36 39l.37-11l.36-22l.36-1l.37-12l.36 36l.36-8l.37-17l.36 21l.37 4l.36-18l.36 9l.37-23l.36 10l.36 6l.37 0l.36 7l.36-15l.37 8l.36 19l.36 1l.37-4l.36-19l.36 14l.37 3l.36-20l.36 7l.37 26l.36-19l.36-15l.37-4l.36 15l.36 1l.37 11l.36-23l.36 9l.37 17l.36 1l.36-5l.37-28l.36 3l.36 8l.37 13l.36-1l.36-14l.37 15l.36 16l.36-15l.37-25l.36 21l.37 9l.36-17l.36 4l.37 3l.36-24l.36 3l.37 3l.36-3l.36 4l.37 9l.36 12l.36-25l.37 18l.36 4l.36-33l.37 11l.36 26l.36-17l.37-9l.36 30l.36-7l.37-25l.36 7l.36 7l.37-19l.36 15l.36-11l.37 5l.36 1l.36 30l.37-30l.36 20l.36-25l.37-11l.36 40l.36-1l.37 6l.36-15l.37 1l.36 20l.36-33l.37-9l.36 13l.36-13l.37 36l.36-31l.36-1l.37 26l.36-29l.36 30l.37-5l.36-1l.36-2l.37 4l.36-24l.36 26l.37-5l.36 11l.36-16l.37-6l.36-6l.36 4l.37-18l.36 38l.36-20l.37 12l.36-30l.36-10l.37 28l.36 10l.36-5l.37-29l.36 8l.36-6l.37 4l.36 0l.36-20l.37 28l.36-1l.37 10l.36-12l.36-3l.37 5l.36-3l.36-30l.37 14l.36 15l.36 6l.37 1l.36-18l.36-4l.37-17l.36-5l.36 9l.37 16l.36-18l.36 31l.37-6l.36-1l.36 9l.37-37l.36 14l.36-22l.37 34l.36-13l.36-16l.37 14l.36 5l.36-23l.37 5l.36-14l.36 35l.37-31l.36 17l.36-4l.37 3l.36-4l.37-10l.36 31l.36-31l.37 13l.36-32l.36 39l.37-30l.36 9l.36 12l.37-29l.36 11l.36-10l.37 18l.36-9l.36-6l.37 6l.36-7l.36-5l.37 23l.36-27l.36 3l.37 8l.36 14l.36-22l.37 13l.36-7l.36-14l.37 4l.36 31l.36-19l.37-18l.36 20l.36 0l.37-9l.36-4l.36 19l.37-16l.36-10l.37-2l.36 17l.36-16l.37 4l.36 30l.36-21l.37 5l.36-2l.36-12l.37 10l.36 10l.36 6l.37-8l.36-13l.36-9l.37 33l.36-24l.36 6l.37-5l.36 14l.36-25l.37 8l.36 5l.36 16l.37-25l.36 23l.36 7l.37-21l.36 3l.36-7l.37 13l.36-1l.36 5l.37-19l.36 17l.36-3l.37 0l.36-5l.36 21l.37-20l.36 22l.37 1l.36-17l.36-14l.37 10l.36 8l.36-11l.37 2l.36-8l.36 17l.37-7l.36 16l.36 0l.37 2l.36-32l.36 25l.37-11l.36-14l.36 18l.37-8l.36-21l.36 29l.37 2l.36 5l.36-15l.37 11l.36-22l.36 18l.37 1l.36-10l.36 9l.37-7l.36-1l.36-1l.37-7l.36 26l.36-13l.37-21l.36 28l.37-14l.36-6l.36 11l.37-4l.36 27l.36-45l.37 15l.36 10l.36 13l.37-24l.36-16l.36 16l.37 10l.36-18l.36 14l.37 2l.36 11l.36-6l.37 5l.36-26l.36 4l.37 32l.36-26l.36 14l.37-4l.36-3l.36 5l.37-4l.36-31l.36 24l.37-18l.36 0l.36 42l.37-9l.36-2l.36 9l.37-22l.36 4l.36-22l.37 24l.36 7l.37-23l.36 15l.36 13l.37-3l.36 6l.36-16l.37-18l.36 4l.36 25l.37-5l.36-16l.36-11l.37 9l.36 6l.36 9l.37 7l.36-16l.36-5l.37 2l.36 14l.36-7l.37 20l.36-36l.36 23l.37-11l.36-8l.36 17l.37-18l.36 10l.36-18l.37 34l.36-28l.36 5l.37 25l.36-12l.36 5l.37 11l.36-11l.37-3l.36-12l.36 31l.37-40l.36 12l.36-6l.37-6l.36 6l.36-7l.37 3l.36 16l.36-10l.37-6l.36 10l.36-3l.37-12l.36 41l.36-48l.37 13l.36 8l.36 6l.37-14l.36 24l.36-2l.37-22l.36 13l.36 16l.37-8l.36-15l.36 0l.37 4l.36 4l.36-11l.37 14l.36-23l.36 10l.37-4l.36-2l.36 10l.37 11l.36-21l.37 20l.36-17l.36 8l.37-3l.36 23l.36-32l.37 25l.36-16l.36 7l.37 5l.36 2l.36-15l.37 18l.36-20l.36 16l.37-24l.36-7l.36 29l.37-15l.36 9l.36-16l.37 22l.36-4l.36-9l.37 18l.36-1l.36 12l.37-38l.36 27l.36-17l.37-8l.36-10l.36 30l.37 11l.36-10l.36-24l.37 11l.36-2l.37-5l.36-7l.36 4l.37 13l.36 0l.36 0l.37-15l.36 7l.36 17l.37 3l.36 1l.36 3l.37-26l.36 10l.36 10l.37-7l.36 1l.36-18l.37 17l.36 8l.36 0l.37 17l.36-27l.36 21l.37-28l.36-1l.36 0l.37 1l.36 18l.36 7l.37 7l.36-23l.36-21l.37 5l.36 14l.36-17l.37 9l.36-5l.37 1l.36 18l.36-9l.37-13l.36 0l.36 12l.37 13l.36-29l.36 18l.37 10l.36-19l.36 13l.37 5l.36-7l.36 12l.37-29l.36 11l.36 26l.37-8l.36-1l.36-23l.37 14l.36 20l.36-5l.37-26l.36-1l.36 8l.37 13l.36-19l.36 18l.37-20l.36 0l.36-1l.37-2l.36 13l.36-6l.37-5l.36 15l.36-3l.37 10l.36 1l.37-34l.36 15l.36-14l.37 28l.36-27l.36 20l.37 2l.36-5l.36 16l.37-5l.36 3l.36-20l.37 8l.36-2l.36 11l.37-5l.36-14l.36 6l.37 11l.36-18l.36 13l.37-17l.36 26l.36-16l.37-2l.36 0l.36-4l.37-4l.36 8l.36 18l.37 5l.36-3l.36-11l.37 13l.36 5l.36-34l.37 37l.36-30l.37-11l.36 11l.36 6l.37 5l.36-22l.36 5l.37 17l.36 18l.36-33l.37 29l.36-43l.36 16l.37 24l.36-4l.36 9l.37-43l.36 47l.36-15l.37-15l.36-2l.36 26l.37-23l.36 0l.36 20l.37-13l.36 17l.36-24l.37 17l.36 9l.36-26l.37-18l.36 0l.36 19l.37-4l.36-1l.36 3l.37-3l.36 1l.36-1l.37 31l.36-39l.37 22l.36-1l.36 20l.37-36l.36 20l.36-2l.37-13l.36-3l.36 23l.37-13l.36-9l.36 8l.37 9l.36-2l.36-3l.37 10l.36-19l.36-1l.37 22l.36 3l.36 2l.37-15l.36 4l.36-25l.37-1l.36 27l.36 9l.37-1l.36-24l.36 1l.37 31l.36-15l.36-16l.37 0l.36-1l.36 12l.37 13l.36 2l.37-1l.36-17l.36-15l.37 6l.36 2l.36-1l.37 15l.36-2l.36-2l.37 6l.36-21l.36 30l.37-9l.36-14l.36 16l.37-19l.36 17l.36-13l.37 11l.36 5l.36-7l.37-13l.36 10l.36-17l.37 23l.36 4l.36-23l.37 16l.36-9l.36 10l.37-19l.36 12l.36 0l.37-22l.36 40l.36-19l.37 13l.36 12l.36-10l.37-26l.36 40l.37-16l.36-13l.36 16l.37-15l.36-11l.36 19l.37-21l.36 16l.36-9l.37-12l.36 32l.36-9l.37 0l.36-11l.36 27l.37-25l.36-19l.36 14l.37 23l.36-6l.36 1l.37-9l.36 3l.36-7l.37 30l.36-15l.36-23l.37 23l.36 1l.36-16l.37-15l.36-6l.36 39l.37 0l.36 0l.36 9l.37-18l.36 0l.37-12l.36 27l.36-13l.37-18l.36 2l.36-2l.37 8l.36-11l.36 26l.37-15l.36 28l.36-23l.37-10l.36 10l.36 15l.37 3l.36-39l.36 26l.37-2l.36 15l.36-7l.37-5l.36-11l.36 10l.37-37l.36 40l.36-41l.37-10l.36 16l.36 23l.37 1l.36-40l.36 10l.37 26l.36-19l.36 0l.37 3l.36-20l.37 26l.36-29l.36 11l.37-17l.36-4l.36 28l.37-23l.36-3l.36 5l.37-9l.36 14l.36 1l.37-4l.36-3l.36-1l.37-5l.36 15l.36-6l.37-19l.36 10l.36-2l.37-19l.36 40l.36-9l.37-6l.36-22l.36 20l.37-3l.36-19l.36 0l.37-1l.36 26l.36-26l.37 23l.36-30l.36-2l.37 8l.36 3l.36-25l.37 26l.36 0l.37 11l.36-20l.36 21l.37-21l.36-19l.36 13l.37 0l.36 18l.36-4l.37-24l.36 5l.36 13l.37 2l.36-11l.36-14l.37 1l.36 33l.36-33l.37 2l.36 2l.36 15l.37-8l.36-5l.36-4l.37 7l.36-5l.36 27l.37 7l.36-20l.36-6l.37 17l.36-27l.36 6l.37 23l.36 0l.36-9l.37 9l.36-10l.37 0l.36-15l.36 27l.37-27l.36-5l.36 31l.37-13l.36-25l.36 16l.37-10l.36 10l.36 1l.37 32l.36-18l.36-22l.37 14l.36 5l.36-24l.37 10l.36 23l.36-9l.37 11l.36-12l.36-4l.37 19l.36-11l.36-1l.37-7l.36 18l.36-23l.37 19l.36 1l.36-16l.37 15l.36-35l.36 29l.37-7l.36-19l.36 12l.37 17l.36-10l.37 6l.36 14l.36-12l.37-23l.36 27l.36-17l.37 20l.36-21l.36 10l.37-3l.36 11l.36-16l.37-1l.36-3l.36 14l.37-19l.36 7l.36-9l.37-5l.36 14l.36 9l.37-2l.36-16l.36 16l.37 15l.36-8l.36-12l.37 14l.36-19l.36 38l.37-33l.36 16l.36-2l.37-23l.36 36l.36-13l.37-11l.36 21l.37-2l.36-1l.36-23l.37-10l.36 32l.36-6l.37 0l.36-20l.36 9l.37 0l.36 0l.36-1l.37 2l.36 3l.36-18l.37 6l.36-1l.36 21l.37-19l.36-6l.36 22l.37-10l.36-15l.36 14l.37 14l.36 0l.36-22l.37 1l.36 0l.36 43l.37-8l.36-14l.36 8l.37 8l.36-19l.36-19l.37 12l.36 16l.36 5l.37-25l.36 0l.37 27l.36-24l.36 26l.37-26l.36-2l.36 7l.37-6l.36 9l.36 7l.37-5l.36-15l.36 20l.37-12l.36 13l.36 1l.37-30l.36 9l.36 10l.37-6l.36-6l.36 10l.37 4l.36-22l.36 2l.37 10l.36-4l.36 17l.37 6l.36-24l.36 23l.37 7l.36-23l.36-9l.37 6l.36-9l.36 28l.37-20l.36 1l.37 28l.36-39l.36 27l.37-25l.36 13l.36 15l.37-21l.36 24l.36-21l.37 14l.36 8l.36-25l.37-8l.36 20l.36-10l.37 13l.36-21l.36 20l.37 2l.36-13l.36 0l.37 1l.36-4l.36 19l.37-22l.36 17l.36-5l.37-7l.36 13l.36 6l.37-10l.36 10l.36-13l.37 10l.36 21l.36-39l.37 14l.36 12l.37-12l.36 17l.36-4l.37-22l.36-1l.36 20l.37-26l.36-5l.36 4l.37 20l.36-20l.36 9l.37-11l.36 31l.36 0l.37-28l.36 5l.36 19l.37-1l.36-16l.36-4l.37 3l.36-4l.36-7l.37 17l.36 8l.36-20l.37-5l.36-5l.36 30l.37-14l.36-4l.36 18l.37 1l.36-18l.36 20l.37 4l.36-35l.36 42l.37-41l.36 22l.37 8l.36-14l.36-12l.37 2l.36 4l.36 14l.37 13l.36 4l.36-18l.37-21l.36 27l.36 1l.37-11l.36-9l.36 0l.37-13l.36 37l.36-1l.37-24l.36-1l.36 12l.37-15l.36 30l.36-3l.37 2l.36-27l.36 17l.37 5l.36-18l.36 4l.37-10l.36 23l.36-14l.37 11l.36-9l.36-11l.37 24l.36-13l.37 4l.36-1l.36-20l.37 18l.36 21l.36-12l.37-24l.36 36l.36-4l.37-14l.36-8l.36-4l.37 10l.36 26l.36-33l.37 16l.36 12l.36-42l.37-1l.36 24l.36 13l.37-13l.36-10l.36 26l.37-26l.36-4l.36 19l.37-6l.36 19l.36-15l.37-16l.36 8l.36 15l.37-4l.36 0l.36-17l.37 24l.36-34l.36 27l.37 1l.36-3l.37-9l.36-6l.36 33l.37-20l.36 14l.36-23l.37-3l.36 25l.36-32l.37 23l.36-21l.36 5l.37 22l.36-23l.36-7l.37-2l.36 14l.36-3l.37 6l.36-15l.36 31l.37-24l.36 27l.36-32l.37 28l.36-17l.36 20l.37-7l.36-4l.36 7l.37 3l.36-23l.36 17l.37 14l.36-17l.36-17l.37 4l.36-7l.37-9l.36 38l.36-28l.37 0l.36 11l.36-4l.37 2l.36 7l.36 0l.37-4l.36-3l.36-1l.37-2l.36-12l.36 5l.37 13l.36 0l.36 15l.37-27l.36 9l.36-20l.37-7l.36 17l.36 17l.37 11l.36-11l.36-15l.37 23l.36 13l.36-11l.37-12l.36 6l.36-10l.37 14l.36-20l.36 2l.37-1l.36 19l.36-5l.37 8l.36-11l.37 7l.36-20l.36 6l.37 9l.36-5l.36 14l.37-4l.36-2l.36-19l.37 24l.36-18l.36 27l.37-26l.36 0l.36 2l.37-10l.36 32l.36-27l.37 28l.36-29l.36 7l.37 14l.36-18l.36 20l.37-2l.36-8l.36-4l.37 2l.36 12l.36-1l.37 5l.36-5l.36-16l.37-5l.36 17l.36-16l.37-3l.36 29l.37-18l.36-13l.36 19l.37 3l.36 2l.36-4l.37 1l.36-35l.36 30l.37 5l.36-17l.36-5l.37 11l.36-16l.36 34l.37-10l.36-2l.36 13l.37-27l.36 7l.36 3l.37-12l.36 30l.36-7l.37-11l.36 9l.36 7l.37-27l.36 6l.36 17l.37-27l.36-4l.36-2l.37 29l.36-9l.36-11l.37 4l.36 15l.37-4l.36 12l.36 2l.37-6l.36 3l.36-24l.37 14l.36-5l.36-9l.37 17l.36-11l.36 4l.37-17l.36 12l.36-8l.37-1l.36 35l.36-24l.37 14l.36-24l.36 0l.37 3l.36-7l.36 5l.37 3l.36-2l.36 20l.37 0l.36-10l.36 2l.37 7l.36-24l.36 6l.37 20l.36-7l.36-18l.37 22l.36 4l.36-8l.37 7l.36-10l.37 12l.36-23l.36-1l.37 4l.36 5l.36-6l.37 28l.36-12l.36-21l.37 19l.36-16l.36 17l.37-10l.36 26l.36-9l.37-5l.36 10l.36-3l.37-1l.36-5l.36-11l.37 8l.36 8l.36-19l.37-8l.36 5l.36-6l.37 20l.36 2l.36 16l.37-10l.36-2l.36-26l.37 15l.36-13l.36 10l.37-10l.36 5l.37 9l.36-1l.36-2l.37-3l.36-6l.36 17l.37-16l.36 17l.36 8l.37 1l.36-32l.36 36l.37-19l.36-15l.36 21l.37-2l.36 14l.36-20l.37 18l.36-19l.36 9l.37-16l.36 5l.36 17l.37-16l.36 20l.36-30l.37 16l.36-9l.36 21l.37-12l.36-16l.36 14l.37-12l.36 5l.36 14l.37-24l.36-1l.36 22l.37 16l.36-22l.37-14l.36 16l.36 13l.37-14l.36 12l.36 11l.37-13l.36-19l.36-8l.37 13l.36 27l.36-22l.37-2l.36 14l.36-19l.37-6l.36 30l.36-32l.37 36l.36-6l.36-16l.37 12l.36-1l.36-1l.37-13l.36 4l.36-10l.37-10l.36 27l.36 2l.37-16l.36 13l.36-23l.37 11l.36 10l.36-19l.37 34l.36-30l.37 27l.36-21l.36 17l.37-3l.36 1l.36 4l.37 2l.36-31l.36 7l.37 34l.36-42l.36 17l.37 13l.36-23l.36 7l.37 15l.36-28l.36 5l.37 11l.36 12l.36 4l.37 2l.36-13l.36 2l.37 9l.36-2l.36-2l.37-31l.36 4l.36 26l.37 9l.36-3l.36-21l.37 19l.36-1l.36 6l.37-12l.36 17l.36-13l.37 19l.36 7l.37-23l.36 8l.36-30l.37 37l.36-25l.36 23l.37-9l.36 2l.36 3l.37 10l.36-10l.36 1l.37-16l.36-18l.36 42l.37-13l.36 13l.36-12l.37-8l.36 22l.36-23l.37 22l.36-21l.36-9l.37 2l.36 10l.36 11l.37-9l.36-4l.36 9l.37 6l.36 0l.36-15l.37 30l.36-19l.36 16l.37 5l.36-10l.37-7l.36 11l.36 7l.37 5l.36-22l.36 5l.37 14l.36-20l.36 12l.37 0l.36 16l.36-16l.37-12l.36 15l.36-14l.37 9l.36-19l.36 30l.37-12l.36-20l.36-1l.37 16l.36-19l.36 28l.37-7l.36 2l.36 7l.37-11l.36 15l.36-9l.37-2l.36 14l.36 5l.37-28l.36 14l.36 25l.37-40l.36 5l.37 11l.36 13l.36-18l.37-4l.36-1l.36 25l.37-20l.36 24l.36-34l.37 12l.36-1l.36 22l.37 4l.36-13l.36 7l.37 5l.36-6l.36-4l.37-17l.36 15l.36 0l.37 16l.36-2l.36-42l.37 7l.36 37l.36 2l.37-15l.36 6l.36-19l.37 7l.36-3l.36 6l.37-13l.36 27l.36 7l.37-15l.36 3l.36-21l.37 28l.36 6l.37-24l.36 17l.36 8l.37-14l.36 2l.36-18l.37 14l.36 8l.36 25l.37-30l.36 8l.36-20l.37 19l.36 3l.36 16l.37-32l.36 15l.36-6l.37 18l.36-10l.36-24l.37 7l.36 31l.36-4l.37 10l.36-5l.36-22l.37 11l.36 23l.36-11l.37-30l.36 29l.36-3l.37-1l.36 2l.36-4l.37 3l.36-2"/>
<polygon points="362.0,1077.8 385.7,1118.9 338.3,1118.9" fill="#0000ff"/>
<polygon points="571.1,939.2 594.8,980.3 547.4,980.3" fill="#0000ff"/>
<polygon points="779.1,781.8 802.8,822.8 755.4,822.8" fill="#0000ff"/>
<polygon points="987.5,778.3 1011.2,819.4 963.8,819.4" fill="#0000ff"/>
<polygon points="1196.5,661.0 1220.2,702.1 1172.8,702.1" fill="#0000ff"/>
<polygon points="1405.0,619.9 1428.7,660.9 1381.3,660.9" fill="#0000ff"/>
<polygon points="1613.8,544.0 1637.5,585.1 1590.1,585.1" fill="#0000ff"/>
<polygon points="1822.5,486.8 1846.2,527.9 1798.8,527.9" fill="#0000ff"/>
<polygon points="2031.0,452.0 2054.7,493.0 2007.3,493.0" fill="#0000ff"/>
</g>
<g>
<path class="ln" stroke="#ff00ff" d="M362.00,1097.0l.36-3l.37 4l.36 3l.36-5l.37 7l.36-5l.36-3l.37 14l.36-5l.36-7l.37 1l.36 8l.36-5l.37 4l.36-4l.36 3l.37-7l.36 7l.36-8l.37-6l.36 20l.37-25l.36 21l.36-20l.37 0l.36 22l.36-21l.37 35l.36-2l.36-40l.37 15l.36 18l.36-21l.37-14l.36-2l.36 29l.37 14l.36-16l.36-19l.37 25l.36-22l.36 33l.37-3l.36-48l.36 50l.37-12l.36 2l.36 12l.37-44l.36 51l.36-28l.37-7l.36 35l.36-29l.37 12l.36 4l.36-29l.37-9l.36 4l.37 15l.36 23l.36-24l.37 22l.36-29l.36-7l.37 39l.36-24l.36-1l.37 15l.36-36l.36 13l.37 6l.36 7l.36-6l.37-12l.36 11l.36 39l.37-22l.36 10l.36-7l.37-15l.36 30l.36-16l.37-19l.36-8l.36 7l.37 27l.36-30l.36 7l.37 10l.36-19l.36 8l.37 24l.36-4l.36-9l.37 18l.36-48l.36 48l.37-24l.36-12l.37-15l.36 33l.36 19l.37-40l.36 34l.36-35l.37-11l.36 19l.36-15l.37 18l.36-6l.36 7l.37 29l.36-28l.36 5l.37 7l.36 10l.36-32l.37 25l.36-19l.36 0l.37-23l.36 32l.36-30l.37 29l.36-2l.36 0l.37 11l.36-21l.36-4l.37 8l.36-16l.36 6l.37 10l.36 29l.36-8l.37-3l.36 14l.37-33l.36 20l.36-18l.37-10l.36 1l.36-6l.37 23l.36-19l.36 34l.37-7l.36-44l.36 37l.37 1l.36-16l.36-5l.37 13l.36-11l.36 25l.37 4l.36-27l.36 32l.37-8l.36-23l.36 7l.37-15l.36 16l.36 26l.37-31l.36 26l.36-20l.37 14l.36-32l.36 47l.37-38l.36 20l.36 8l.37-11l.36-5l.37-26l.36 57l.36-20l.37-22l.36-14l.36 1l.37 44l.36-15l.36-25l.37 21l.36 1l.36 29l.37-27l.36-7l.36-10l.37 4l.36 29l.36-6l.37-22l.36 22l.36-6l.37 5l.36-25l.36 15l.37-22l.36-2l.36 25l.37-2l.36 4l.36-26l.37 0l.36 6l.36 27l.37-18l.36 23l.36 0l.37-25l.36 6l.36 17l.37-36l.36 31l.37-40l.36 26l.36-19l.37 13l.36 23l.36 4l.37-2l.36-29l.36-24l.37 46l.36-23l.36 42l.37-38l.36-9l.36 26l.37-36l.36 15l.36-1l.37-13l.36 3l.36 25l.37-22l.36 11l.36-3l.37-16l.36 14l.36 14l.37-21l.36 2l.36-5l.37 32l.36-1l.36-22l.37-21l.36 25l.36-10l.37-7l.36 19l.37 16l.36-33l.36 38l.37-45l.36 36l.36 19l.37-16l.36-21l.36-1l.37 0l.36 14l.36 10l.37-21l.36-13l.36 30l.37-18l.36-7l.36 27l.37-33l.36-8l.36 9l.37-4l.36 32l.36-27l.37 1l.36 19l.36 7l.37-28l.36 23l.36-15l.37-19l.36 30l.36-35l.37 27l.36-30l.36 12l.37-1l.36-5l.36 32l.37-17l.36 23l.37-24l.36 5l.36 10l.37-23l.36 16l.36-7l.37-4l.36-2l.36 25l.37-37l.36 14l.36-16l.37 2l.36 38l.36-3l.37-43l.36 31l.36 3l.37-6l.36 3l.36 1l.37-16l.36 6l.36 11l.37-16l.36-6l.36 12l.37-18l.36 25l.36 17l.37-8l.36-28l.36 35l.37-39l.36 5l.36 23l.37-19l.36 12l.37-21l.36 31l.36-17l.37-12l.36 6l.36 19l.37 18l.36-3l.36 2l.37-41l.36 11l.36-10l.37 11l.36 18l.36-17l.37 18l.36-31l.36 12l.37 21l.36-16l.36-26l.37 29l.36 1l.36 9l.37-6l.36 13l.36-28l.37 22l.36-40l.36 7l.37 13l.36 22l.36-30l.37-2l.36 33l.36-21l.37 4l.36 26l.36-21l.37 14l.36-37l.37 42l.36-16l.36 18l.37-3l.36 1l.36-37l.37 21l.36-5l.36-9l.37-13l.36 19l.36 1l.37-8l.36 24l.36-27l.37 3l.36 23l.36-21l.37 18l.36-44l.36 32l.37-6l.36 0l.36-8l.37 20l.36 9l.36-6l.37-18l.36 17l.36-7l.37-9l.36 28l.36-12l.37-4l.36-3l.36-25l.37 9l.36 29l.37-4l.36-2l.36-22l.37 17l.36-8l.36-11l.37 22l.36-14l.36 5l.37 16l.36-37l.36 10l.37 30l.36 3l.36-24l.37 15l.36-31l.36 29l.37-3l.36-22l.36 33l.37-24l.36 21l.36-13l.37-14l.36 42l.36-48l.37 11l.36-2l.36 5l.37-16l.36 33l.36-23l.37 0l.36-7l.36 2l.37 36l.36-12l.37-14l.36 13l.36 13l.37-19l.36-15l.36 42l.37-31l.36-5l.36 5l.37 16l.36 6l.36-4l.37-24l.36 7l.36 17l.37-5l.36-32l.36 14l.37-14l.36 4l.36 9l.37 1l.36-12l.36 42l.37-37l.36-4l.36 20l.37 9l.36-12l.36 16l.37-24l.36 16l.36-12l.37 0l.36-7l.36 19l.37-18l.36-6l.36 25l.37-6l.36 15l.37-34l.36 17l.36 19l.37-28l.36-2l.36 9l.37 3l.36 18l.36-6l.37-10l.36 7l.36-9l.37 2l.36-29l.36 1l.37 42l.36-21l.36 4l.37-3l.36-8l.36 1l.37 15l.36 14l.36-31l.37 20l.36 9l.36 4l.37-3l.36-24l.36 19l.37-15l.36-23l.36 18l.37-5l.36 4l.36 11l.37 10l.36-42l.37 11l.36 18l.36-9l.37-4l.36-4l.36 25l.37-24l.36-16l.36 27l.37 24l.36 0l.36-46l.37 15l.36 12l.36 11l.37-26l.36-9l.36 27l.37 2l.36-1l.36 2l.37-5l.36 10l.36-33l.37 9l.36 5l.36 24l.37 4l.36-21l.36-18l.37 36l.36-2l.36-19l.37-22l.36 10l.36 15l.37-12l.36 18l.36-8l.37-2l.36-15l.37 17l.36 24l.36-3l.37-40l.36 26l.36 4l.37-11l.36-11l.36 8l.37 13l.36-4l.36 8l.37-16l.36-10l.36 14l.37-20l.36 12l.36 14l.37-30l.36 37l.36-5l.37 10l.36-20l.36 2l.37 24l.36-34l.36 24l.37 11l.36-29l.36 22l.37-25l.36-15l.36 10l.37 13l.36-25l.36 56l.37-17l.36-3l.37-8l.36-22l.36 9l.37 1l.36 20l.36-7l.37 6l.36-28l.36 10l.37-2l.36-1l.36-12l.37 18l.36 16l.36-8l.37-2l.36-5l.36 25l.37-27l.36 18l.36-31l.37 6l.36 18l.36-21l.37 6l.36-8l.36 5l.37 7l.36 16l.36 4l.37-12l.36-29l.36 44l.37-29l.36 18l.36-28l.37 33l.36-36l.36 33l.37-10l.36 13l.37-25l.36 31l.36-31l.37 7l.36 32l.36-20l.37 18l.36-45l.36 20l.37-23l.36 57l.36-37l.37 28l.36-23l.36 1l.37 3l.36-20l.36 43l.37-47l.36 39l.36-6l.37-6l.36-28l.36 32l.37 1l.36-15l.36-6l.37 19l.36-8l.36 0l.37-34l.36 11l.36 33l.37-16l.36 31l.36-21l.37-6l.36 8l.37-1l.36 8l.36-36l.37 17l.36 19l.36 9l.37-34l.36 16l.36 5l.37-35l.36 2l.36 16l.37 17l.36-34l.36 3l.37 8l.36 21l.36 18l.37-36l.36 42l.36-34l.37 13l.36-36l.36 18l.37-6l.36-8l.36 19l.37 4l.36-11l.36 32l.37-48l.36 5l.36 8l.37 2l.36 7l.36 1l.37 8l.36 1l.37-2l.36-19l.36 7l.37-12l.36 30l.36-16l.37-5l.36 9l.36-15l.37 25l.36-10l.36 0l.37-26l.36 23l.36-9l.37-8l.36 35l.36-1l.37-25l.36 0l.36 1l.37 6l.36-5l.36-13l.37 24l.36-25l.36 30l.37-3l.36-16l.36 36l.37-14l.36 8l.36-30l.37-18l.36 44l.36-28l.37 19l.36-6l.36 5l.37 2l.36-5l.37 4l.36 0l.36 0l.37 8l.36 5l.36-31l.37 19l.36-30l.36 34l.37-27l.36 18l.36 13l.37-27l.36 9l.36 7l.37-17l.36 23l.36-18l.37 21l.36 1l.36-30l.37 4l.36 26l.36-23l.37-12l.36-10l.36 34l.37-14l.36 13l.36-3l.37-13l.36-12l.36 19l.37 34l.36 11l.36-27l.37-22l.36 14l.37 13l.36-26l.36-2l.37 6l.36 3l.36 25l.37-9l.36-51l.36 29l.37 27l.36-40l.36-9l.37 41l.36-27l.36 23l.37 2l.36-27l.36 19l.37 20l.36-17l.36 4l.37-5l.36-13l.36 14l.37 11l.36 2l.36-4l.37-8l.36-17l.36 22l.37-4l.36-12l.36 22l.37-6l.36-12l.36 4l.37 19l.36-35l.36 36l.37-33l.36 13l.37-9l.36-3l.36 18l.37-5l.36-10l.36 18l.37-20l.36-8l.36 8l.37 26l.36-24l.36 14l.37 1l.36 8l.36-26l.37 20l.36 10l.36-39l.37 14l.36-12l.36-14l.37 17l.36 48l.36-45l.37 22l.36-31l.36 22l.37-11l.36-1l.36-4l.37-5l.36 18l.36-15l.37 19l.36 5l.36-26l.37 20l.36 1l.37 14l.36 6l.36-10l.37-21l.36 11l.36-25l.37-4l.36 1l.36 39l.37-28l.36 8l.36 19l.37-12l.36-7l.36 22l.37-12l.36-8l.36-19l.37 23l.36-6l.36 15l.37 18l.36-9l.36-14l.37 5l.36-22l.36 26l.37-28l.36 27l.36-32l.37 3l.36 36l.36-19l.37 19l.36-33l.36 34l.37-2l.36-32l.36 9l.37-1l.36 11l.37-7l.36 20l.36-28l.37-9l.36 23l.36-2l.37-5l.36 23l.36-9l.37-36l.36 2l.36 14l.37 14l.36-8l.36 17l.37-32l.36 28l.36-14l.37 3l.36 28l.36-30l.37 4l.36-1l.36-8l.37 14l.36 15l.36-38l.37 2l.36 25l.36 0l.37-27l.36 26l.36 7l.37-16l.36-27l.36 33l.37 8l.36-12l.37-19l.36 24l.36-10l.37 37l.36-10l.36-32l.37 23l.36-18l.36-11l.37 12l.36 26l.36-14l.37-19l.36 5l.36 17l.37-11l.36-22l.36 40l.37-33l.36 16l.36 1l.37 12l.36-23l.36 24l.37-28l.36 11l.36-15l.37-8l.36 24l.36-10l.37 13l.36-3l.36 2l.37 19l.36-47l.36-2l.37 18l.36 4l.37-17l.36-17l.36 31l.37-40l.36 9l.36 3l.37-6l.36 27l.36 10l.37-17l.36-21l.36 30l.37-44l.36 33l.36 3l.37-7l.36 5l.36-10l.37-18l.36 24l.36 9l.37-31l.36 48l.36-42l.37 15l.36-19l.36-2l.37-8l.36 22l.36-2l.37 2l.36 14l.36 2l.37-15l.36-25l.36 53l.37-29l.36 1l.36 19l.37-3l.36-37l.37 38l.36-21l.36-13l.37 6l.36 14l.36 9l.37 3l.36-28l.36 35l.37-13l.36-17l.36 0l.37 6l.36 22l.36-11l.37-16l.36 28l.36-29l.37-3l.36-1l.36 10l.37-1l.36-21l.36 11l.37-4l.36-10l.36 38l.37-18l.36 28l.36-35l.37-10l.36 18l.36 31l.37-43l.36 26l.36-22l.37-2l.36 38l.37-29l.36-2l.36 33l.37-12l.36-20l.36 18l.37-11l.36-20l.36 15l.37-8l.36-5l.36 36l.37-7l.36-25l.36 17l.37 19l.36-14l.36 10l.37-33l.36 14l.36 13l.37 9l.36 8l.36-18l.37-16l.36 12l.36 8l.37-15l.36-14l.36 9l.37-18l.36 36l.36-14l.37-11l.36 1l.36 22l.37 7l.36-34l.36 11l.37 15l.36-25l.37 34l.36-25l.36 32l.37-17l.36-28l.36 43l.37-16l.36-7l.36-2l.37-3l.36-10l.36 10l.37-8l.36 18l.36-15l.37 3l.36 14l.36-17l.37-21l.36 35l.36-4l.37 16l.36-35l.36 12l.37 25l.36-36l.36 33l.37 12l.36-36l.36-2l.37 33l.36-14l.36-10l.37 18l.36-41l.36 53l.37-39l.36 0l.37 26l.36-23l.36 29l.37-43l.36 31l.36-24l.37-4l.36 23l.36-1l.37-22l.36 22l.36-13l.37-9l.36 5l.36-3l.37 11l.36-8l.36 26l.37-8l.36-8l.36 24l.37-17l.36-22l.36 36l.37-8l.36-14l.36-16l.37 13l.36 21l.36 3l.37-33l.36 26l.36-37l.37 13l.36 2l.36 19l.37 17l.36-41l.36 32l.37-20l.36 10l.37-4l.36 7l.36-8l.37-14l.36-19l.36 36l.37 2l.36-18l.36 11l.37-18l.36 17l.36 15l.37-12l.36-15l.36 27l.37-14l.36-5l.36 10l.37 12l.36-1l.36-17l.37 3l.36 23l.36-17l.37-5l.36-20l.36 23l.37-17l.36-11l.36 19l.37-2l.36 6l.36 6l.37-21l.36 26l.36 0l.37 5l.36-20l.37-8l.36 11l.36 16l.37-11l.36-3l.36 8l.37-5l.36-11l.36 26l.37-10l.36-22l.36 28l.37-5l.36-8l.36-18l.37 36l.36-11l.36 3l.37-27l.36 41l.36-22l.37-24l.36 11l.36-14l.37 21l.36 19l.36-6l.37-40l.36 21l.36 17l.37-6l.36-15l.36 0l.37 15l.36 8l.36-20l.37-7l.36 3l.37 12l.36 14l.36 0l.37 4l.36-39l.36 11l.37-4l.36 25l.36-31l.37 44l.36-7l.36-21l.37 8l.36-7l.36 2l.37-12l.36 36l.36-36l.37 4l.36 19l.36-8l.37 16l.36-7l.36-35l.37-4l.36-7l.36 18l.37 20l.36-25l.36 1l.37 2l.36 7l.36 21l.37 11l.36-14l.36 2l.37-33l.36 48l.36 7l.37-44l.36 18l.37-8l.36 3l.36-17l.37 25l.36-2l.36-17l.37 15l.36-3l.36-8l.37-12l.36-2l.36 36l.37-5l.36-35l.36-2l.37 34l.36 16l.36 4l.37-21l.36-11l.36-3l.37-6l.36 20l.36-35l.37 17l.36 15l.36 10l.37-25l.36 10l.36 18l.37-21l.36 27l.36-27l.37 19l.36-42l.36 7l.37 20l.36-10l.37-14l.36 30l.36 24l.37-22l.36-27l.36 24l.37 7l.36-2l.36-4l.37-28l.36 39l.36-24l.37-7l.36 29l.36-22l.37 2l.36-14l.36 13l.37-21l.36 34l.36 0l.37 11l.36-6l.36-1l.37-5l.36-3l.36-13l.37 17l.36-16l.36 9l.37 17l.36-43l.36 33l.37 2l.36 10l.36-11l.37-5l.36-14l.36 7l.37 4l.36-19l.37 29l.36-6l.36-6l.37 5l.36-13l.36 7l.37-19l.36 6l.36 17l.37-9l.36-14l.36 39l.37-27l.36-7l.36 34l.37-3l.36-7l.36 2l.37-24l.36-6l.36 18l.37-9l.36 0l.36-8l.37 16l.36 25l.36-38l.37 1l.36 26l.36-18l.37 25l.36-33l.36 4l.37-3l.36 15l.36 3l.37-27l.36 13l.37 16l.36-1l.36-23l.37 22l.36 10l.36 3l.37-25l.36 15l.36-31l.37 50l.36-37l.36 6l.37 18l.36-1l.36-3l.37-35l.36 35l.36-26l.37 29l.36-1l.36-27l.37 5l.36-3l.36 4l.37 8l.36-15l.36 38l.37-6l.36-11l.36-15l.37 33l.36-19l.36 13l.37 3l.36-31l.36 23l.37-14l.36 12l.36-13l.37-11l.36 11l.37 11l.36-8l.36-36l.37 38l.36-6l.36 27l.37-26l.36-11l.36-18l.37 14l.36 28l.36 8l.37-3l.36-24l.36-7l.37 24l.36-3l.36 10l.37-30l.36 3l.36 27l.37-9l.36 9l.36-35l.37 23l.36-18l.36 5l.37 13l.36-5l.36-9l.37-8l.36 40l.36 8l.37-47l.36 33l.36-32l.37 42l.36-42l.37 20l.36-21l.36 30l.37-30l.36 24l.36-12l.37-9l.36-3l.36 19l.37-14l.36 24l.36-20l.37 12l.36-6l.36-11l.37 11l.36 12l.36 17l.37-26l.36 31l.36-13l.37-20l.36 14l.36-4l.37 5l.36-9l.36-7l.37-3l.36 5l.36-5l.37-8l.36-4l.36 24l.37-28l.36 38l.36 1l.37-19l.36-23l.37 27l.36-5l.36 1l.37 7l.36-19l.36 13l.37 11l.36-15l.36-22l.37 48l.36-35l.36 27l.37-22l.36-1l.36 1l.37 11l.36 6l.36 4l.37-8l.36-18l.36 2l.37 29l.36-12l.36-28l.37 4l.36 7l.36-3l.37 16l.36-21l.36 4l.37-5l.36 12l.36 16l.37-24l.36-7l.36 20l.37 21l.36-23l.36-1l.37 12l.36-16l.37 1l.36-5l.36 4l.37 31l.36-21l.36 11l.37-26l.36 22l.36 15l.37-24l.36-6l.36 18l.37-6l.36 0l.36 26l.37-57l.36 28l.36 11l.37 3l.36 1l.36-17l.37 10l.36-27l.36-5l.37 13l.36 18l.36 9l.37-34l.36-13l.36 38l.37 2l.36-12l.36-14l.37 20l.36 11l.36-10l.37 14l.36 12l.37-54l.36 33l.36-27l.37 29l.36-22l.36-18l.37 44l.36-2l.36-25l.37 15l.36 10l.36-12l.37-1l.36-21l.36 11l.37 5l.36-12l.36 1l.37 32l.36-35l.36 13l.37-4l.36-19l.36 33l.37-1l.36 10l.36-11l.37-1l.36 0l.36-2l.37-9l.36-16l.36 20l.37 18l.36-20l.36 10l.37-2l.36 2l.36 10l.37-18l.36-14l.37 1l.36 27l.36-5l.37-1l.36 10l.36-11l.37 6l.36-7l.36 19l.37-9l.36 7l.36-36l.37 9l.36 14l.36-11l.37 11l.36 2l.36-5l.37-22l.36 45l.36-24l.37 6l.36-15l.36 9l.37 1l.36 1l.36-3l.37 17l.36-8l.36-3l.37-18l.36-7l.36-4l.37 37l.36 11l.36-42l.37 20l.36-25l.37 26l.36-17l.36 28l.37-16l.36 12l.36-22l.37 26l.36-34l.36 11l.37 1l.36 11l.36 11l.37-10l.36-17l.36 8l.37 0l.36-7l.36 10l.37-12l.36 22l.36-31l.37 31l.36-2l.36-6l.37-24l.36 12l.36-3l.37 34l.36-25l.36-7l.37 15l.36 3l.36-32l.37 28l.36-18l.36 5l.37-9l.36 21l.36-5l.37-14l.36 23l.37-17l.36 31l.36-30l.37 37l.36-26l.36 9l.37-24l.36 18l.36 12l.37-26l.36 35l.36-21l.37-6l.36 14l.36-27l.37 18l.36 16l.36-22l.37-19l.36-2l.36 7l.37-2l.36 34l.36-36l.37 32l.36-6l.36 2l.37-32l.36 17l.36-3l.37 21l.36-21l.36 7l.37 12l.36 6l.36-31l.37 6l.36 23l.37-25l.36-5l.36 24l.37-18l.36 0l.36 7l.37 4l.36-10l.36 26l.37-7l.36-16l.36 0l.37 4l.36 8l.36 0l.37-3l.36-10l.36-5l.37 0l.36-2l.36 7l.37 15l.36-36l.36 32l.37 6l.36-3l.36 2l.37-9l.36 12l.36-8l.37-16l.36 6l.36-28l.37 14l.36 7l.36-5l.37-16l.36 19l.37 12l.36-38l.36 2l.37-8l.36 13l.36 7l.37 4l.36-19l.36-19l.37 53l.36-23l.36-21l.37 25l.36-14l.36 16l.37-11l.36 0l.36-30l.37 5l.36 37l.36-8l.37 6l.36-25l.36-1l.37-6l.36 8l.36 27l.37-17l.36-7l.36-11l.37 2l.36 22l.36-14l.37-11l.36 9l.36 30l.37-13l.36-3l.36-11l.37-29l.36 50l.37-49l.36 34l.36 11l.37-23l.36-18l.36 5l.37 30l.36-8l.36 18l.37-45l.36 35l.36 5l.37-8l.36-6l.36-6l.37 6l.36 8l.36-33l.37 41l.36-21l.36 20l.37-44l.36 12l.36 25l.37-29l.36 32l.36-41l.37 34l.36-14l.36 5l.37 0l.36 21l.36-5l.37-8l.36 0l.36-22l.37 13l.36-17l.37 1l.36 6l.36-1l.37 13l.36 4l.36 3l.37-11l.36 8l.36 15l.37-29l.36 17l.36-38l.37 27l.36 28l.36-18l.37 5l.36-30l.36 16l.37 12l.36-26l.36 21l.37 16l.36-8l.36-26l.37 20l.36-22l.36 9l.37-14l.36 12l.36 3l.37 22l.36-11l.36 7l.37-26l.36 14l.36 17l.37-30l.36 4l.36 18l.37 0l.36 7l.37-13l.36-1l.36 10l.37 0l.36 15l.36-46l.37 2l.36 34l.36-19l.37-14l.36 23l.36-14l.37 27l.36-33l.36 27l.37-28l.36 15l.36-11l.37-7l.36 32l.36-9l.37-9l.36-13l.36 27l.37-20l.36-10l.36 27l.37 0l.36-15l.36-4l.37 29l.36-22l.36 19l.37-13l.36-2l.36 3l.37-4l.36-4l.37-13l.36 1l.36-11l.37 34l.36 27l.36-62l.37 6l.36 10l.36-1l.37-7l.36 40l.36-31l.37-4l.36-3l.36-6l.37 34l.36-10l.36-5l.37 0l.36 16l.36-17l.37 12l.36 8l.36-17l.37-14l.36 8l.36 5l.37 15l.36-5l.36 13l.37-24l.36-9l.36 1l.37-2l.36 10l.36 18l.37-5l.36-22l.36 33l.37-27l.36-8l.37 19l.36 9l.36-1l.37-15l.36 22l.36-26l.37 7l.36 3l.36-10l.37 15l.36-19l.36 19l.37-28l.36 8l.36 5l.37 15l.36 3l.36 0l.37-26l.36 22l.36-7l.37 1l.36-18l.36 39l.37 0l.36-31l.36-9l.37 35l.36-3l.36 14l.37-34l.36 8l.36 1l.37-3l.36 9l.36-26l.37 37l.36-27l.37 19l.36-32l.36 19l.37 4l.36 5l.36 6l.37-22l.36 2l.36 16l.37-2l.36 3l.36-33l.37 41l.36-13l.36 3l.37-5l.36-5l.36-4l.37 1l.36 9l.36 23l.37-44l.36 25l.36-5l.37-8l.36-11l.36-1l.37-7l.36 20l.36-9l.37 13l.36 8l.36-19l.37 26l.36-30l.36 16l.37-7l.36 6l.37-3l.36 12l.36-5l.37-8l.36 12l.36-6l.37-16l.36 27l.36-35l.37 17l.36 8l.36 16l.37-26l.36-10l.36 10l.37 34l.36-42l.36 27l.37-35l.36 40l.36-30l.37-6l.36 21l.36 1l.37 9l.36 0l.36 11l.37-6l.36-33l.36 9l.37 0l.36 17l.36-35l.37 36l.36-22l.36-3l.37 32l.36-18l.36 15l.37-9l.36-21l.37 21l.36-14l.36 11l.37 20l.36-42l.36 26l.37-9l.36 22l.36-18l.37-19l.36-13l.36 17l.37 14l.36 6l.36-3l.37-31l.36 6l.36 18l.37-5l.36 12l.36-6l.37 5l.36-28l.36 16l.37-10l.36 32l.36 4l.37-27l.36 23l.36-4l.37-18l.36-3l.36 28l.37-14l.36-12l.36-1l.37-14l.36 6l.37 26l.36-19l.36 3l.37-17l.36 47l.36-9l.37 4l.36-38l.36 5l.37-2l.36 30l.36-37l.37 27l.36-5l.36 2l.37-7l.36-12l.36 27l.37-11l.36 9l.36 29l.37-29l.36-16l.36 17l.37-39l.36 25l.36 6l.37-14l.36 12l.36-18l.37 11l.36 13l.36-4l.37 17l.36-11l.36 2l.37 9l.36-39l.36 12l.37 4l.36 23l.37-2l.36-12l.36 6l.37 6l.36-2l.36-17l.37-2l.36 3l.36 21l.37-29l.36 30l.36-27l.37 11l.36 14l.36-28l.37 18l.36 11l.36-24l.37-5l.36 15l.36 8l.37-16l.36 24l.36-24l.37 8l.36-9l.36 5l.37 0l.36 30l.36-14l.37-15l.36-12l.36 37l.37-10l.36-14l.36 6l.37-17l.36 42l.37-18l.36-27l.36 27l.37-24l.36-1l.36 29l.37-34l.36 31l.36-9l.37-4l.36-14l.36 32l.37-44l.36 19l.36 9l.37-5l.36 21l.36-35l.37 3l.36 0l.36 26l.37-23l.36 2l.36 3l.37 21l.36-28l.36 6l.37-5l.36-1l.36 22l.37 1l.36-21l.36 14l.37-15l.36 22l.36-3l.37-24l.36 34l.36-26l.37 12l.36-20l.37 19l.36 8l.36-22l.37 13l.36-4l.36 7l.37-16l.36 12l.36-32l.37 34l.36-32l.36 43l.37-19l.36 25l.36-23l.37-14l.36 30l.36-8l.37-3l.36-26l.36 7l.37 35l.36-30l.36 21l.37-37l.36 42l.36-16l.37 8l.36 2l.36 15l.37-7l.36-16l.36 11l.37-26l.36 19l.36 14l.37-2l.36-13l.37-2l.36-27l.36 6l.37 36l.36-29l.36 13l.37 2l.36 11l.36-3l.37-5l.36 13l.36-10l.37 7l.36-6l.36-29l.37 3l.36 30l.36-24l.37-6l.36 31l.36-29l.37 30l.36 1l.36-28l.37 4l.36 17l.36 5l.37-9l.36 3l.36 15l.37-28l.36 4l.36 10l.37-22l.36 8l.36 15l.37-14l.36 2l.37-4l.36 14l.36 5l.37-18l.36 18l.36-25l.37-13l.36 12l.36 7l.37-11l.36 10l.36 14l.37 2l.36 11l.36-37l.37 30l.36-2l.36-21l.37-6l.36 5l.36 7l.37-2l.36 12l.36-1l.37 8l.36-32l.36 3l.37 26l.36-13l.36 24l.37-23l.36-4l.36 18l.37 14l.36-38l.36 21l.37-2l.36-8l.36 2l.37-15l.36-5l.37 38l.36-27l.36-4l.37-8l.36 21l.36 24l.37-18l.36 25l.36-3l.37-40l.36 12l.36-10l.37 27l.36-12l.36-19l.37 22l.36-29l.36 46l.37-23l.36-9l.36-8l.37 26l.36-15l.36 21l.37-20l.36 3l.36 12l.37-12l.36-13l.36-4l.37 22l.36-3l.36 11l.37-30l.36 23l.36-17l.37 9l.36-4l.37 9l.36-11l.36-3l.37 7l.36-12l.36 44l.37-36l.36-22l.36 48l.37 11l.36-3l.36-33l.37 7l.36 16l.36 0l.37-8l.36-13l.36 21l.37 7l.36-38l.36 9l.37-11l.36 26l.36-11l.37-7l.36 25l.36-23l.37 0l.36 0l.36 23l.37-20l.36 29l.36-39l.37 28l.36 2l.36-1l.37-29l.36 33l.36-15l.37-9l.36 20l.37-9l.36 13l.36-14l.37-15l.36-6l.36 39l.37-23l.36-8l.36 12l.37 22l.36-41l.36 43l.37-8l.36-27l.36 10l.37 13l.36 6l.36-26l.37 19l.36-22l.36 11l.37-17l.36 20l.36-20l.37 28l.36 0l.36 14l.37-25l.36-18l.36 24l.37-15l.36 14l.36 12l.37-33l.36-1l.36 18l.37 0l.36 4l.37 6l.36-6l.36 5l.37 6l.36 0l.36-34l.37 13l.36 33l.36-20l.37 11l.36-31l.36-6l.37 29l.36-13l.36 4l.37-10l.36 14l.36 19l.37 2l.36-36l.36 14l.37-8l.36 18l.36 5l.37-11l.36 3l.36-1l.37 22l.36-29l.36-17l.37 46l.36-6l.36-21l.37-13l.36 26l.36-20l.37-7l.36-11l.36 4l.37 9l.36 10l.37-2l.36-11l.36 31l.37-14l.36-3l.36 3l.37-20l.36 7l.36 17l.37-24l.36 21l.36-16l.37 12l.36 16l.36-28l.37 13l.36 5l.36-22l.37 10l.36 0l.36 2l.37-11l.36 4l.36 11l.37 22l.36-28l.36 14l.37 13l.36-40l.36 2l.37 33l.36-24l.36 19l.37-39l.36 13l.36-25l.37 23l.36 13l.37-36l.36 29l.36-19l.37 23l.36-14l.36 13l.37-10l.36-4l.36 2l.37-5l.36-2l.36-11l.37 35l.36-8l.36 10l.37-25l.36-10l.36 12l.37 2l.36 11l.36-10l.37 4l.36-11l.36 1l.37 15l.36-3l.36-2l.37 1l.36-8l.36 15l.37-35l.36-6l.36 22l.37-2l.36 17l.36 0l.37-29l.36 9l.37-21l.36 2l.36 23l.37 16l.36 3l.36-38l.37 5l.36 3l.36 25l.37-7l.36-22l.36-2l.37 28l.36 4l.36-37l.37 15l.36 9l.36-7l.37 10l.36 0l.36-30l.37 24l.36-16l.36-2l.37-6l.36 10l.36 16l.37 8l.36-24l.36 5l.37-9l.36-13l.36 18l.37-8l.36-4l.36 33l.37-32l.36-9l.36 28l.37-30l.36-9l.37 25l.36-2l.36 18l.37 4l.36-16l.36 12l.37 3l.36 5l.36-34l.37 28l.36-29l.36 14l.37 1l.36-8l.36 5l.37-4l.36 18l.36-39l.37 20l.36-2l.36 3l.37-24l.36 42l.36-17l.37 3l.36-10l.36 12l.37 11l.36-6l.36 5l.37-39l.36 11l.36 30l.37-7l.36 1l.36-15l.37-9l.36 24l.37-10l.36 15l.36 8l.37-54l.36 32l.36-21l.37 23l.36-19l.36 5l.37-7l.36 15l.36-3l.37 12l.36 8l.36-13l.37-5l.36 18l.36-22l.37 24l.36-12l.36-18l.37 5l.36-7l.36 2l.37 4l.36 13l.36 14l.37-37l.36 28l.36 1l.37 5l.36 2l.36-12l.37-11l.36 26l.36-18l.37 3l.36-3l.36-9l.37 19l.36 0l.37 7l.36-12l.36-20l.37 18l.36-24l.36 4l.37-20l.36 36l.36-13l.37 20l.36-31l.36 33l.37 5l.36-11l.36 10l.37 3l.36-30l.36 28l.37-10l.36-15l.36 37l.37-30l.36-6l.36 2l.37-15l.36 9l.36 44l.37-17l.36-25l.36-1l.37 11l.36 12l.36-8l.37 6l.36-10l.36 7l.37 4l.36-3l.37 0l.36-15l.36 5l.37-7l.36 1l.36 19l.37-41l.36 47l.36-19l.37 5l.36-15l.36-14l.37 8l.36 17l.36 6l.37-1l.36-7l.36 23l.37-7l.36-6l.36 7l.37-2l.36-13l.36 1l.37 3l.36 0l.36-4l.37 22l.36-25l.36 2l.37-6l.36 26l.36-18l.37 18l.36-18l.36-1l.37-4l.36-3l.36 27l.37-6l.36-14l.37-2l.36 5l.36 20l.37-22l.36 12l.36 3l.37 6l.36-46l.36 36l.37-5l.36-22l.36 30l.37 8l.36-29l.36 2l.37 23l.36-28l.36 6l.37 5l.36-18l.36-1l.37 35l.36-40l.36 31l.37 7l.36-1l.36-8l.37-4l.36 5l.36-2l.37 5l.36 8l.36-42l.37 28l.36 1l.36-16l.37 43l.36-48l.37 29l.36-7l.36-1l.37-15l.36 14l.36-16l.37 6l.36-5l.36-5l.37 11l.36-12l.36 37l.37-24l.36 7l.36-3l.37-10l.36-4l.36-15l.37 46l.36-38l.36-13l.37 52l.36 1l.36-34l.37 41l.36-36l.36-14l.37 38l.36-36l.36 30l.37 17l.36-37l.36 24l.37-18l.36-3l.36 10l.37-5l.36 4l.37 18l.36-36l.36 26l.37-28l.36 1l.36 1l.37-3l.36 35l.36-15l.37 22l.36-2l.36-46l.37 16l.36 24l.36 6l.37-13l.36-29l.36 38l.37-39l.36 33l.36-21l.37 20l.36-13l.36 1l.37 10l.36 20l.36-10l.37-9l.36 6l.36 8l.37-14l.36-16l.36 12l.37 1l.36-13l.36 16l.37-12l.36 26l.36-14l.37-21l.36 12l.37 24l.36-8l.36 3l.37-18l.36 4l.36-16l.37 14l.36-14l.36 7l.37-11l.36 21l.36 2l.37-19l.36 25l.36 11l.37-10l.36-11l.36 9l.37-30l.36-1l.36 39l.37-13l.36-17l.36 21l.37-2l.36-17l.36 30l.37-12l.36 1l.36 18l.37-33l.36 8l.36 2l.37-20l.36 29l.36-10l.37-11l.36 28l.37-19l.36-5l.36 1l.37 3l.36 0l.36 6l.37 1l.36-14l.36 16l.37-20l.36 4l.36-15l.37 36l.36 3l.36-19l.37-14l.36 7l.36-1l.37-2l.36 22l.36 14l.37-27l.36-11l.36-5l.37 3l.36 9l.36-9l.37 4l.36 0l.36 3l.37 17l.36-22l.36 2l.37 27l.36-21l.36 4l.37-16l.36-14l.36 28l.37-1l.36 8l.37-25l.36 34l.36-28l.37 20l.36 2l.36-13l.37-19l.36 43l.36-9l.37-6l.36-15l.36 1l.37 11l.36 17l.36-9l.37-5l.36-20l.36 33l.37-33l.36 34l.36-20l.37 26l.36-20l.36-6l.37 3l.36 0l.36 27l.37-7l.36-31l.36 29l.37-38l.36 9l.36-12l.37 17l.36-13l.36 12l.37 19l.36 12l.37-19l.36-5l.36 1l.37-10l.36-15l.36 9l.37 21l.36-20l.36 34l.37-36l.36 41l.36-25l.37 17l.36-20l.36-5l.37 24l.36-38l.36 30l.37 0l.36-22l.36 9l.37 0l.36-19l.36 34l.37-3l.36-25l.36 32l.37-14l.36-9l.36 8l.37 19l.36-31l.36 6l.37 7l.36-4l.36-1l.37-4l.36 24l.36-19l.37 28l.36-31l.37-16l.36 35l.36-19l.37 29l.36-2l.36-15l.37-17l.36-10l.36 35l.37-23l.36-1l.36-5l.37 19l.36 12l.36-14l.37-5l.36 31l.36-17l.37-41l.36 30l.36-11l.37 32l.36-11l.36-10l.37-1l.36 20l.36-11l.37-15l.36 7l.36-1l.37-5l.36-4l.36 20l.37-5l.36 6l.36 16l.37-45l.36 18l.37 11l.36 10l.36-19l.37-2l.36 26l.36-10l.37 7l.36-36l.36 13l.37 9l.36-1l.36 3l.37-6l.36-14l.36 13l.37 14l.36-22l.36 19l.37-2l.36-1l.36-20l.37-5l.36 22l.36-12l.37 1l.36-11l.36 29l.37-29l.36-3l.36-7l.37 18l.36-21l.36 5l.37 45l.36-19l.36-18l.37-10l.36 5l.37 16l.36-4l.36-18l.37 18l.36 25l.36-17l.37 16l.36 5l.36-24l.37 1l.36 13l.36-27l.37 13l.36-17l.36 7l.37-8l.36 33l.36-18l.37 15l.36 7l.36-29l.37 7l.36 13l.36-3l.37-25l.36 17l.36 11l.37-7l.36-12l.36 30l.37-16l.36 0l.36-21l.37-7l.36 38l.36-42l.37 26l.36-11l.36 18l.37 1l.36 6l.37 7l.36-19l.36 12l.37-22l.36-10l.36 31l.37-13l.36 1l.36-18l.37 4l.36 22l.36 4l.37-37l.36 32l.36 12l.37-40l.36 20l.36 8l.37-26l.36 40l.36-27l.37-18l.36 40l.36-39l.37 16l.36 11l.36-3l.37 4l.36-3l.36 4l.37-28l.36 27l.36 2l.37-2l.36-8l.36 17l.37 5l.36-11l.37-16l.36-27l.36 59l.37-37l.36 28l.36-15l.37 15l.36-6l.36-13l.37-11l.36 28l.36-1l.37-22l.36 24l.36-15l.37-10l.36-6l.36 30l.37-23l.36 11l.36-13l.37 20l.36-27l.36 16l.37 14l.36 7l.36-33l.37 34l.36-28l.36 11l.37-12l.36 6l.36-2l.37 11l.36 15l.36-1l.37-6l.36-12l.36-3l.37 24l.36-9l.37-24l.36 27l.36-13l.37-1l.36-16l.36 15l.37 5l.36-10l.36 20l.37-38l.36 24l.36-3l.37-9l.36 24l.36-34l.37 30l.36-31l.36 21l.37 9l.36 6l.36-24l.37-7l.36-1l.36 2l.37-3l.36 7l.36-6l.37 20l.36-13l.36 25l.37-9l.36 5l.36-19l.37 13l.36-2l.36 9l.37 4l.36-8l.37 2l.36-10l.36-12l.37 20l.36 11l.36-28l.37-15l.36 7l.36 1l.37 12l.36 12l.36 3l.37-15l.36-4l.36-10l.37 21l.36-2l.36-13l.37 29l.36-40l.36 37l.37 6l.36-15l.36-7l.37 5l.36-19l.36 4l.37 18l.36-26l.36-1l.37 11l.36 18l.36-24l.37 19l.36-12l.36 10l.37 16l.36-14l.36-25l.37 30l.36 18l.37-37l.36 11l.36-8l.37 41l.36-25l.36-14l.37-19l.36 18l.36-3l.37 3l.36 8l.36 8l.37-23l.36 3l.36 3l.37 30l.36-38l.36 5l.37 37l.36-35l.36-2l.37 3l.36 4l.36-5l.37 32l.36-48l.36 19l.37-4l.36-9l.36 4l.37-2l.36 4l.36 17l.37-38l.36 16l.36-21l.37 14l.36-15l.37 9l.36-7l.36-17l.37 24l.36-20l.36 4l.37-9l.36 15l.36 6l.37 8l.36-12l.36-19l.37 8l.36 2l.36 5l.37-18l.36 26l.36-28l.37 26l.36-3l.36-33l.37 18l.36 18l.36 5l.37-6l.36 8l.36-21l.37 11l.36-29l.36-7l.37 16l.36 33l.36-29l.37 20l.36 16l.36-16l.37-1l.36 6l.37-8l.36 12l.36-1l.37-21l.36-12l.36 22l.37-16l.36 17l.36-13l.37 21l.36-1l.36-26l.37-2l.36 2l.36 25l.37-37l.36 21l.36-20l.37 36l.36-29l.36 17l.37-14l.36 23l.36-47l.37 48l.36 14l.36-9l.37-25l.36 20l.36 11l.37-49l.36 3l.36 19l.37-25l.36 20l.36 0l.37 9l.36 20l.36-36l.37 6l.36 6l.37 3l.36 14l.36-36l.37 10l.36-11l.36 16l.37 6l.36-26l.36 29l.37-1l.36-8l.36 26l.37-28l.36-9l.36 32l.37-4l.36-10l.36-9l.37-6l.36-18l.36 7l.37 11l.36-4l.36-6l.37 8l.36-3l.36 23l.37-15l.36 13l.36-20l.37 21l.36-19l.36 7l.37-16l.36 1l.36 9l.37 13l.36-12l.37 21l.36-20l.36-7l.37 19l.36 3l.36-3l.37 7l.36 6l.36-37l.37 39l.36-36l.36 35l.37-21l.36 25l.36-3l.37-29l.36 28l.36-22l.37 19l.36-2l.36-17l.37 6l.36 24l.36-25l.37-19l.36 33l.36-12l.37-17l.36 19l.36 16l.37-9l.36-37l.36 6l.37 24l.36-24l.36 40l.37-11l.36 0l.36-17l.37 9l.36-18l.37 28l.36-14l.36-11l.37 27l.36-8l.36 14l.37-4l.36-14l.36-25l.37 37l.36-7l.36-22l.37-2l.36 0l.36 32l.37-28l.36-1l.36 0l.37-3l.36 20l.36-4l.37 25l.36-8l.36-5l.37-12l.36 18l.36-16l.37 5l.36-22l.36 0l.37 39l.36-7l.36-16l.37-3l.36-17l.36 26l.37 1l.36-6l.37 1l.36 4l.36-31l.37 50l.36-28l.36 11l.37-4l.36-4l.36 18l.37-16l.36-20l.36 1l.37 1l.36 12l.36-15l.37 40l.36-38l.36 37l.37-20l.36-3l.36-6l.37 29l.36-7l.36 5l.37-33l.36 30l.36 9l.37-44l.36 8l.36-3l.37 2l.36 9l.36 26l.37-30l.36 17l.36-1l.37 3l.36 9l.36-46l.37 41l.36-31l.37 0l.36 25l.36-22l.37-2l.36 45l.36-16l.37-22l.36 11l.36-14l.37 26l.36-18l.36-5l.37 13l.36-38l.36 52l.37-42l.36 29l.36-5l.37-25l.36 25l.36 10l.37-11l.36-16l.36 32l.37-13l.36-21l.36 16l.37 23l.36-42l.36 4l.37 40l.36-26l.36 1l.37 14l.36 4l.36-18l.37 16l.36-10l.37 16l.36-4l.36-18l.37 15l.36-9l.36 12l.37-30l.36-14l.36 17l.37 25l.36-26l.36 0l.37-12l.36 6l.36 26l.37-19l.36 21l.36-26l.37 24l.36 0l.36 8l.37-6l.36-26l.36 33l.37-5l.36-21l.36-18l.37 46l.36 2l.36-33l.37 1l.36 20l.36-9l.37-11l.36 30l.36-9l.37-9l.36-23l.37 27l.36 3l.36 12l.37-12l.36 7l.36-1l.37-28l.36 14l.36 7l.37-9l.36 8l.36 7l.37-5l.36 1l.36 4l.37-20l.36 9l.36-9l.37-5l.36 7l.36-2l.37-3l.36 18l.36-21l.37 3l.36 18l.36 2l.37-11l.36-9l.36 22l.37-28l.36 29l.36-24l.37 12l.36 17l.36-8l.37 4l.36-29l.36 14l.37-16l.36 13l.37 17l.36-41l.36 38l.37 2l.36-27l.36 11l.37 19l.36-26l.36-2l.37 28l.36 0l.36 5l.37-20l.36 20l.36-4l.37 1l.36-13l.36-8l.37-7l.36 19l.36 0l.37-9l.36 13l.36-4l.37-8l.36-25l.36 16l.37 29l.36-24l.36-28l.37 39l.36-6l.36 14l.37-27l.36-12l.36 5l.37 22l.36-16l.37 18l.36-26l.36 5l.37 6l.36 13l.36-17l.37 7l.36-10l.36 16l.37 14l.36-33l.36 12l.37 13l.36-11l.36 2l.37 4l.36 1l.36-14l.37 23l.36 10l.36-7l.37-13l.36-18l.36 20l.37-14l.36-10l.36 16l.37 1l.36 17l.36-32l.37 5l.36 29l.36-2l.37-11l.36-4l.36 10l.37-18l.36-5l.36 24l.37 2l.36 0l.37 20l.36-12l.36 0l.37-28l.36-1l.36-1l.37-8l.36 6l.36 13l.37 8l.36-6l.36-20l.37 13l.36 0l.36 5l.37 5l.36-4l.36-1l.37-5l.36 13l.36 8l.37-26l.36 14l.36 10l.37-7l.36 2l.36 11l.37-27l.36-8l.36 18l.37 6l.36-11l.36 11l.37 1l.36-21l.36 5l.37 10l.36 16l.37-18l.36 5l.36-34l.37 32l.36 22l.36-13l.37-3l.36 8l.36-2l.37-5l.36-10l.36 19l.37-9l.36 7l.36-27l.37 19l.36-20l.36 34l.37-54l.36 5l.36 15l.37 4l.36-14l.36 27l.37-14l.36-18l.36 26l.37 21l.36-17l.36 6l.37-20l.36 8l.36-24l.37 26l.36-7l.36 6l.37-3l.36 27l.36-8l.37-22l.36-10l.37 22l.36 3l.36-30l.37 8l.36 11l.36-17l.37 35l.36-15l.36-16l.37-7l.36 42l.36-44l.37-1l.36 9l.36 33l.37-27l.36 13l.36 14l.37-15l.36-11l.36 15l.37-16l.36 8l.36 15l.37-24l.36-20l.36 32l.37 4l.36-31l.36 37l.37-23l.36 29l.36-24l.37 9l.36-20l.36 18l.37 1l.36-14l.37 23l.36 1l.36-40l.37 50l.36-36l.36 7l.37 11l.36-22l.36 23l.37 8l.36-17l.36-6l.37 6l.36-9l.36 0l.37-5l.36 9l.36 16l.37-10l.36-12l.36 25l.37-28l.36 18l.36-22l.37 28l.36-11l.36 4l.37-20l.36-1l.36 3l.37 18l.36-36l.36 11l.37 32l.36-44l.36 16l.37-29l.36 37l.37 15l.36 5l.36-26l.37-1l.36 0l.36 10l.37-23l.36-8l.36 17l.37-1l.36-15l.36 17l.37-18l.36 7l.36 2l.37 4l.36-15l.36 26l.37-11l.36 9l.36-20l.37-4l.36 22l.36-6l.37 11l.36-1l.36-16l.37-22l.36 17l.36-9l.37-11l.36 22l.36 0l.37-8l.36 15l.36-21l.37 21l.36-21l.36 22l.37-8l.36-25l.37 4l.36-13l.36-3l.37 0l.36 45l.36-29l.37-4l.36 26l.36-22l.37-6l.36 27l.36-37l.37 38l.36 7l.36-39l.37 17l.36-24l.36-2l.37 33l.36-15l.36 10l.37-11l.36 23l.36-30l.37-15l.36 14l.36 14l.37-18l.36-8l.36 26l.37 5l.36-10l.36 17l.37-24l.36 5l.36 10l.37-11l.36 17l.37-10l.36-10l.36-15l.37 52l.36-6l.36-39l.37-11l.36 33l.36-8l.37-22l.36 35l.36-12l.37-12l.36 30l.36-15l.37 9l.36-25l.36-1l.37 2l.36-8l.36 20l.37 8l.36-18l.36 16l.37-24l.36 4l.36 18l.37 23l.36-20l.36-14l.37 16l.36-28l.36 7l.37 1l.36 16l.36 13l.37-12l.36-23l.36 3l.37 0l.36-3l.37 41l.36-40l.36 19l.37-19l.36 22l.36-19l.37 26l.36-30l.36 26l.37-9l.36 18l.36-20l.37-6l.36 15l.36-35l.37 17l.36-1l.36 15l.37-16l.36 16l.36-17l.37-15l.36 18l.36 10l.37 17l.36 1l.36-25l.37 17l.36-23l.36 25l.37 0l.36-5l.36-21l.37 16l.36-22l.36 24l.37 6l.36-21l.37 5l.36 0l.36 16l.37-4l.36 7l.36-33l.37 40l.36-11l.36-1l.37-7l.36 15l.36-26l.37 3l.36-9l.36 0l.37 24l.36-18l.36 11l.37 14l.36-14l.36-14l.37-16l.36 22l.36 2l.37 15l.36-33l.36 2l.37 11l.36-5l.36-13l.37 12l.36 4l.36 2l.37 1l.36 3l.36 1l.37 16l.36-29l.36 34l.37-37l.36 10l.37-15l.36 31l.36-16l.37-10l.36 22l.36-16l.37-14l.36 0l.36 22l.37-13l.36 18l.36 3l.37-14l.36 14l.36-22l.37-7l.36 5l.36-2l.37 19l.36 5l.36-23l.37 9l.36-2l.36-2l.37 8l.36 6l.36-28l.37 5l.36-4l.36 15l.37 2l.36 11l.36-24l.37 5l.36 21l.36 1l.37-8l.36-16l.37 21l.36-11l.36-10l.37 4l.36-1l.36 33l.37-47l.36 15l.36 23l.37 2l.36-44l.36 51l.37-9l.36-12l.36 5l.37 7l.36-27l.36 17l.37-32l.36 25l.36-24l.37 43l.36-38l.36 33l.37-14l.36-9l.36 21l.37 12l.36-31l.36 17l.37 1l.36-3l.36 13l.37 9l.36-14l.36-30l.37-8l.36 2l.37 7l.36-2l.36 10l.37-4l.36-5l.36-12l.37 36l.36-21l.36 20l.37 12l.36-3l.36-35l.37 11l.36 5l.36 20l.37-15l.36-13l.36-16l.37 5l.36-5l.36 40l.37-37l.36 39l.36-38l.37 31l.36 0l.36-38l.37 15l.36 38l.36-39l.37 19l.36 6l.36 11l.37-34l.36 16l.36 9l.37-24l.36 18l.36-18l.37 19l.36 10l.37-28l.36 13l.36 10l.37-19l.36 20l.36-24l.37 21l.36-4l.36-4l.37-12l.36 9l.36-23l.37 42l.36-18l.36-10l.37 26l.36-14l.36 12l.37 2l.36-5l.36 5l.37-9l.36-9l.36 16l.37-15l.36-18l.36 41l.37 3l.36-48l.36 25l.37 1l.36-9l.36 8l.37 4l.36 13l.36-20l.37 1l.36 13l.37-39l.36 41l.36 8l.37-40l.36 27l.36-24l.37 26l.36-30l.36 6l.37 21l.36 0l.36 3l.37-5l.36-19l.36 2l.37 24l.36-5l.36-10l.37-3l.36 21l.36-22l.37 9l.36 10l.36-20l.37 10l.36 8l.36-24l.37 31l.36-11l.36 2l.37-7l.36-17l.36-17l.37 40l.36-2l.36-18l.37 32l.36-32l.36 28l.37-38l.36 24l.37 1l.36 7l.36-12l.37-5l.36 22l.36-37l.37 42l.36 10l.36-42l.37 3l.36-2l.36 9l.37-12l.36 11l.36-7l.37 29l.36-7l.36 7l.37-23l.36 4l.36-4l.37-15l.36 32l.36-19l.37-4l.36-1l.36-13l.37 14l.36 17l.36 3l.37-16l.36-3l.36 46l.37-19l.36-25l.36 14l.37 14l.36 1l.37-7l.36-17l.36-17l.37 18l.36 16l.36 16l.37-40l.36 14l.36-10l.37-5l.36 32l.36-41l.37 33l.36-21l.36 17l.37 9l.36-14l.36-28l.37 43l.36-13l.36 4l.37 4l.36-27l.36 3l.37 11l.36 19l.36-47l.37 56l.36-41l.36 9l.37-18l.36 3l.36 32l.37 2l.36-11l.36-19l.37 5l.36 14l.36-24l.37 27l.36 3l.37 14l.36-7l.36-22l.37 5l.36-15l.36 24l.37-20l.36 4l.36-24l.37 28l.36-11l.36 0l.37 17l.36-5l.36-14l.37 21l.36 6l.36 5l.37-3l.36-18l.36 8l.37-17l.36 25l.36-23l.37 15l.36 17l.36-46l.37 37l.36-19l.36-11l.37-6l.36 49l.36-50l.37 33l.36-19l.36-8l.37 24l.36-13l.37 20l.36 3l.36-1l.37-10l.36 0l.36 1l.37 15l.36-12l.36 0l.37-10l.36 28l.36-4l.37-20l.36-15l.36 28l.37 6l.36-24l.36-2l.37 0l.36 18l.36-27l.37 19l.36 16l.36-38l.37-4l.36 32l.36-28l.37 8l.36 22l.36 2l.37-25l.36 23l.36 17l.37-29l.36-15l.36 2l.37 31l.36-7l.37-19l.36 2l.36 18l.37 25l.36-43l.36-8l.37 4l.36 27l.36-13l.37 13l.36 7l.36-33l.37 32l.36-21l.36 18l.37-26l.36 8l.36 9l.37-18l.36 29l.36-6l.37-9l.36 7l.36-13l.37 10l.36-19l.36-14l.37 27l.36-26l.36 6l.37-4l.36 27l.36-31l.37 31l.36 1l.36-20l.37 11l.36 12l.36-18l.37-2l.36 26l.37-27l.36 17l.36 4l.37-30l.36 15l.36-7l.37-1l.36 23l.36-19l.37 12l.36-16l.36-17l.37 20l.36-6l.36-5l.37 22l.36 12l.36-4l.37-30l.36 28l.36-21l.37 22l.36 6l.36-22l.37-8l.36 16l.36 10l.37 16l.36-46l.36 40l.37-40l.36 6l.36 13l.37 8l.36-30l.36 19l.37 11l.36-19l.37 33l.36-41l.36 43l.37-43l.36 30l.36-20l.37 8l.36 22l.36-23l.37 28l.36-41l.36 27l.37-25l.36 2l.36 21l.37-7l.36 4l.36-1l.37-1l.36 6l.36-11l.37 4l.36 15l.36 8l.37-32l.36 13l.36 20l.37-22l.36 8l.36-46l.37 60l.36-19l.36-20l.37 8l.36 18l.36-23l.37 21l.36-30l.36 31l.37-8l.36 4l.37-7l.36 3l.36-11l.37 12l.36-25l.36 2l.37-5l.36 32l.36-30l.37 21l.36 4l.36-1l.37-27l.36 37l.36 2l.37-22l.36 11l.36-12l.37-8l.36 34l.36-15l.37 2l.36-16l.36 22l.37 12l.36-31l.36 14l.37-8l.36-1l.36 9l.37-14l.36 0l.36 1l.37-2l.36 15l.36 11l.37-11l.36 11l.37-21l.36-3l.36 0l.37 26l.36-28l.36 27l.37 17l.36-16l.36 4l.37-26l.36-5l.36 9l.37-3l.36 6l.36-6l.37 22l.36 17l.36-40l.37 39l.36-4l.36-3l.37-30l.36 13l.36 5l.37-13l.36 5l.36 20l.37 9l.36-12l.36-19l.37 0l.36 20l.36 9l.37-1l.36 0l.36-23l.37 24l.36-32l.36 37l.37-27l.36 6l.37-8l.36 43l.36-10l.37-39l.36 4l.36 39l.37-41l.36 2l.36 13l.37 8l.36 5l.36-7l.37 22l.36-19l.36 9l.37 0l.36 1l.36 10l.37-16l.36 4l.36-19l.37 9l.36 18l.36-20l.37 15l.36-25l.36-7l.37 13l.36 5l.36 4l.37 13l.36-33l.36 14l.37-14l.36 32l.36-13l.37-6l.36 7l.37-20l.36-7l.36 29l.37 7l.36-34l.36 7l.37 14l.36 14l.36-31l.37 15l.36-2l.36 9l.37 5l.36-41l.36 13l.37-3l.36 10l.36 22l.37 4l.36-8l.36-19l.37-9l.36 41l.36-4l.37-21l.36 17l.36-17l.37 3l.36-9l.36 8l.37-15l.36 8l.36 17l.37-13l.36 4l.36-13l.37 28l.36 15l.37-28l.36 3l.36 13l.37-13l.36 10l.36-26l.37 12l.36 27l.36-17l.37 4l.36 10l.36-16l.37-10l.36 21l.36-29l.37 6l.36 0l.36 28l.37-42l.36 8l.36 17l.37 8l.36 7l.36-1l.37-13l.36-2l.36 8l.37-15l.36 16l.36-22l.37-2l.36 5l.36-13l.37 38l.36-32l.36 6l.37 3l.36 26l.36-17l.37-17l.36 0l.37 16l.36-20l.36 51l.37-35l.36 3l.36-2l.37-8l.36-6l.36 22l.37 4l.36 19l.36-45l.37 25l.36-13l.36 17l.37-9l.36-23l.36 37l.37-12l.36-11l.36 21l.37-36l.36 19l.36 2l.37-12l.36 7l.36 23l.37-29l.36 10l.36-17l.37 12l.36-3l.36 14l.37-22l.36 32l.36-33l.37 33l.36-24"/>
<polygon points="362.0,1132.6 385.7,1091.5 338.3,1091.5" fill="#ff00ff"/>
<polygon points="571.1,1084.5 594.8,1043.4 547.4,1043.4" fill="#ff00ff"/>
<polygon points="779.1,1076.1 802.8,1035.0 755.4,1035.0" fill="#ff00ff"/>
<polygon points="987.5,1049.8 1011.2,1008.8 963.8,1008.8" fill="#ff00ff"/>
<polygon points="1196.5,980.0 1220.2,938.9 1172.8,938.9" fill="#ff00ff"/>
<polygon points="1405.0,972.2 1428.7,931.2 1381.3,931.2" fill="#ff00ff"/>
<polygon points="1613.8,947.6 1637.5,906.5 1590.1,906.5" fill="#ff00ff"/>
<polygon points="1822.5,901.4 1846.2,860.3 1798.8,860.3" fill="#ff00ff"/>
<polygon points="2031.0,855.9 2054.7,814.9 2007.3,814.9" fill="#ff00ff"/>
</g>
<g>
<path class="ln" stroke="#008000" d="M362.00,1110.0l.36-4l.37-4l.36 3l.36 2l.37 7l.36-4l.36-3l.37 1l.36-6l.36 0l.37 7l.36-5l.36 1l.37 0l.36-2l.36 9l.37-7l.36 6l.36-8l.37 1l.36 6l.37-5l.36-2l.36 5l.37 16l.36-8l.36-16l.37 2l.36 21l.36-20l.37 0l.36-1l.36 21l.37-24l.36 24l.36-20l.37 26l.36-10l.36-4l.37 20l.36-7l.36 9l.37-26l.36 7l.36-1l.37 23l.36-8l.36-13l.37-21l.36 26l.36-18l.37-1l.36 32l.36-11l.37-16l.36 27l.36-17l.37 7l.36-17l.37 26l.36-19l.36-10l.37 19l.36-5l.36-7l.37 10l.36-17l.36 4l.37 28l.36-18l.36 6l.37 3l.36-3l.36 0l.37 3l.36-1l.36 4l.37-9l.36-6l.36 15l.37 5l.36-7l.36-3l.37 8l.36 1l.36-19l.37 27l.36-5l.36-17l.37-5l.36 19l.36-7l.37-16l.36 36l.36-8l.37-1l.36-7l.36-8l.37 0l.36 21l.37-1l.36-9l.36 15l.37-17l.36-6l.36 5l.37-16l.36-12l.36 42l.37-23l.36 0l.36 4l.37 26l.36-29l.36 12l.37-6l.36 22l.36-17l.37-9l.36 6l.36-6l.37 11l.36-12l.36 10l.37-14l.36 6l.36 12l.37-10l.36-4l.36 2l.37-6l.36 3l.36 16l.37 5l.36-8l.36-17l.37 4l.36 10l.37 10l.36 11l.36-11l.37-21l.36 33l.36-3l.37-11l.36 6l.36-2l.37 3l.36 8l.36-7l.37 19l.36-39l.36 10l.37-6l.36 17l.36-27l.37 20l.36-7l.36 24l.37-29l.36 22l.36-1l.37-30l.36 24l.36 7l.37-18l.36 1l.36 4l.37-15l.36 20l.36-6l.37-9l.36 24l.36-6l.37 4l.36 16l.37-36l.36 2l.36 0l.37 1l.36 4l.36-19l.37 30l.36 1l.36-7l.37 12l.36-20l.36 4l.37 16l.36-11l.36-15l.37 27l.36-15l.36 1l.37-14l.36 8l.36 9l.37 2l.36 6l.36 6l.37-22l.36-5l.36 20l.37-22l.36 25l.36-12l.37-15l.36 13l.36-4l.37-1l.36-1l.36 9l.37 9l.36-10l.36 2l.37 3l.36 13l.37-9l.36-31l.36 24l.37 5l.36-15l.36 25l.37-17l.36 22l.36-30l.37 10l.36-13l.36 19l.37 0l.36-3l.36-11l.37 7l.36-3l.36 15l.37 1l.36-23l.36 16l.37 15l.36-8l.36-18l.37 11l.36-12l.36-5l.37 25l.36-27l.36 13l.37-2l.36 7l.36 7l.37 1l.36-11l.36-5l.37 0l.36-1l.37 13l.36-14l.36 19l.37-14l.36 18l.36-6l.37-5l.36 2l.36-9l.37 15l.36-21l.36-9l.37 25l.36-13l.36-1l.37-1l.36-1l.36-5l.37 12l.36 15l.36-23l.37 0l.36 5l.36 12l.37-30l.36 16l.36 13l.37-12l.36 25l.36-31l.37 12l.36 21l.36-28l.37 10l.36 6l.36-17l.37 18l.36-27l.36 0l.37 17l.36-6l.37 4l.36 5l.36-4l.37-1l.36 9l.36 0l.37-8l.36 8l.36-12l.37-17l.36 16l.36-5l.37 29l.36-6l.36-32l.37 24l.36-9l.36 5l.37 5l.36 3l.36 4l.37-25l.36 12l.36 6l.37 8l.36-14l.36 1l.37-1l.36-19l.36 6l.37 23l.36-15l.36 5l.37 7l.36-11l.36 12l.37-14l.36 6l.37 3l.36-1l.36 12l.37-15l.36 1l.36 7l.37-22l.36 11l.36-5l.37 11l.36-15l.36-2l.37 14l.36-7l.36 21l.37-6l.36-11l.36 2l.37-11l.36 11l.36 4l.37 0l.36-23l.36 0l.37 30l.36-13l.36-12l.37 22l.36 7l.36-4l.37-20l.36 10l.36 5l.37-29l.36 23l.36 1l.37-24l.36 22l.36 12l.37-12l.36-9l.37 10l.36-16l.36 21l.37 10l.36-30l.36 7l.37 17l.36-8l.36 17l.37-23l.36 5l.36-3l.37-3l.36 3l.36 17l.37-32l.36 16l.36-11l.37 8l.36-4l.36 8l.37-16l.36 23l.36-7l.37-5l.36 19l.36 3l.37-19l.36 4l.36-10l.37-2l.36 32l.36-33l.37 12l.36 7l.36-4l.37 9l.36-19l.37 7l.36 14l.36-27l.37 18l.36 0l.36-17l.37 9l.36 1l.36 21l.37-22l.36-10l.36 1l.37 26l.36-3l.36-6l.37-19l.36 3l.36 20l.37-10l.36-15l.36 17l.37 8l.36-20l.36 11l.37 5l.36-12l.36 12l.37-9l.36 11l.36 2l.37-19l.36 17l.36-24l.37 30l.36 2l.36-5l.37-19l.36-13l.37 8l.36 22l.36 2l.37-16l.36 5l.36 3l.37-1l.36 10l.36-16l.37-1l.36-6l.36 6l.37-4l.36 1l.36-1l.37 0l.36 18l.36 8l.37-10l.36-11l.36-3l.37 6l.36 10l.36-5l.37-4l.36 11l.36-10l.37 5l.36-13l.36-7l.37 24l.36-14l.36 23l.37-22l.36-8l.36 16l.37 17l.36-19l.36 2l.37 5l.36-6l.37-18l.36 16l.36-8l.37 1l.36 7l.36-8l.37 10l.36 8l.36-25l.37-4l.36 12l.36-8l.37 25l.36-24l.36 33l.37-24l.36 1l.36 7l.37 2l.36-16l.36 16l.37 4l.36-7l.36-8l.37-7l.36 6l.36 20l.37-15l.36 12l.36-8l.37 12l.36-6l.36-11l.37-5l.36 3l.36-1l.37 3l.36 3l.37-13l.36 2l.36 2l.37-4l.36 5l.36 1l.37-10l.36 11l.36-5l.37 14l.36 13l.36-27l.37 5l.36 5l.36 16l.37-19l.36 16l.36-15l.37 12l.36-11l.36 12l.37-6l.36-11l.36 0l.37 21l.36-5l.36-24l.37-1l.36 20l.36-19l.37 31l.36-2l.36-21l.37 24l.36-15l.36-12l.37 12l.36 9l.36-17l.37 11l.36-6l.37-13l.36 20l.36 0l.37 4l.36 0l.36-9l.37-15l.36-2l.36 23l.37-14l.36 0l.36 1l.37-7l.36 9l.36 12l.37-6l.36 15l.36-22l.37-12l.36 10l.36-16l.37 19l.36-10l.36 3l.37 2l.36 12l.36-8l.37-1l.36 19l.36-17l.37 11l.36-29l.36 35l.37-19l.36 0l.36 5l.37 12l.36-6l.37 9l.36-9l.36-2l.37 6l.36-10l.36 12l.37 3l.36-5l.36 6l.37-20l.36 4l.36 1l.37-2l.36 18l.36-17l.37-4l.36-7l.36 0l.37 4l.36 21l.36-13l.37-16l.36 19l.36-20l.37 28l.36-21l.36-7l.37-2l.36 34l.36-11l.37-1l.36-8l.36 1l.37-11l.36 18l.36 6l.37-15l.36 11l.36 8l.37-8l.36-24l.37 7l.36 29l.36-10l.37 1l.36 10l.36-4l.37-14l.36 5l.36-12l.37 6l.36 10l.36-25l.37 11l.36 18l.36-1l.37-2l.36 0l.36-10l.37-21l.36 26l.36-4l.37 8l.36-16l.36 17l.37-3l.36 8l.36-1l.37-14l.36 3l.36-13l.37 18l.36-17l.36-6l.37 19l.36-12l.36-7l.37 6l.36 7l.37-6l.36 0l.36 11l.37-2l.36 9l.36-4l.37 13l.36-29l.36 13l.37 4l.36 11l.36-14l.37-16l.36 27l.36-21l.37-6l.36 29l.36-11l.37-20l.36 21l.36-20l.37 12l.36 2l.36-13l.37-10l.36 18l.36-9l.37 15l.36 3l.36 3l.37-21l.36 4l.36 3l.37 6l.36 3l.36-8l.37-5l.36-1l.37 17l.36-23l.36 16l.37-10l.36-8l.36 18l.37 4l.36 11l.36-15l.37 10l.36 0l.36-8l.37-10l.36 0l.36 16l.37-12l.36-5l.36 1l.37 23l.36 3l.36-4l.37-8l.36-5l.36 6l.37-14l.36 15l.36-18l.37-9l.36 10l.36 7l.37 10l.36-20l.36 15l.37-5l.36 3l.36 16l.37-22l.36 14l.36-2l.37 8l.36-34l.37 12l.36 10l.36-1l.37 11l.36-7l.36-17l.37 13l.36-9l.36 17l.37-25l.36-13l.36 35l.37-14l.36 8l.36 5l.37 7l.36-27l.36 30l.37-10l.36-11l.36 18l.37-22l.36-2l.36-5l.37-3l.36 28l.36-5l.37 9l.36 4l.36-30l.37 11l.36 1l.36-15l.37 13l.36 5l.36-2l.37-5l.36-15l.37 19l.36-8l.36-5l.37-6l.36 22l.36 16l.37-8l.36 4l.36-4l.37-16l.36 10l.36 9l.37-3l.36-25l.36 13l.37 2l.36 13l.36-25l.37-4l.36 32l.36-4l.37-24l.36 2l.36 20l.37-7l.36 8l.36-13l.37-13l.36 8l.36 8l.37 1l.36 3l.36 9l.37-25l.36 19l.36-15l.37 2l.36-3l.36 5l.37 1l.36 11l.37 6l.36-37l.36-2l.37 10l.36 24l.36-15l.37-1l.36 18l.36-4l.37-16l.36-1l.36 20l.37-12l.36-14l.36 22l.37-24l.36 19l.36 13l.37-11l.36-22l.36 5l.37 2l.36 5l.36 9l.37 13l.36-7l.36-15l.37-3l.36 17l.36-13l.37 6l.36 4l.36-14l.37-1l.36 21l.36-14l.37-19l.36 24l.37-7l.36-6l.36-1l.37 25l.36-13l.36 15l.37-25l.36 30l.36-15l.37 6l.36-15l.36-11l.37-5l.36 16l.36-17l.37 23l.36 14l.36-11l.37-9l.36 10l.36-12l.37-8l.36 12l.36-12l.37 4l.36 36l.36-41l.37 27l.36-25l.36-1l.37-1l.36 0l.36 0l.37 0l.36 21l.36 6l.37-22l.36-4l.36 4l.37 0l.36 23l.37-7l.36 12l.36-18l.37 7l.36-3l.36-3l.37-13l.36 20l.36 2l.37-2l.36-2l.36-21l.37 16l.36-14l.36 5l.37 18l.36-12l.36-13l.37 18l.36-1l.36-9l.37-2l.36 0l.36 7l.37 0l.36-5l.36-2l.37 15l.36 5l.36-10l.37 9l.36-7l.36-20l.37 7l.36 7l.36-16l.37 7l.36 1l.37 2l.36 18l.36-4l.37 12l.36-9l.36-20l.37-1l.36-8l.36 29l.37-19l.36 5l.36 14l.37-3l.36-14l.36-6l.37 9l.36 24l.36-11l.37-19l.36 14l.36 0l.37 7l.36-23l.36 0l.37-6l.36 22l.36 8l.37 10l.36-37l.36 13l.37 22l.36-30l.36 18l.37 3l.36-13l.36 9l.37-15l.36 17l.37-30l.36 3l.36 31l.37-29l.36 21l.36 0l.37 8l.36-11l.36 2l.37 3l.36-16l.36 22l.37-9l.36-3l.36 24l.37-23l.36 20l.36-22l.37 14l.36 7l.36-2l.37 10l.36-36l.36 12l.37 2l.36 12l.36 5l.37-7l.36-8l.36 1l.37 20l.36-3l.36-21l.37 22l.36-14l.36-5l.37 5l.36 18l.36-10l.37 3l.36 16l.37-3l.36-6l.36 16l.37-29l.36 2l.36 8l.37 2l.36-16l.36 2l.37-6l.36 14l.36-6l.37 2l.36 20l.36 1l.37-12l.36 12l.36-1l.37-2l.36 15l.36-10l.37 5l.36 7l.36-24l.37 15l.36-8l.36 11l.37-9l.36-6l.36 25l.37-6l.36-5l.36 8l.37-9l.36-12l.36 17l.37 11l.36-24l.37 27l.36-1l.36 4l.37-9l.36-7l.36-13l.37-3l.36 23l.36 9l.37-24l.36-12l.36 22l.37 7l.36 2l.36-19l.37 10l.36-3l.36 5l.37-14l.36 4l.36 2l.37 19l.36-13l.36 13l.37-4l.36-17l.36 0l.37 11l.36-15l.36 25l.37 5l.36-16l.36 4l.37 9l.36 1l.36-2l.37-2l.36-3l.36 2l.37 1l.36-2l.37 0l.36 5l.36-7l.37 14l.36-15l.36 18l.37-7l.36-28l.36 17l.37 3l.36-19l.36 5l.37 0l.36 14l.36 2l.37-14l.36 3l.36 4l.37 11l.36-3l.36 3l.37 2l.36 6l.36-21l.37 6l.36-10l.36 21l.37-3l.36-6l.36 10l.37-13l.36-8l.36 5l.37 4l.36 3l.36-26l.37 12l.36 21l.37-10l.36-1l.36-4l.37-3l.36 7l.36 1l.37-12l.36 4l.36 19l.37-1l.36-6l.36-16l.37 24l.36-15l.36-6l.37 11l.36 5l.36-8l.37 2l.36 9l.36 2l.37-16l.36 2l.36-21l.37 6l.36 9l.36 2l.37-3l.36-11l.36 15l.37 4l.36-14l.36 7l.37 13l.36-2l.36-24l.37 20l.36 12l.36 4l.37-7l.36-13l.37-10l.36 22l.36-20l.37-7l.36 23l.36-15l.37-10l.36 16l.36 10l.37-27l.36 17l.36-5l.37 2l.36 7l.36 7l.37-4l.36-13l.36 31l.37-28l.36 6l.36-12l.37 0l.36 3l.36 9l.37 11l.36-15l.36 6l.37-14l.36 26l.36-11l.37-3l.36-13l.36 18l.37-3l.36 2l.36 2l.37 7l.36-29l.37 9l.36 3l.36-4l.37 3l.36-3l.36 10l.37-1l.36 5l.36-2l.37-18l.36 25l.36 8l.37-40l.36 27l.36-24l.37 16l.36 18l.36-14l.37-10l.36 13l.36-21l.37 20l.36 6l.36-2l.37-22l.36 17l.36 3l.37 5l.36-3l.36-10l.37-7l.36 9l.36 7l.37-16l.36 7l.36-19l.37 11l.36 25l.37-22l.36 2l.36 10l.37 6l.36-21l.36 11l.37 3l.36-18l.36 23l.37-21l.36-1l.36 10l.37-2l.36 13l.36-15l.37 11l.36 1l.36 5l.37-22l.36-6l.36 4l.37 2l.36 3l.36 4l.37-10l.36 8l.36 2l.37 2l.36 8l.36 13l.37-32l.36 23l.36-28l.37 24l.36-17l.36 1l.37 10l.36 0l.36 14l.37-7l.36-17l.37 3l.36 14l.36-3l.37 7l.36-15l.36 1l.37 15l.36-14l.36-6l.37-4l.36-3l.36 19l.37-3l.36-16l.36 26l.37-3l.36-18l.36 19l.37-23l.36 5l.36 22l.37-6l.36 1l.36-9l.37 9l.36 4l.36-23l.37 21l.36 0l.36-5l.37 4l.36-16l.36 2l.37 27l.36-15l.36-13l.37 6l.36 0l.37 3l.36 15l.36-13l.37-13l.36 8l.36-8l.37 3l.36 17l.36-31l.37 4l.36 8l.36 16l.37-13l.36 17l.36 1l.37-4l.36-18l.36 23l.37-18l.36 7l.36-5l.37 0l.36-5l.36 14l.37-2l.36-4l.36-4l.37-4l.36-7l.36 28l.37-24l.36-1l.36 10l.37-3l.36-3l.36-6l.37 25l.36 10l.36-7l.37-5l.36 0l.37-18l.36 4l.36 16l.37-20l.36-12l.36 39l.37-31l.36 20l.36 6l.37-22l.36 0l.36-8l.37 26l.36-2l.36-26l.37 7l.36 23l.36 3l.37-16l.36-8l.36 11l.37-11l.36 22l.36-10l.37 12l.36-28l.36 21l.37-10l.36 10l.36-5l.37-18l.36 3l.36 15l.37-2l.36 7l.36 5l.37-15l.36-10l.37 11l.36-8l.36 22l.37-18l.36 16l.36 5l.37-3l.36-31l.36 36l.37-37l.36 26l.36-5l.37-3l.36 16l.36-19l.37-1l.36 4l.36 7l.37-3l.36 9l.36-13l.37 12l.36-17l.36-15l.37 27l.36-3l.36 1l.37 5l.36-4l.36-1l.37 9l.36-4l.36 0l.37-15l.36 8l.36-8l.37 10l.36-4l.36 8l.37-17l.36 6l.37 2l.36 11l.36-18l.37 15l.36 18l.36-11l.37-28l.36 11l.36-15l.37 17l.36 9l.36-1l.37-26l.36 19l.36-12l.37 9l.36 3l.36-16l.37 32l.36 6l.36-14l.37-21l.36-2l.36 2l.37 19l.36-16l.36 9l.37-11l.36-1l.36 16l.37 5l.36-14l.36-7l.37 14l.36 4l.36-15l.37 20l.36-8l.37-10l.36 14l.36 3l.37-5l.36 4l.36-12l.37 16l.36-10l.36-1l.37 6l.36-4l.36-11l.37 5l.36 20l.36-9l.37-4l.36-21l.36 32l.37-25l.36 12l.36 11l.37-21l.36 18l.36-19l.37 20l.36-2l.36 4l.37-9l.36 11l.36-2l.37-18l.36-2l.36 20l.37-12l.36-9l.36 20l.37-29l.36 13l.37 19l.36-29l.36 27l.37-1l.36-13l.36-8l.37 7l.36-5l.36 8l.37-6l.36-13l.36 15l.37 12l.36-13l.36-5l.37 18l.36-18l.36-15l.37 44l.36-24l.36 8l.37 5l.36-4l.36 5l.37 14l.36-31l.36 23l.37-7l.36-8l.36-8l.37 2l.36 15l.36-15l.37-5l.36 5l.36 1l.37 3l.36-7l.36 9l.37 6l.36 13l.37-22l.36 5l.36 7l.37-4l.36 0l.36-8l.37 11l.36 16l.36-22l.37-2l.36 7l.36-13l.37 5l.36 4l.36-15l.37 28l.36-4l.36-18l.37-5l.36 5l.36 5l.37 13l.36 2l.36-23l.37 12l.36 6l.36-2l.37-5l.36-6l.36 10l.37-6l.36-1l.36-4l.37 16l.36-18l.36 20l.37 2l.36-11l.37 3l.36 3l.36-1l.37 3l.36-18l.36 13l.37-24l.36 23l.36-9l.37 13l.36-19l.36 20l.37-18l.36-2l.36 5l.37 5l.36 6l.36 9l.37-19l.36-5l.36 6l.37 15l.36-6l.36-9l.37 20l.36-17l.36 0l.37-5l.36 14l.36-22l.37 30l.36-15l.36-1l.37 12l.36-25l.36 9l.37 5l.36-9l.36 7l.37-9l.36 10l.37 0l.36 2l.36 18l.37-35l.36 9l.36 11l.37-9l.36 5l.36-5l.37 6l.36 8l.36-12l.37 12l.36-16l.36-4l.37 24l.36-5l.36 3l.37-19l.36 3l.36 5l.37 12l.36-29l.36 21l.37-5l.36 11l.36-8l.37 15l.36-13l.36 1l.37-5l.36-15l.36 13l.37-10l.36 9l.36 8l.37-3l.36-10l.37 9l.36 20l.36-25l.37-3l.36 15l.36-13l.37 14l.36-13l.36-7l.37 18l.36-6l.36 7l.37-11l.36-1l.36-21l.37 23l.36 5l.36 2l.37-1l.36 6l.36 4l.37-18l.36 11l.36-21l.37 24l.36-7l.36-2l.37 0l.36 14l.36-16l.37 20l.36-9l.36-32l.37 20l.36 13l.36-12l.37-2l.36 10l.36 3l.37-20l.36 19l.37-25l.36 17l.36 8l.37-19l.36 14l.36-6l.37-11l.36 11l.36 12l.37-7l.36-15l.36 6l.37 17l.36 4l.36-12l.37 16l.36-24l.36 18l.37-4l.36 7l.36-16l.37 5l.36-10l.36 32l.37-16l.36-6l.36 1l.37-16l.36 9l.36 11l.37 20l.36 2l.36 3l.37-11l.36 3l.36 8l.37-10l.36-9l.37-1l.36 0l.36 7l.37 15l.36-14l.36-4l.37 26l.36-24l.36 22l.37-2l.36 0l.36-3l.37 3l.36-11l.36 10l.37-18l.36 9l.36 18l.37-1l.36-15l.36 5l.37 7l.36-17l.36 10l.37-6l.36 14l.36 14l.37-7l.36-17l.36 9l.37 5l.36 5l.36-24l.37 34l.36 5l.36-12l.37-21l.36-1l.37 31l.36-4l.36 7l.37-18l.36 18l.36-2l.37-9l.36 11l.36-8l.37-16l.36 16l.36 13l.37-9l.36-1l.36 11l.37-14l.36 12l.36 3l.37-9l.36 4l.36 10l.37-27l.36 2l.36 28l.37 4l.36-1l.36-24l.37 19l.36-8l.36-5l.37 6l.36 3l.36-2l.37-6l.36 16l.36 1l.37-2l.36-5l.36-3l.37 0l.36-5l.37 10l.36-6l.36 9l.37 2l.36-7l.36-10l.37-6l.36 24l.36-11l.37-1l.36 0l.36 11l.37-7l.36 0l.36 7l.37-23l.36 8l.36 19l.37-14l.36-6l.36 18l.37 3l.36-18l.36 3l.37-3l.36 13l.36-15l.37 8l.36 16l.36-16l.37-6l.36 3l.36-4l.37 26l.36-23l.36 16l.37-11l.36 4l.37-4l.36-8l.36 19l.37-17l.36 5l.36-16l.37 5l.36 18l.36-6l.37-21l.36 19l.36-5l.37 1l.36 11l.36 5l.37 1l.36-3l.36 0l.37-19l.36 7l.36 19l.37-18l.36 25l.36-27l.37 2l.36-16l.36 13l.37 14l.36-15l.36 22l.37-7l.36 0l.36 4l.37-13l.36-6l.36 10l.37-17l.36 32l.36-5l.37-8l.36-16l.37 1l.36 7l.36 4l.37-6l.36-5l.36 4l.37 0l.36 22l.36-20l.37 1l.36 9l.36-5l.37-2l.36 10l.36-21l.37 12l.36 9l.36-2l.37-2l.36 5l.36-16l.37 12l.36-7l.36 6l.37-15l.36-1l.36 9l.37-9l.36 10l.36 14l.37-4l.36-17l.36 18l.37-16l.36 8l.36-9l.37-6l.36-1l.37-1l.36 13l.36 16l.37-20l.36 9l.36-7l.37 9l.36 1l.36-14l.37-5l.36 6l.36-4l.37 26l.36-21l.36 2l.37-4l.36-6l.36 7l.37-2l.36 9l.36 6l.37-2l.36 4l.36-9l.37 8l.36-16l.36 4l.37-13l.36 23l.36-23l.37 2l.36 24l.36 5l.37-17l.36 11l.36 2l.37 3l.36-5l.36-5l.37-13l.36 16l.37-15l.36-11l.36 8l.37 22l.36-24l.36 22l.37-15l.36 10l.36-26l.37 37l.36-14l.36-11l.37 2l.36 6l.36 1l.37 2l.36 9l.36-9l.37-7l.36-21l.36 19l.37 0l.36-7l.36 17l.37 3l.36-19l.36 16l.37-23l.36 17l.36-14l.37 17l.36-12l.36 16l.37 4l.36-20l.36 17l.37-30l.36 21l.37-5l.36 2l.36 6l.37 1l.36-4l.36-19l.37 15l.36 7l.36 1l.37-11l.36-4l.36 12l.37-6l.36 14l.36 6l.37-28l.36 27l.36-6l.37-6l.36 5l.36-1l.37 3l.36-3l.36-17l.37 13l.36 11l.36-12l.37 1l.36-7l.36 2l.37-1l.36 22l.36-17l.37-14l.36 10l.36-9l.37 10l.36-1l.37-8l.36 2l.36 18l.37-22l.36 3l.36 4l.37 2l.36 0l.36 14l.37 6l.36-26l.36 19l.37-22l.36 10l.36 9l.37-17l.36-5l.36 19l.37-8l.36-13l.36 10l.37 11l.36-3l.36-1l.37-12l.36-3l.36 20l.37-7l.36 1l.36-9l.37 21l.36 3l.36-30l.37 11l.36 16l.36 4l.37-17l.36 0l.36-6l.37 13l.36-5l.37-5l.36 17l.36 3l.37-12l.36 8l.36-28l.37 29l.36-11l.36-6l.37 22l.36-9l.36-2l.37 10l.36-9l.36 5l.37 2l.36-21l.36 10l.37-10l.36 19l.36-1l.37-4l.36 8l.36 2l.37-12l.36-4l.36 23l.37-20l.36 11l.36-28l.37 11l.36 3l.36-8l.37 11l.36 2l.36-4l.37-1l.36-1l.37 1l.36-8l.36 14l.37 1l.36-18l.36 31l.37-31l.36 19l.36-23l.37 31l.36-23l.36 19l.37-18l.36-9l.36 8l.37 9l.36 10l.36-14l.37-13l.36 23l.36 9l.37-23l.36 18l.36 1l.37-5l.36-8l.36 6l.37-1l.36-3l.36 5l.37 17l.36-28l.36 5l.37-15l.36 19l.36-1l.37 6l.36-1l.36-4l.37-14l.36-1l.37-3l.36 29l.36-8l.37 10l.36 5l.36-29l.37 1l.36-3l.36 7l.37 24l.36-32l.36 24l.37-14l.36-9l.36 7l.37-3l.36 4l.36-4l.37 1l.36 11l.36-15l.37 28l.36-31l.36 22l.37 0l.36-4l.36 1l.37-6l.36-9l.36 5l.37 4l.36-11l.36 23l.37-11l.36 0l.36 3l.37-8l.36 21l.37-8l.36-1l.36-17l.37 17l.36 1l.36 6l.37 4l.36-12l.36 7l.37-16l.36 12l.36-15l.37-3l.36 23l.36-3l.37-18l.36 2l.36-1l.37 21l.36-3l.36 1l.37-2l.36-1l.36-11l.37 18l.36-23l.36 25l.37-15l.36-5l.36 12l.37-13l.36 13l.36-7l.37-4l.36 19l.36 5l.37-38l.36 14l.36 6l.37 1l.36-2l.37 11l.36-4l.36 4l.37-13l.36 9l.36-3l.37-11l.36 9l.36 21l.37-13l.36 3l.36-1l.37-13l.36 18l.36-3l.37-15l.36 9l.36 2l.37-1l.36 7l.36-8l.37-11l.36 15l.36-5l.37 14l.36-24l.36 8l.37 1l.36-8l.36 1l.37 15l.36-10l.36-3l.37 21l.36-14l.36 12l.37-9l.36-18l.37 21l.36 1l.36-13l.37 16l.36-19l.36 14l.37-1l.36-19l.36 10l.37-10l.36 8l.36-2l.37 16l.36-22l.36 15l.37 1l.36-11l.36 1l.37-5l.36 10l.36 14l.37-24l.36 16l.36-7l.37 22l.36-32l.36 36l.37-11l.36-13l.36 13l.37-3l.36 3l.36-3l.37 12l.36-25l.36-10l.37 10l.36 0l.37-1l.36 3l.36 17l.37 2l.36-19l.36 7l.37-1l.36 9l.36 19l.37-47l.36 33l.36 6l.37-6l.36-2l.36-9l.37-6l.36-5l.36 1l.37 22l.36-10l.36 6l.37 2l.36-13l.36-3l.37 12l.36-8l.36-16l.37 32l.36-21l.36 20l.37 1l.36-18l.36-5l.37-2l.36 14l.36-9l.37 27l.36-19l.36-5l.37 12l.36-11l.37 5l.36 4l.36-18l.37 7l.36-6l.36 10l.37-7l.36 25l.36-14l.37-16l.36 10l.36 4l.37 5l.36-3l.36 3l.37-8l.36-8l.36 19l.37-12l.36-2l.36 7l.37 0l.36-6l.36-2l.37-5l.36 0l.36 13l.37 20l.36-18l.36-15l.37 7l.36-8l.36 8l.37 11l.36-20l.36 12l.37-6l.36-15l.37 16l.36 8l.36 4l.37 2l.36-19l.36 9l.37-3l.36 15l.36-26l.37 2l.36 10l.36 8l.37-9l.36 8l.36 4l.37-12l.36-15l.36 25l.37-15l.36 10l.36 5l.37-3l.36-15l.36-7l.37 16l.36-9l.36 18l.37-10l.36-3l.36 0l.37 2l.36-9l.36-2l.37 19l.36-14l.36 4l.37-4l.36 16l.36-12l.37 17l.36-1l.37-3l.36-19l.36 9l.37-9l.36 0l.36 12l.37-16l.36 25l.36-14l.37-5l.36 12l.36-15l.37 25l.36-19l.36 2l.37-9l.36 22l.36-7l.37 3l.36-21l.36 5l.37 17l.36-5l.36-6l.37-12l.36 17l.36-6l.37 6l.36-5l.36 4l.37-15l.36-3l.36-1l.37 6l.36 7l.36-1l.37-4l.36 9l.37-4l.36 13l.36-13l.37-9l.36 2l.36-10l.37 25l.36-5l.36-5l.37 2l.36 7l.36-25l.37 14l.36-3l.36 10l.37-12l.36 6l.36 28l.37-12l.36-24l.36 4l.37 6l.36 1l.36-9l.37 19l.36-4l.36 6l.37-24l.36 18l.36-14l.37 9l.36 19l.36-9l.37-13l.36 4l.36-7l.37-1l.36 16l.36 5l.37-33l.36 11l.37 22l.36-23l.36 1l.37-2l.36-2l.36 28l.37-21l.36 2l.36-4l.37 23l.36-18l.36 10l.37-3l.36 3l.36 6l.37-14l.36 10l.36 7l.37-20l.36 14l.36-15l.37 4l.36 9l.36 3l.37-20l.36 0l.36 5l.37 5l.36-6l.36 17l.37-2l.36-1l.36-16l.37 24l.36-20l.36 20l.37-9l.36-2l.37-6l.36 18l.36-16l.37 5l.36 11l.36 10l.37-4l.36-25l.36 22l.37-13l.36 6l.36 19l.37 0l.36-23l.36 11l.37 10l.36-12l.36-2l.37 22l.36 0l.36-18l.37 14l.36-15l.36 38l.37-15l.36 9l.36-19l.37 10l.36 1l.36-6l.37-9l.36 9l.36-14l.37 2l.36 32l.36-3l.37 9l.36-8l.37 4l.36-7l.36 9l.37-1l.36-20l.36 24l.37-7l.36-9l.36 6l.37 10l.36-17l.36 20l.37 3l.36 2l.36-9l.37 0l.36 4l.36-1l.37-12l.36 10l.36-12l.37 11l.36 10l.36 5l.37-2l.36 1l.36-10l.37 6l.36 3l.36-7l.37 11l.36-2l.36 18l.37-19l.36 7l.36 1l.37-4l.36 1l.36 7l.37-22l.36 19l.37-4l.36 8l.36-13l.37 10l.36-15l.36 11l.37 11l.36-12l.36-19l.37 9l.36-2l.36 9l.37 4l.36 7l.36-19l.37 3l.36-4l.36 23l.37-3l.36-4l.36-10l.37-11l.36 18l.36 8l.37-19l.36 18l.36 0l.37-15l.36 13l.36-14l.37 17l.36-22l.36 12l.37-3l.36-4l.36-3l.37 27l.36-25l.37 11l.36-16l.36 4l.37 15l.36-7l.36 2l.37 1l.36-16l.36 13l.37 8l.36 7l.36-15l.37 5l.36 8l.36 2l.37-12l.36-17l.36 23l.37 0l.36-3l.36 12l.37-25l.36 0l.36 5l.37-7l.36 7l.36 6l.37-10l.36 1l.36 19l.37-25l.36 5l.36 6l.37 1l.36-21l.36 6l.37 25l.36-10l.36-2l.37 2l.36-4l.37 14l.36 5l.36-11l.37-10l.36 17l.36-13l.37 6l.36 1l.36-6l.37-18l.36 26l.36-5l.37-12l.36 19l.36-24l.37 6l.36-1l.36 9l.37-10l.36 11l.36-9l.37 8l.36-5l.36 9l.37-12l.36 11l.36-17l.37 21l.36-22l.36 4l.37 7l.36 14l.36-1l.37-21l.36 14l.36-8l.37 16l.36-9l.37 17l.36 1l.36-12l.37-5l.36 6l.36 5l.37-32l.36 12l.36 15l.37-13l.36 12l.36-7l.37 8l.36 9l.36-17l.37-6l.36 0l.36 0l.37 10l.36 4l.36-17l.37 19l.36 1l.36-20l.37 0l.36 7l.36-10l.37 6l.36-6l.36 18l.37 1l.36-10l.36 17l.37-1l.36-22l.36 0l.37 24l.36-7l.36-14l.37 7l.36 19l.37-8l.36-26l.36 20l.37-5l.36 2l.36 6l.37-22l.36 29l.36-8l.37-11l.36-6l.36 0l.37 3l.36 7l.36 6l.37 2l.36-17l.36 17l.37 5l.36-21l.36-8l.37 24l.36-9l.36 14l.37 4l.36-15l.36-5l.37 9l.36 4l.36-2l.37-13l.36 21l.36-9l.37-14l.36 9l.36 18l.37-14l.36-13l.37 23l.36-9l.36-15l.37 10l.36 6l.36 5l.37-2l.36 3l.36-23l.37 13l.36-3l.36 7l.37-15l.36 2l.36 4l.37-11l.36 5l.36 32l.37-14l.36-1l.36-6l.37 7l.36-18l.36 15l.37 0l.36-12l.36-8l.37 7l.36 18l.36-20l.37 8l.36-9l.36 5l.37-5l.36 11l.36-5l.37-2l.36-7l.37 29l.36-25l.36 14l.37-16l.36 7l.36 15l.37-22l.36 2l.36 0l.37 19l.36-6l.36 5l.37-25l.36 20l.36-11l.37 1l.36 10l.36 6l.37 1l.36-18l.36 23l.37-16l.36-10l.36-2l.37 24l.36-14l.36 8l.37 3l.36-5l.36-3l.37-23l.36 10l.36 23l.37 7l.36-33l.36 28l.37 2l.36-22l.36 12l.37-9l.36-1l.37 2l.36-6l.36 12l.37 7l.36 2l.36-18l.37-4l.36 20l.36 1l.37-4l.36-3l.36-7l.37 6l.36-13l.36 16l.37-5l.36 16l.36-18l.37 9l.36-24l.36 14l.37 18l.36-28l.36 10l.37-6l.36 8l.36 14l.37-19l.36 14l.36-6l.37-12l.36 25l.36-29l.37 6l.36 1l.36-2l.37-8l.36 12l.37 5l.36-6l.36 0l.37-1l.36-9l.36 20l.37-11l.36 1l.36-10l.37 28l.36-27l.36 22l.37 4l.36-1l.36 6l.37-12l.36-10l.36 4l.37-4l.36 16l.36-4l.37-8l.36-7l.36 13l.37-10l.36 7l.36-12l.37 18l.36-6l.36-2l.37-9l.36 17l.36 8l.37-18l.36 6l.36 15l.37-27l.36 5l.36 9l.37 8l.36-9l.37 13l.36-24l.36 8l.37-10l.36 0l.36 9l.37-8l.36 12l.36-16l.37 1l.36 25l.36-11l.37-5l.36 21l.36-22l.37 3l.36 11l.36-10l.37 14l.36-18l.36 21l.37-27l.36 15l.36 1l.37 1l.36-23l.36 5l.37 19l.36 7l.36-11l.37 9l.36-12l.36-2l.37 3l.36 15l.36-25l.37 4l.36 1l.37-14l.36 15l.36 4l.37-1l.36 13l.36-27l.37 12l.36-10l.36 12l.37 12l.36-5l.36 4l.37-2l.36 4l.36-13l.37-13l.36 15l.36 3l.37-13l.36 0l.36-4l.37 8l.36-2l.36 18l.37-7l.36-13l.36 8l.37-2l.36 2l.36 5l.37 1l.36 9l.36-25l.37 0l.36 10l.36-6l.37 3l.36-6l.36-4l.37 4l.36 2l.37 9l.36 8l.36-23l.37 24l.36-16l.36 2l.37 19l.36 2l.36-14l.37 13l.36-18l.36-10l.37 19l.36-17l.36 6l.37 2l.36-1l.36 11l.37-17l.36 1l.36 9l.37 5l.36 10l.36-9l.37-26l.36 5l.36 28l.37-9l.36 4l.36-10l.37-9l.36 5l.36 23l.37-8l.36-14l.36 18l.37-14l.36-16l.37 26l.36 3l.36-22l.37 15l.36-9l.36 7l.37 5l.36-19l.36 15l.37-10l.36-3l.36 6l.37-11l.36 14l.36 6l.37-7l.36 3l.36 3l.37-18l.36 0l.36 19l.37 3l.36-14l.36-4l.37 18l.36-6l.36 0l.37 3l.36-9l.36 6l.37-4l.36 16l.36-11l.37-10l.36 7l.36-3l.37-2l.36-7l.37 16l.36-21l.36 2l.37 9l.36 14l.36-5l.37-7l.36 9l.36-2l.37 2l.36-11l.36 9l.37-19l.36 3l.36 4l.37 11l.36-9l.36 1l.37 18l.36-23l.36 3l.37 15l.36 9l.36-3l.37-1l.36-9l.36-6l.37 12l.36-4l.36-2l.37-11l.36 24l.36-25l.37 11l.36-2l.36 10l.37-6l.36 4l.36-10l.37 9l.36-17l.37 22l.36-3l.36-1l.37-3l.36-15l.36 12l.37-10l.36 17l.36-18l.37 21l.36-11l.36 9l.37-12l.36-9l.36 14l.37-10l.36 19l.36 1l.37-3l.36-21l.36 15l.37 2l.36-5l.36-11l.37 12l.36-4l.36-7l.37 17l.36-9l.36-9l.37 4l.36-7l.36 9l.37 8l.36-19l.36 25l.37 4l.36-14l.37 1l.36-11l.36 23l.37-19l.36-6l.36 17l.37-6l.36 5l.36-18l.37 8l.36-2l.36 7l.37 14l.36-26l.36 17l.37 20l.36-12l.36-9l.37-16l.36 1l.36 6l.37 1l.36 0l.36 1l.37-3l.36 6l.36-4l.37 0l.36 12l.36-17l.37 15l.36-9l.36 0l.37-9l.36 11l.36 3l.37 6l.36-4l.36 8l.37-7l.36-1l.37 6l.36-6l.36 1l.37-20l.36 7l.36 26l.37-11l.36 3l.36-11l.37 13l.36-1l.36-8l.37-6l.36-4l.36-2l.37 19l.36-13l.36 20l.37-26l.36 12l.36 7l.37-11l.36 12l.36-3l.37 9l.36-17l.36 1l.37 18l.36-5l.36-22l.37-5l.36 13l.36-9l.37 16l.36-2l.36-18l.37 24l.36-17l.37 0l.36 31l.36-33l.37 16l.36-18l.36 11l.37 10l.36 0l.36-22l.37 9l.36-3l.36 9l.37 3l.36-28l.36 35l.37-16l.36 20l.36-7l.37-11l.36-4l.36 9l.37 12l.36-8l.36 1l.37-8l.36-10l.36 8l.37 8l.36-6l.36 7l.37 9l.36-23l.36 6l.37 18l.36-20l.36 13l.37-6l.36 15l.36 8l.37-4l.36 2l.37-5l.36-26l.36 7l.37 34l.36-34l.36 18l.37-4l.36-7l.36 5l.37 0l.36 20l.36 3l.37-8l.36 8l.36-20l.37 27l.36-16l.36 0l.37 4l.36 7l.36 10l.37-3l.36-8l.36-12l.37 20l.36 7l.36-14l.37 16l.36-7l.36 14l.37-11l.36-4l.36 4l.37 0l.36-10l.36 6l.37 18l.36-8l.37 4l.36 9l.36-13l.37 16l.36 2l.36-11l.37-7l.36-3l.36 18l.37 2l.36 11l.36-22l.37 6l.36 4l.36 2l.37 13l.36-8l.36 1l.37 4l.36 3l.36 5l.37-12l.36 15l.36 2l.37-9l.36 19l.36-15l.37-14l.36 15l.36 12l.37-10l.36-8l.36 12l.37-28l.36 4l.36 3l.37-1l.36 32l.37-35l.36 10l.36-8l.37 16l.36-20l.36 12l.37 0l.36 6l.36-21l.37 12l.36-3l.36 12l.37-9l.36 15l.36-11l.37 2l.36-8l.36 4l.37 11l.36-8l.36-9l.37 25l.36-23l.36 16l.37 3l.36-8l.36-7l.37 4l.36-7l.36 15l.37-10l.36 1l.36-1l.37 7l.36-8l.36-4l.37 13l.36 3l.36-5l.37-16l.36 7l.37 5l.36-15l.36 19l.37 3l.36 11l.36-1l.37-16l.36 10l.36 3l.37-15l.36-11l.36 4l.37-3l.36 10l.36 17l.37 1l.36-13l.36-20l.37 21l.36 5l.36 8l.37-30l.36 16l.36-11l.37 11l.36 0l.36 7l.37-18l.36 26l.36-23l.37 6l.36 8l.36-22l.37 10l.36-9l.36 8l.37 5l.36 10l.37-6l.36-5l.36 0l.37 4l.36-10l.36 13l.37 5l.36-2l.36-1l.37-11l.36 22l.36-24l.37 11l.36-13l.36 11l.37-7l.36 1l.36-6l.37 26l.36-1l.36-30l.37 5l.36 16l.36 10l.37-13l.36 5l.36-12l.37 9l.36-4l.36-8l.37 26l.36-36l.36 29l.37-17l.36-1l.36 20l.37-8l.36 4l.36-19l.37 29l.36-23l.37-10l.36 5l.36 21l.37-20l.36 23l.36-17l.37 0l.36 9l.36 3l.37-17l.36 2l.36 7l.37 7l.36 5l.36 1l.37-15l.36-6l.36 12l.37-6l.36 7l.36 4l.37-17l.36 14l.36-5l.37 4l.36-6l.36 6l.37-15l.36 16l.36-8l.37-2l.36 9l.36-5l.37-13l.36-2l.36 8l.37 15l.36-16l.37 8l.36-2l.36-21l.37 36l.36-2l.36-2l.37-13l.36-6l.36-7l.37 20l.36-1l.36-3l.37-17l.36 8l.36-13l.37 35l.36-4l.36-15l.37 14l.36-2l.36-20l.37 5l.36 13l.36 0l.37-10l.36 5l.36-4l.37 11l.36-17l.36-2l.37 16l.36-8l.36 6l.37-10l.36-8l.36 23l.37-2l.36-25l.36 21l.37 11l.36-12l.37-10l.36 20l.36-6l.37-1l.36-3l.36-14l.37 24l.36-17l.36 8l.37-13l.36-7l.36 14l.37-2l.36 16l.36-19l.37-8l.36 27l.36-4l.37 4l.36-3l.36-18l.37 27l.36-20l.36-3l.37-6l.36 13l.36 0l.37 14l.36-22l.36 13l.37 7l.36-18l.36-3l.37 24l.36-29l.36 19l.37 2l.36-6l.37 15l.36-4l.36-3l.37-20l.36 8l.36 12l.37-14l.36-7l.36 13l.37-22l.36 37l.36-9l.37-12l.36-7l.36 5l.37 1l.36-5l.36 12l.37 9l.36-16l.36 8l.37 16l.36-19l.36 5l.37 15l.36-29l.36 13l.37-2l.36 2l.36 9l.37-20l.36 19l.36-19l.37 21l.36-2l.36-7l.37-5l.36 9l.37-4l.36 0l.36-16l.37 12l.36 5l.36-8l.37-13l.36 22l.36-3l.37-4l.36 11l.36-16l.37 15l.36-1l.36-17l.37 21l.36-8l.36-16l.37 12l.36-3l.36 13l.37-16l.36 16l.36-7l.37 0l.36-1l.36 8l.37-8l.36 6l.36 0l.37-2l.36-12l.36 5l.37 10l.36-10l.36-9l.37 5l.36-1l.36-3l.37 13l.36-9l.37 4l.36-13l.36 5l.37 13l.36 7l.36 4l.37-6l.36-15l.36 14l.37-2l.36-6l.36 4l.37 9l.36-26l.36 22l.37-12l.36 19l.36-22l.37-9l.36 0l.36 0l.37 10l.36 11l.36-25l.37 6l.36 3l.36 17l.37-18l.36 2l.36 25l.37-12l.36-2l.36-9l.37 2l.36 8l.36-17l.37 10l.36 20l.37-9l.36 9l.36-33l.37 32l.36-5l.36-21l.37 19l.36-14l.36-3l.37 18l.36 2l.36-11l.37 18l.36-35l.36 28l.37-16l.36-5l.36-6l.37 23l.36 4l.36-22l.37-4l.36 15l.36 19l.37-24l.36 9l.36 7l.37 2l.36-18l.36 3l.37 8l.36 1l.36 5l.37-12l.36 11l.36-19l.37 17l.36-17l.36 22l.37-32l.36 7l.37 9l.36 11l.36 2l.37-14l.36-10l.36 23l.37-17l.36-12l.36 30l.37-13l.36-5l.36-2l.37 18l.36-12l.36 1l.37 15l.36-22l.36 9l.37 13l.36-23l.36 7l.37 13l.36-16l.36 16l.37 0l.36-16l.36 7l.37 0l.36-5l.36 1l.37-9l.36 12l.36 4l.37 7l.36-20l.36 6l.37-5l.36-2l.37 7l.36-2l.36 9l.37-11l.36 20l.36-14l.37-9l.36 18l.36 13l.37-21l.36-15l.36 10l.37 16l.36 1l.36-26l.37 26l.36-18l.36-10l.37 31l.36-2l.36-7l.37-16l.36 16l.36 18l.37-14l.36-19l.36-6l.37 22l.36-1l.36 10l.37-23l.36 6l.36-3l.37 10l.36 0l.36-6l.37 11l.36-21l.36 13l.37 18l.36-18l.37 8l.36-10l.36 5l.37 8l.36-28l.36 2l.37 29l.36-15l.36 2l.37 4l.36-14l.36 20l.37-26l.36 3l.36 26l.37-28l.36 12l.36-6l.37 17l.36-7l.36-12l.37 17l.36-15l.36 0l.37-5l.36 23l.36-19l.37 4l.36 17l.36 8l.37-5l.36-18l.36 0l.37-7l.36-4l.36-1l.37 18l.36-11l.37 17l.36 7l.36-9l.37-14l.36 16l.36-17l.37-5l.36 19l.36-5l.37 2l.36-6l.36 5l.37-12l.36 23l.36-13l.37 0l.36-10l.36 13l.37-21l.36 2l.36 8l.37 10l.36 0l.36-4l.37 12l.36-23l.36 1l.37 24l.36-25l.36 25l.37-33l.36 13l.36 13l.37-24l.36 7l.36 29l.37-13l.36-3l.37 6l.36 1l.36 6l.37 4l.36-19l.36 21l.37-3l.36-21l.36 28l.37-20l.36 5l.36 6l.37 19l.36-21l.36 9l.37 13l.36-20l.36 9l.37 32l.36-27l.36 28l.37-4l.36-25l.36 21l.37-12l.36 4l.36 21l.37 7l.36 10l.36-13l.37 2l.36-13l.36 15l.37 4l.36-5l.36-11l.37 31l.36-20l.36 8l.37 4l.36 7l.37 3l.36-8l.36 5l.37-5l.36-2l.36-2l.37 16l.36-29l.36 14l.37 10l.36-7l.36-16l.37 16l.36-8l.36 1l.37 15l.36-15l.36 9l.37-16l.36 5l.36 4l.37 12l.36-21l.36 10l.37 0l.36-3l.36-6l.37 14l.36-8l.36 15l.37-22l.36 22l.36-8l.37 8l.36-7l.36-1l.37-5l.36 13l.37-12l.36 1l.36-4l.37 12l.36 5l.36-4l.37-19l.36 5l.36 23l.37-10l.36-5l.36 9l.37-14l.36-10l.36 15l.37-4l.36-6l.36 8l.37 6l.36-4l.36-3l.37 15l.36-28l.36 18l.37-1l.36 5l.36-14l.37-1l.36-5l.36 14l.37-10l.36 1l.36-1l.37 6l.36-3l.36 14l.37-24l.36 6l.36 11l.37-16l.36 21l.37-12l.36-3l.36 16l.37-2l.36-3l.36 1l.37 0l.36-7l.36 2l.37 21l.36-5l.36-6l.37-5l.36-7l.36 16l.37-6l.36-18l.36 12l.37 0l.36 8l.36-2l.37 10l.36-15l.36-7l.37 1l.36 13l.36 5l.37 4l.36-36l.36 16l.37-2l.36 1l.36-5l.37 22l.36-6l.36-12l.37 2l.36 0l.37 14l.36-6l.36-14l.37-3l.36 34l.36-18l.37-10l.36 9l.36 9l.37-2l.36-22l.36 22l.37 7l.36-40l.36 14l.37-8l.36 5l.36 10l.37 11l.36-12l.36 21l.37 2l.36-18l.36-11l.37 5l.36-7l.36 4l.37 2l.36 15l.36-2l.37-21l.36 3l.36 6l.37-1l.36 13l.36-17l.37 24l.36-21l.36 13l.37-15l.36-2l.37 21l.36 1l.36-10l.37 4l.36 15l.36-10l.37 5l.36-24l.36 16l.37 1l.36-6l.36-8l.37 24l.36-24l.36-17l.37 10l.36 11l.36 14l.37-28l.36 27l.36-17l.37 17l.36 3l.36-7l.37-2l.36-4l.36 7l.37-16l.36 26l.36-27l.37-6l.36 15l.36-1l.37-7l.36 18l.36 0l.37-6l.36 10l.37-12l.36 4l.36-6l.37 11l.36 1l.36-2l.37-1l.36 4l.36 1l.37-12l.36-2l.36 12l.37-10l.36 2l.36-10l.37 11l.36 12l.36-26l.37 7l.36-1l.36 1l.37 17l.36-30l.36 1l.37 34l.36-12l.36-12l.37-3l.36 25l.36-7l.37-12l.36-5l.36 17l.37-16l.36 12l.36 6l.37 1l.36-4l.37 5l.36-4l.36-1l.37-19l.36 21l.36-17l.37 4l.36 2l.36 10l.37-11l.36-7l.36 4l.37-10l.36 19l.36-3l.37 12l.36 1l.36-16l.37-5l.36-1l.36 31l.37-17l.36-6l.36 12l.37-16l.36 3l.36-1l.37-3l.36-4l.36-6l.37 23l.36 7l.36 5l.37-31l.36 15l.36-14l.37 12l.36-5l.36 13l.37-19l.36 30l.37-27l.36 12l.36-13l.37 17l.36 8l.36 7l.37-23l.36-1l.36 12l.37-14l.36-6l.36 21l.37-9l.36 14l.36-15l.37 2l.36-6l.36-3l.37-4l.36-5l.36 20l.37 10l.36-36l.36 19l.37 8l.36-14l.36 8l.37-12l.36 14l.36 12l.37-31l.36 13l.36 5l.37 14l.36-21l.36 25l.37-23l.36 1l.37 3l.36 4l.36-17l.37 24l.36-25l.36 11l.37 16l.36-15l.36 3l.37 9l.36-21l.36 26l.37-11l.36 4l.36-1l.37 0l.36-22l.36-1l.37 25l.36-10l.36 4l.37-14l.36-1l.36 6l.37-6l.36 1l.36 7l.37-9l.36 22l.36 5l.37-37l.36 30l.36-19l.37 10l.36 16l.36-7l.37-18l.36 6l.36 1l.37 6l.36 8l.37-17l.36 18l.36-23l.37 2l.36 13l.36-18l.37 15l.36 8l.36 1l.37-20l.36-1l.36-11l.37 27l.36-14l.36 10l.37-4l.36 10l.36-25l.37 3l.36 17l.36-15l.37 27l.36 1l.36-32l.37 8l.36 2l.36-7l.37 1l.36 18l.36-22l.37 17l.36 1l.36-2l.37-1l.36 15l.36-6l.37 8l.36-31l.37 17l.36 15l.36-23l.37 17l.36-19l.36 15l.37-9l.36 11l.36-3l.37-12l.36 12l.36-7l.37 6l.36-1l.36-11l.37 12l.36 5l.36-17l.37 9l.36-17l.36 3l.37 19l.36-12l.36 21l.37-7l.36-6l.36-7l.37-4l.36 8l.36 15l.37-22l.36 12l.36-2l.37-3l.36-14l.36 5l.37-4l.36 12l.36 3l.37-2l.36 8l.37 3l.36-16l.36 13l.37-19l.36 26l.36-26l.37 20l.36-4l.36 4l.37 3l.36-14l.36-6l.37 13l.36 15l.36-30l.37-4l.36 4l.36 11l.37 3l.36-11l.36-2l.37 16l.36-11l.36 16l.37-6l.36 1l.36-6l.37-2l.36-8l.36-1l.37 23l.36-17l.36 0l.37 4l.36 9l.36-23l.37 17l.36-2l.37-4l.36 9l.36 3l.37-1l.36 2l.36-21l.37 24l.36-17l.36 10l.37-3l.36 14l.36-17l.37 16l.36-15l.36-12l.37 12l.36 3l.36 5l.37-1l.36-21l.36 9l.37 0l.36 3l.36-3l.37 10l.36 0l.36-11l.37 13l.36-9l.36-10l.37 24l.36-24l.36 2l.37 3l.36-4l.36 6l.37-7l.36-5l.37 24l.36-14l.36 10l.37-11l.36 19l.36-2l.37-18l.36-5l.36 16l.37-5l.36 14l.36-20l.37 14l.36-17l.36-2l.37 4l.36 6l.36 16l.37-5l.36-7l.36-9l.37-6l.36 13l.36 6l.37-16l.36 5l.36 18l.37-15l.36 15l.36 0l.37-20l.36 21l.36-20l.37 23l.36-11l.36-18l.37 24l.36-5l.36 4l.37-7l.36-6l.37 5l.36-10l.36 8l.37 10l.36-20l.36 10l.37 1l.36 11l.36-5l.37-23l.36 31l.36-27l.37-3l.36 10l.36 6l.37 8l.36 1l.36-15l.37-10l.36 4l.36 6l.37 14l.36 4l.36 1l.37-6l.36 8l.36-25l.37 5l.36 11l.36-5l.37 11l.36 2l.36-17l.37-6l.36-3l.36 24l.37-26l.36 30l.37-19l.36-9l.36 2l.37 13l.36-2l.36 3l.37 12l.36-3l.36-11l.37 1l.36-17l.36 34l.37-18l.36-8l.36 19l.37-4l.36-12l.36-1l.37 15l.36-17l.36 0l.37 1l.36 21l.36-12l.37 16l.36-33l.36 8l.37 11l.36-9l.36 14l.37-3l.36 3l.36 9l.37-6l.36-16l.36 19l.37-13l.36 7l.36-6l.37-1l.36-5l.37 0l.36-7l.36 8l.37 12l.36-5l.36-6l.37-9l.36 22l.36 7l.37-7l.36-9l.36 0l.37 8l.36 0l.36 4l.37-4l.36 0l.36-8l.37 0l.36-10l.36 1l.37-2l.36-2l.36 8l.37 11l.36 1l.36 3l.37-7l.36 7l.36-13l.37-14l.36 6l.36 5l.37-5l.36 3l.36 14l.37-2l.36-24l.37 16l.36-16l.36 7l.37-1l.36 4l.36 6l.37 6l.36-29l.36 19l.37-4l.36-16l.36 24l.37-19l.36 15l.36-13l.37 7l.36-6l.36-13l.37 6l.36 17l.36-13l.37-1l.36 11l.36 1l.37-25l.36 13l.36 6l.37 1l.36-23l.36 5l.37 0l.36 18l.36-15l.37 13l.36-17l.36 2l.37 11l.36-8l.36-1l.37 9l.36-25l.37 10l.36 14l.36 5l.37-26l.36 27l.36-32l.37 5l.36-2l.36 19l.37-7l.36-5l.36 3l.37-8l.36 5l.36-15l.37 29l.36-6l.36-9l.37-4l.36-2l.36 16l.37 0l.36-4l.36-15l.37-3l.36 19l.36-7l.37-4l.36-14l.36 13l.37 9l.36-28l.36 0l.37 16l.36 8l.36-7l.37 1l.36 15l.37-19l.36-5l.36 1l.37 13l.36 3l.36-18l.37 21l.36-6l.36-9l.37 0l.36-6l.36 19l.37-28l.36 3l.36 3l.37 13l.36-22l.36 30l.37-17l.36 5l.36 11l.37-4l.36-22l.36 24l.37-3l.36-14l.36 14l.37 7l.36-12l.36-12l.37 9l.36 7l.36-10l.37-12l.36 28l.36-10l.37 3l.36-13l.37-4l.36 23l.36-21l.37 24l.36-4l.36-19l.37 12l.36 0l.36-14l.37 2l.36 10l.36-20l.37 5l.36 20l.36-11l.37-5l.36 17l.36-2l.37-26l.36-5l.36 30l.37-12l.36 0l.36-3l.37-2l.36 3l.36-9l.37 24l.36-20l.36 9l.37 10l.36-20l.36-7l.37 7l.36-8l.36-4l.37 15l.36-14l.36 20l.37 7l.36-3l.37-12l.36-22l.36 21l.37-2l.36-12l.36 27l.37-20l.36-5l.36 0l.37 14l.36-11l.36 5l.37-8l.36 14l.36-11l.37 0l.36 14l.36-20l.37 22l.36-17l.36 21l.37 1l.36-19l.36 20l.37-3l.36-2l.36-21l.37 22l.36-13l.36 5l.37-2l.36-5l.36-4l.37-3l.36 19l.36 6l.37-15l.36-10"/>
<polygon points="362.0,1080.6 386.6,1105.2 362.0,1129.8 337.4,1105.2" fill="#008000"/>
<polygon points="571.1,1105.9 595.7,1130.5 571.1,1155.1 546.5,1130.5" fill="#008000"/>
<polygon points="779.1,1196.5 803.7,1221.1 779.1,1245.7 754.5,1221.1" fill="#008000"/>
<polygon points="987.5,1184.2 1012.1,1208.8 987.5,1233.4 962.9,1208.8" fill="#008000"/>
<polygon points="1196.5,1279.6 1221.1,1304.2 1196.5,1328.8 1171.9,1304.2" fill="#008000"/>
<polygon points="1405.0,1350.6 1429.6,1375.2 1405.0,1399.8 1380.4,1375.2" fill="#008000"/>
<polygon points="1613.8,1430.3 1638.4,1454.9 1613.8,1479.5 1589.2,1454.9" fill="#008000"/>
<polygon points="1822.5,1471.3 1847.1,1495.9 1822.5,1520.5 1797.9,1495.9" fill="#008000"/>
<polygon points="2031.0,1543.0 2055.6,1567.6 2031.0,1592.2 2006.4,1567.6" fill="#008000"/>
</g>
<path class="a" stroke-linejoin="round" d="M309.80,29.10 H2308.60 V1643.40 H309.80 Z M362.00,1643.40 v-31.25 M362.00,29.10 v31.25 M362.00,1078.55 V1141.05 M491.79,1643.40 v-15.60 M491.79,29.10 v15.60 M491.79,1094.20 V1125.40 M621.58,1643.40 v-31.25 M621.58,29.10 v31.25 M621.58,1078.55 V1141.05 M751.38,1643.40 v-15.60 M751.38,29.10 v15.60 M751.38,1094.20 V1125.40 M881.17,1643.40 v-31.25 M881.17,29.10 v31.25 M881.17,1078.55 V1141.05 M1010.96,1643.40 v-15.60 M1010.96,29.10 v15.60 M1010.96,1094.20 V1125.40 M1140.75,1643.40 v-31.25 M1140.75,29.10 v31.25 M1140.75,1078.55 V1141.05 M1270.55,1643.40 v-15.60 M1270.55,29.10 v15.60 M1270.55,1094.20 V1125.40 M1400.34,1643.40 v-31.25 M1400.34,29.10 v31.25 M1400.34,1078.55 V1141.05 M1530.13,1643.40 v-15.60 M1530.13,29.10 v15.60 M1530.13,1094.20 V1125.40 M1659.92,1643.40 v-31.25 M1659.92,29.10 v31.25 M1659.92,1078.55 V1141.05 M1789.71,1643.40 v-15.60 M1789.71,29.10 v15.60 M1789.71,1094.20 V1125.40 M1919.51,1643.40 v-31.25 M1919.51,29.10 v31.25 M1919.51,1078.55 V1141.05 M2049.30,1643.40 v-15.60 M2049.30,29.10 v15.60 M2049.30,1094.20 V1125.40 M2179.09,1643.40 v-31.25 M2179.09,29.10 v31.25 M2179.09,1078.55 V1141.05 M2308.48,1094.20 V1125.40 M309.80,1622.45 h15.60 M2308.60,1622.45 h-15.60 M309.80,1519.00 h31.25 M2308.60,1519.00 h-31.25 M309.80,1415.55 h15.60 M2308.60,1415.55 h-15.60 M309.80,1312.10 h31.25 M2308.60,1312.10 h-31.25 M309.80,1208.65 h15.60 M2308.60,1208.65 h-15.60 M309.80,1105.20 h31.25 M2308.60,1105.20 h-31.25 M309.80,1001.75 h15.60 M2308.60,1001.75 h-15.60 M309.80,898.30 h31.25 M2308.60,898.30 h-31.25 M309.80,794.85 h15.60 M2308.60,794.85 h-15.60 M309.80,691.40 h31.25 M2308.60,691.40 h-31.25 M309.80,587.95 h15.60 M2308.60,587.95 h-15.60 M309.80,484.50 h31.25 M2308.60,484.50 h-31.25 M309.80,381.05 h15.60 M2308.60,381.05 h-15.60 M309.80,277.60 h31.25 M2308.60,277.60 h-31.25 M309.80,174.15 h15.60 M2308.60,174.15 h-15.60 M309.80,70.70 h31.25 M2308.60,70.70 h-31.25 M309.80,1109.80 H2308.60"/>
<text class="tk" transform="translate(274.2 1543.4) scale(0.9610 1)" text-anchor="end">-0.4</text>
<text class="tk" transform="translate(274.2 1336.5) scale(0.9610 1)" text-anchor="end">-0.2</text>
<text class="tk" transform="translate(274.2 1129.6) scale(0.9610 1)" text-anchor="end">0.0</text>
<text class="tk" transform="translate(274.2 922.7) scale(0.9610 1)" text-anchor="end">0.2</text>
<text class="tk" transform="translate(274.2 715.8) scale(0.9610 1)" text-anchor="end">0.4</text>
<text class="tk" transform="translate(274.2 508.9) scale(0.9610 1)" text-anchor="end">0.6</text>
<text class="tk" transform="translate(274.2 302.0) scale(0.9610 1)" text-anchor="end">0.8</text>
<text class="tk" transform="translate(274.2 95.1) scale(0.9610 1)" text-anchor="end">1.0</text>
<text class="tk" transform="translate(361.5 1743.4) scale(0.9610 1)" text-anchor="middle">0</text>
<text class="tk" transform="translate(621.1 1743.4) scale(0.9610 1)" text-anchor="middle">500</text>
<text class="tk" transform="translate(880.7 1743.4) scale(0.9610 1)" text-anchor="middle">1000</text>
<text class="tk" transform="translate(1140.3 1743.4) scale(0.9610 1)" text-anchor="middle">1500</text>
<text class="tk" transform="translate(1399.8 1743.4) scale(0.9610 1)" text-anchor="middle">2000</text>
<text class="tk" transform="translate(1659.4 1743.4) scale(0.9610 1)" text-anchor="middle">2500</text>
<text class="tk" transform="translate(1919.0 1743.4) scale(0.9610 1)" text-anchor="middle">3000</text>
<text class="tk" transform="translate(2178.6 1743.4) scale(0.9610 1)" text-anchor="middle">3500</text>
<text class="ax" transform="translate(1275.6 1845.5) scale(0.9857 1)" text-anchor="middle">Time (s)</text>
<text class="ax" transform="translate(96.0 835.8) rotate(-90) scale(0.9857 1)" text-anchor="middle">Deformation (mm)</text>
<rect x="350.1" y="67.4" width="603.9" height="517.6" fill="#fff" stroke="#000" stroke-width="2.4"/>
<path class="ln" stroke="#000000" d="M361.5,124.2 H546.5"/>
<rect x="436.4" y="106.9" width="34.6" height="34.6" fill="#000000"/>
<text class="tk" transform="translate(569.0 153.6) scale(0.9610 1)">Rec-Op-V</text>
<path class="ln" stroke="#ff0000" d="M361.5,225.6 H546.5"/>
<circle cx="453.7" cy="225.6" r="19.2" fill="#ff0000"/>
<text class="tk" transform="translate(569.0 255.0) scale(0.9610 1)">BC-Op-V</text>
<path class="ln" stroke="#0000ff" d="M361.5,326.9 H546.5"/>
<polygon points="453.7,299.6 477.4,340.6 430.0,340.6" fill="#0000ff"/>
<text class="tk" transform="translate(569.0 356.3) scale(0.9610 1)">SC-Op-V</text>
<path class="ln" stroke="#ff00ff" d="M361.5,428.3 H546.5"/>
<polygon points="453.7,455.7 477.4,414.6 430.0,414.6" fill="#ff00ff"/>
<text class="tk" transform="translate(569.0 457.7) scale(0.9610 1)">Non-Op-V</text>
<path class="ln" stroke="#008000" d="M361.5,529.7 H546.5"/>
<polygon points="453.7,505.1 478.3,529.7 453.7,554.3 429.1,529.7" fill="#008000"/>
<text class="tk" transform="translate(569.0 559.1) scale(0.9610 1)">SC-Op-H</text>
<text class="cap" transform="translate(1139.9 1964.9) scale(.92 1)" font-size="85.2">(</text>
<text class="cap" transform="translate(1167.7 1965.5) scale(1.055 1)" font-size="76.4" font-weight="bold">a</text>
<text class="cap" transform="translate(1210.5 1964.9) scale(.92 1)" font-size="85.2">)</text>
</svg></body></html>
